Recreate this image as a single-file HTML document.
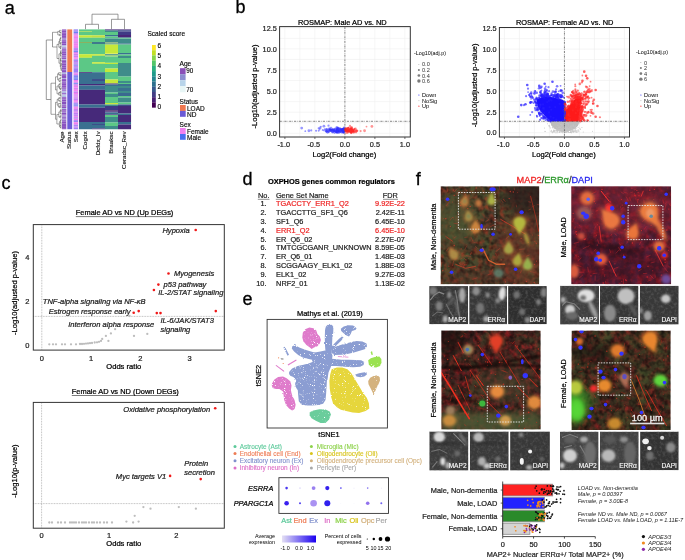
<!DOCTYPE html>
<html><head><meta charset="utf-8"><style>
html,body{margin:0;padding:0;background:#fff;width:685px;height:560px;overflow:hidden}
svg{display:block;filter:blur(0.3px);font-family:"Liberation Sans",sans-serif}
text{opacity:0.999;paint-order:stroke}
</style></head><body>
<svg width="685" height="560" viewBox="0 0 685 560">
<rect width="685" height="560" fill="#fff"/>
<defs>
<filter id="soft" color-interpolation-filters="sRGB" x="0" y="0" width="100%" height="100%"><feGaussianBlur stdDeviation="0.45"/></filter>
<filter id="b05" color-interpolation-filters="sRGB" x="-50%" y="-50%" width="200%" height="200%"><feGaussianBlur stdDeviation="0.5"/></filter>
<filter id="b07" color-interpolation-filters="sRGB" x="-50%" y="-50%" width="200%" height="200%"><feGaussianBlur stdDeviation="0.7"/></filter>
<filter id="b1" color-interpolation-filters="sRGB" x="-50%" y="-50%" width="200%" height="200%"><feGaussianBlur stdDeviation="1"/></filter>
<filter id="b15" color-interpolation-filters="sRGB" x="-50%" y="-50%" width="200%" height="200%"><feGaussianBlur stdDeviation="1.5"/></filter>
<filter id="b2" color-interpolation-filters="sRGB" x="-50%" y="-50%" width="200%" height="200%"><feGaussianBlur stdDeviation="2"/></filter>
<filter id="b3" color-interpolation-filters="sRGB" x="-50%" y="-50%" width="200%" height="200%"><feGaussianBlur stdDeviation="3"/></filter>
<filter id="b5" color-interpolation-filters="sRGB" x="-50%" y="-50%" width="200%" height="200%"><feGaussianBlur stdDeviation="5"/></filter>
<linearGradient id="expg" x1="0" x2="1" y1="0" y2="0"><stop offset="0" stop-color="#e4e0f4"/><stop offset="1" stop-color="#1a00f0"/></linearGradient>
<filter id="rag" color-interpolation-filters="sRGB" x="-5%" y="-5%" width="110%" height="110%"><feTurbulence type="fractalNoise" baseFrequency="0.9" numOctaves="1" seed="4" result="t"/><feDisplacementMap in="SourceGraphic" in2="t" scale="2.2" xChannelSelector="R" yChannelSelector="G" result="d"/><feTurbulence type="fractalNoise" baseFrequency="1.1" numOctaves="1" seed="9" result="t2"/><feColorMatrix in="t2" type="matrix" values="0 0 0 0 0  0 0 0 0 0  0 0 0 0 0  -12 0 0 0 8.9" result="m"/><feComposite in="d" in2="m" operator="in"/></filter>
</defs>
<defs>
<filter id="nzR" color-interpolation-filters="sRGB" x="0" y="0" width="100%" height="100%"><feTurbulence type="fractalNoise" baseFrequency="0.18" numOctaves="2" seed="3"/><feColorMatrix type="matrix" values="0 0 0 0 0.75  0 0 0 0 0.18  0 0 0 0 0.12  1.6 0 0 0 -0.68"/></filter>
<filter id="nzR2" color-interpolation-filters="sRGB" x="0" y="0" width="100%" height="100%"><feTurbulence type="fractalNoise" baseFrequency="0.16" numOctaves="3" seed="8"/><feColorMatrix type="matrix" values="0 0 0 0 0.78  0 0 0 0 0.1  0 0 0 0 0.14  1.6 0 0 0 -0.62"/></filter>
<filter id="nzG" color-interpolation-filters="sRGB" x="0" y="0" width="100%" height="100%"><feTurbulence type="fractalNoise" baseFrequency="0.06" numOctaves="2" seed="5"/><feColorMatrix type="matrix" values="0 0 0 0 0.3  0 0 0 0 0.4  0 0 0 0 0.2  0 1.6 0 0 -0.6"/></filter>
<filter id="nzP" color-interpolation-filters="sRGB" x="0" y="0" width="100%" height="100%"><feTurbulence type="fractalNoise" baseFrequency="0.1" numOctaves="2" seed="11"/><feColorMatrix type="matrix" values="0 0 0 0 0.4  0 0 0 0 0.22  0 0 0 0 0.42  0 0 1.5 0 -0.6"/></filter>
<filter id="nzD" color-interpolation-filters="sRGB" x="0" y="0" width="100%" height="100%"><feTurbulence type="fractalNoise" baseFrequency="0.2" numOctaves="2" seed="21"/><feColorMatrix type="matrix" values="0 0 0 0 0.05  0 0 0 0 0.03  0 0 0 0 0.03  0 0 1.8 0 -0.7"/></filter>
<filter id="nzW" color-interpolation-filters="sRGB" x="0" y="0" width="100%" height="100%"><feTurbulence type="fractalNoise" baseFrequency="0.35" numOctaves="2" seed="31"/><feColorMatrix type="matrix" values="0 0 0 0 0.42  0 0 0 0 0.42  0 0 0 0 0.42  1.3 0 0 0 -0.55"/></filter>
</defs>
<text x="4.80" y="14.00" font-size="18" text-anchor="start" fill="#000" stroke="#000" stroke-width="0.30">a</text>
<rect x="79.00" y="29.40" width="13.05" height="1.65" fill="#5cc886"/>
<rect x="79.00" y="31.00" width="13.05" height="0.85" fill="#a8dc50"/>
<rect x="79.00" y="31.80" width="13.05" height="3.55" fill="#5cc886"/>
<rect x="79.00" y="35.30" width="13.05" height="2.45" fill="#c6e83a"/>
<rect x="79.00" y="37.70" width="13.05" height="4.35" fill="#5cc886"/>
<rect x="79.00" y="42.00" width="13.05" height="1.05" fill="#8cb060"/>
<rect x="79.00" y="43.00" width="13.05" height="11.25" fill="#5cc886"/>
<rect x="79.00" y="54.20" width="13.05" height="3.65" fill="#c6e83a"/>
<rect x="79.00" y="57.80" width="13.05" height="14.45" fill="#5cc886"/>
<rect x="79.00" y="72.20" width="13.05" height="0.85" fill="#46297a"/>
<rect x="79.00" y="73.00" width="13.05" height="11.05" fill="#3a7090"/>
<rect x="79.00" y="84.00" width="13.05" height="1.55" fill="#46297a"/>
<rect x="79.00" y="85.50" width="13.05" height="4.35" fill="#3a7090"/>
<rect x="79.00" y="89.80" width="13.05" height="14.75" fill="#46297a"/>
<rect x="79.00" y="104.50" width="13.05" height="3.25" fill="#3a7090"/>
<rect x="79.00" y="107.70" width="13.05" height="14.35" fill="#46297a"/>
<rect x="79.00" y="122.00" width="13.05" height="7.25" fill="#3a7090"/>
<rect x="92.00" y="29.40" width="13.05" height="5.95" fill="#5cc886"/>
<rect x="92.00" y="35.30" width="13.05" height="2.45" fill="#c0e040"/>
<rect x="92.00" y="37.70" width="13.05" height="4.35" fill="#5cc886"/>
<rect x="92.00" y="42.00" width="13.05" height="2.05" fill="#3f7a8c"/>
<rect x="92.00" y="44.00" width="13.05" height="10.25" fill="#5cc886"/>
<rect x="92.00" y="54.20" width="13.05" height="1.65" fill="#c6e83a"/>
<rect x="92.00" y="55.80" width="13.05" height="6.45" fill="#5cc886"/>
<rect x="92.00" y="62.20" width="13.05" height="1.65" fill="#c6e83a"/>
<rect x="92.00" y="63.80" width="13.05" height="8.45" fill="#5cc886"/>
<rect x="92.00" y="72.20" width="13.05" height="6.85" fill="#3a7090"/>
<rect x="92.00" y="79.00" width="13.05" height="2.05" fill="#3d4e8a"/>
<rect x="92.00" y="81.00" width="13.05" height="3.05" fill="#3a7090"/>
<rect x="92.00" y="84.00" width="13.05" height="1.55" fill="#46297a"/>
<rect x="92.00" y="85.50" width="13.05" height="4.35" fill="#3a7090"/>
<rect x="92.00" y="89.80" width="13.05" height="14.75" fill="#46297a"/>
<rect x="92.00" y="104.50" width="13.05" height="3.25" fill="#3a7090"/>
<rect x="92.00" y="107.70" width="13.05" height="14.35" fill="#46297a"/>
<rect x="92.00" y="122.00" width="13.05" height="2.05" fill="#3a7090"/>
<rect x="92.00" y="124.00" width="13.05" height="1.05" fill="#3d4e8a"/>
<rect x="92.00" y="125.00" width="13.05" height="3.55" fill="#3a7090"/>
<rect x="92.00" y="128.50" width="13.05" height="0.75" fill="#46297a"/>
<rect x="105.00" y="29.40" width="13.05" height="1.15" fill="#46297a"/>
<rect x="105.00" y="30.50" width="13.05" height="1.55" fill="#3f8c8a"/>
<rect x="105.00" y="32.00" width="13.05" height="3.05" fill="#5cc886"/>
<rect x="105.00" y="35.00" width="13.05" height="1.55" fill="#3a7090"/>
<rect x="105.00" y="36.50" width="13.05" height="2.05" fill="#5cc886"/>
<rect x="105.00" y="38.50" width="13.05" height="4.05" fill="#3f8c8a"/>
<rect x="105.00" y="42.50" width="13.05" height="1.05" fill="#8cb060"/>
<rect x="105.00" y="43.50" width="13.05" height="1.05" fill="#3f8c8a"/>
<rect x="105.00" y="44.50" width="13.05" height="9.05" fill="#c6e83a"/>
<rect x="105.00" y="53.50" width="13.05" height="0.75" fill="#d8e838"/>
<rect x="105.00" y="54.20" width="13.05" height="1.35" fill="#3f8c8a"/>
<rect x="105.00" y="55.50" width="13.05" height="1.05" fill="#a0d850"/>
<rect x="105.00" y="56.50" width="13.05" height="6.35" fill="#5cc886"/>
<rect x="105.00" y="62.80" width="13.05" height="1.25" fill="#c6e83a"/>
<rect x="105.00" y="64.00" width="13.05" height="4.55" fill="#5cc886"/>
<rect x="105.00" y="68.50" width="13.05" height="3.55" fill="#c6e83a"/>
<rect x="105.00" y="72.00" width="13.05" height="7.55" fill="#5cc886"/>
<rect x="105.00" y="79.50" width="13.05" height="4.05" fill="#c6e83a"/>
<rect x="105.00" y="83.50" width="13.05" height="1.05" fill="#46297a"/>
<rect x="105.00" y="84.50" width="13.05" height="1.55" fill="#3a7090"/>
<rect x="105.00" y="86.00" width="13.05" height="6.55" fill="#3f8c8a"/>
<rect x="105.00" y="92.50" width="13.05" height="1.55" fill="#5cc886"/>
<rect x="105.00" y="94.00" width="13.05" height="3.05" fill="#3f8c8a"/>
<rect x="105.00" y="97.00" width="13.05" height="6.05" fill="#5cc886"/>
<rect x="105.00" y="103.00" width="13.05" height="1.55" fill="#c6e83a"/>
<rect x="105.00" y="104.50" width="13.05" height="1.55" fill="#3f8c8a"/>
<rect x="105.00" y="106.00" width="13.05" height="4.55" fill="#3f3a85"/>
<rect x="105.00" y="110.50" width="13.05" height="1.05" fill="#440c55"/>
<rect x="105.00" y="111.50" width="13.05" height="1.05" fill="#3f3a85"/>
<rect x="105.00" y="112.50" width="13.05" height="2.05" fill="#3a7090"/>
<rect x="105.00" y="114.50" width="13.05" height="0.55" fill="#46297a"/>
<rect x="105.00" y="115.00" width="13.05" height="2.05" fill="#5cc886"/>
<rect x="105.00" y="117.00" width="13.05" height="5.55" fill="#3f8c8a"/>
<rect x="105.00" y="122.50" width="13.05" height="3.55" fill="#5cc886"/>
<rect x="105.00" y="126.00" width="13.05" height="3.25" fill="#3f8c8a"/>
<rect x="118.00" y="29.40" width="13.05" height="0.95" fill="#46297a"/>
<rect x="118.00" y="30.30" width="13.05" height="1.25" fill="#3d4e8a"/>
<rect x="118.00" y="31.50" width="13.05" height="3.55" fill="#403a85"/>
<rect x="118.00" y="35.00" width="13.05" height="2.55" fill="#4a2478"/>
<rect x="118.00" y="37.50" width="13.05" height="1.05" fill="#3f8c8a"/>
<rect x="118.00" y="38.50" width="13.05" height="0.55" fill="#5cc886"/>
<rect x="118.00" y="39.00" width="13.05" height="4.55" fill="#3f8c8a"/>
<rect x="118.00" y="43.50" width="13.05" height="1.05" fill="#3a7090"/>
<rect x="118.00" y="44.50" width="13.05" height="8.55" fill="#5cc886"/>
<rect x="118.00" y="53.00" width="13.05" height="1.55" fill="#3a7090"/>
<rect x="118.00" y="54.50" width="13.05" height="1.55" fill="#5cc886"/>
<rect x="118.00" y="56.00" width="13.05" height="2.05" fill="#3f8c8a"/>
<rect x="118.00" y="58.00" width="13.05" height="5.05" fill="#5cc886"/>
<rect x="118.00" y="63.00" width="13.05" height="13.55" fill="#3f8c8a"/>
<rect x="118.00" y="76.50" width="13.05" height="4.55" fill="#5cc886"/>
<rect x="118.00" y="81.00" width="13.05" height="2.05" fill="#3f8c8a"/>
<rect x="118.00" y="83.00" width="13.05" height="1.05" fill="#5cc886"/>
<rect x="118.00" y="84.00" width="13.05" height="2.05" fill="#3a7090"/>
<rect x="118.00" y="86.00" width="13.05" height="2.05" fill="#3f8c8a"/>
<rect x="118.00" y="88.00" width="13.05" height="3.05" fill="#3a7090"/>
<rect x="118.00" y="91.00" width="13.05" height="2.05" fill="#3f8c8a"/>
<rect x="118.00" y="93.00" width="13.05" height="3.05" fill="#3a6890"/>
<rect x="118.00" y="96.00" width="13.05" height="1.55" fill="#5cc886"/>
<rect x="118.00" y="97.50" width="13.05" height="5.05" fill="#3f8c8a"/>
<rect x="118.00" y="102.50" width="13.05" height="2.05" fill="#5cc886"/>
<rect x="118.00" y="104.50" width="13.05" height="1.55" fill="#3d4e8a"/>
<rect x="118.00" y="106.00" width="13.05" height="7.55" fill="#46297a"/>
<rect x="118.00" y="113.50" width="13.05" height="1.55" fill="#3a7090"/>
<rect x="118.00" y="115.00" width="13.05" height="7.05" fill="#46297a"/>
<rect x="118.00" y="122.00" width="13.05" height="2.55" fill="#3a7090"/>
<rect x="118.00" y="124.50" width="13.05" height="4.75" fill="#46297a"/>
<rect x="67.30" y="29.40" width="4.90" height="42.60" fill="#f07b52"/>
<rect x="67.30" y="72.00" width="4.90" height="57.20" fill="#6b5bd6"/>
<rect x="62.00" y="29.40" width="4.30" height="1.25" fill="#9058c4"/>
<rect x="62.00" y="30.60" width="4.30" height="1.65" fill="#8a52c0"/>
<rect x="62.00" y="32.20" width="4.30" height="0.85" fill="#9460c8"/>
<rect x="62.00" y="33.00" width="4.30" height="0.85" fill="#8a52c0"/>
<rect x="62.00" y="33.80" width="4.30" height="2.05" fill="#8a52c0"/>
<rect x="62.00" y="35.80" width="4.30" height="2.05" fill="#8a52c0"/>
<rect x="62.00" y="37.80" width="4.30" height="0.85" fill="#8a52c0"/>
<rect x="62.00" y="38.60" width="4.30" height="1.65" fill="#a890d8"/>
<rect x="62.00" y="40.20" width="4.30" height="0.85" fill="#8a52c0"/>
<rect x="62.00" y="41.00" width="4.30" height="0.85" fill="#9460c8"/>
<rect x="62.00" y="41.80" width="4.30" height="1.65" fill="#8a52c0"/>
<rect x="62.00" y="43.40" width="4.30" height="2.05" fill="#8a52c0"/>
<rect x="62.00" y="45.40" width="4.30" height="1.05" fill="#b0b8e4"/>
<rect x="62.00" y="46.40" width="4.30" height="0.85" fill="#b0b8e4"/>
<rect x="62.00" y="47.20" width="4.30" height="2.05" fill="#a890d8"/>
<rect x="62.00" y="49.20" width="4.30" height="0.85" fill="#8a52c0"/>
<rect x="62.00" y="50.00" width="4.30" height="0.85" fill="#9460c8"/>
<rect x="62.00" y="50.80" width="4.30" height="1.05" fill="#9a70cc"/>
<rect x="62.00" y="51.80" width="4.30" height="1.65" fill="#9058c4"/>
<rect x="62.00" y="53.40" width="4.30" height="2.05" fill="#8a52c0"/>
<rect x="62.00" y="55.40" width="4.30" height="2.05" fill="#9a70cc"/>
<rect x="62.00" y="57.40" width="4.30" height="2.05" fill="#9058c4"/>
<rect x="62.00" y="59.40" width="4.30" height="0.85" fill="#b0b8e4"/>
<rect x="62.00" y="60.20" width="4.30" height="2.05" fill="#8a52c0"/>
<rect x="62.00" y="62.20" width="4.30" height="1.25" fill="#8a52c0"/>
<rect x="62.00" y="63.40" width="4.30" height="2.05" fill="#8a52c0"/>
<rect x="62.00" y="65.40" width="4.30" height="2.05" fill="#8a52c0"/>
<rect x="62.00" y="67.40" width="4.30" height="2.05" fill="#8a52c0"/>
<rect x="62.00" y="69.40" width="4.30" height="1.65" fill="#9460c8"/>
<rect x="62.00" y="71.00" width="4.30" height="1.65" fill="#8a52c0"/>
<rect x="62.00" y="72.60" width="4.30" height="1.65" fill="#b0b8e4"/>
<rect x="62.00" y="74.20" width="4.30" height="1.65" fill="#8a52c0"/>
<rect x="62.00" y="75.80" width="4.30" height="1.25" fill="#8a52c0"/>
<rect x="62.00" y="77.00" width="4.30" height="1.05" fill="#8a52c0"/>
<rect x="62.00" y="78.00" width="4.30" height="0.85" fill="#b0b8e4"/>
<rect x="62.00" y="78.80" width="4.30" height="1.25" fill="#9460c8"/>
<rect x="62.00" y="80.00" width="4.30" height="1.65" fill="#8a52c0"/>
<rect x="62.00" y="81.60" width="4.30" height="1.65" fill="#9a70cc"/>
<rect x="62.00" y="83.20" width="4.30" height="2.05" fill="#8a52c0"/>
<rect x="62.00" y="85.20" width="4.30" height="0.85" fill="#9460c8"/>
<rect x="62.00" y="86.00" width="4.30" height="1.65" fill="#9058c4"/>
<rect x="62.00" y="87.60" width="4.30" height="1.25" fill="#9058c4"/>
<rect x="62.00" y="88.80" width="4.30" height="1.65" fill="#a890d8"/>
<rect x="62.00" y="90.40" width="4.30" height="0.85" fill="#8a52c0"/>
<rect x="62.00" y="91.20" width="4.30" height="2.05" fill="#b0b8e4"/>
<rect x="62.00" y="93.20" width="4.30" height="1.25" fill="#8a52c0"/>
<rect x="62.00" y="94.40" width="4.30" height="1.25" fill="#b0b8e4"/>
<rect x="62.00" y="95.60" width="4.30" height="1.65" fill="#b0b8e4"/>
<rect x="62.00" y="97.20" width="4.30" height="1.65" fill="#8a52c0"/>
<rect x="62.00" y="98.80" width="4.30" height="0.85" fill="#9a70cc"/>
<rect x="62.00" y="99.60" width="4.30" height="1.65" fill="#8a52c0"/>
<rect x="62.00" y="101.20" width="4.30" height="0.85" fill="#9a70cc"/>
<rect x="62.00" y="102.00" width="4.30" height="2.05" fill="#8650bc"/>
<rect x="62.00" y="104.00" width="4.30" height="1.25" fill="#a890d8"/>
<rect x="62.00" y="105.20" width="4.30" height="1.25" fill="#8a52c0"/>
<rect x="62.00" y="106.40" width="4.30" height="1.65" fill="#8a52c0"/>
<rect x="62.00" y="108.00" width="4.30" height="1.05" fill="#b0b8e4"/>
<rect x="62.00" y="109.00" width="4.30" height="0.85" fill="#8650bc"/>
<rect x="62.00" y="109.80" width="4.30" height="0.85" fill="#8a52c0"/>
<rect x="62.00" y="110.60" width="4.30" height="1.25" fill="#9058c4"/>
<rect x="62.00" y="111.80" width="4.30" height="1.05" fill="#a890d8"/>
<rect x="62.00" y="112.80" width="4.30" height="1.65" fill="#8650bc"/>
<rect x="62.00" y="114.40" width="4.30" height="0.85" fill="#9058c4"/>
<rect x="62.00" y="115.20" width="4.30" height="1.65" fill="#a890d8"/>
<rect x="62.00" y="116.80" width="4.30" height="2.05" fill="#9a70cc"/>
<rect x="62.00" y="118.80" width="4.30" height="1.05" fill="#a890d8"/>
<rect x="62.00" y="119.80" width="4.30" height="2.05" fill="#9a70cc"/>
<rect x="62.00" y="121.80" width="4.30" height="1.65" fill="#8a52c0"/>
<rect x="62.00" y="123.40" width="4.30" height="1.65" fill="#8a52c0"/>
<rect x="62.00" y="125.00" width="4.30" height="1.05" fill="#8a52c0"/>
<rect x="62.00" y="126.00" width="4.30" height="1.05" fill="#9058c4"/>
<rect x="62.00" y="127.00" width="4.30" height="1.05" fill="#8a52c0"/>
<rect x="62.00" y="128.00" width="4.30" height="0.85" fill="#8650bc"/>
<rect x="62.00" y="128.80" width="4.30" height="0.45" fill="#9058c4"/>
<rect x="73.60" y="29.40" width="4.50" height="1.35" fill="#8a80f4"/>
<rect x="73.60" y="30.70" width="4.50" height="0.85" fill="#c07ef4"/>
<rect x="73.60" y="31.50" width="4.50" height="1.65" fill="#6f7ff5"/>
<rect x="73.60" y="33.10" width="4.50" height="1.35" fill="#c07ef4"/>
<rect x="73.60" y="34.40" width="4.50" height="0.85" fill="#d080f0"/>
<rect x="73.60" y="35.20" width="4.50" height="1.65" fill="#f07ef0"/>
<rect x="73.60" y="36.80" width="4.50" height="1.65" fill="#f07ef0"/>
<rect x="73.60" y="38.40" width="4.50" height="0.85" fill="#d080f0"/>
<rect x="73.60" y="39.20" width="4.50" height="1.65" fill="#f07ef0"/>
<rect x="73.60" y="40.80" width="4.50" height="1.05" fill="#f07ef0"/>
<rect x="73.60" y="41.80" width="4.50" height="1.05" fill="#d080f0"/>
<rect x="73.60" y="42.80" width="4.50" height="1.05" fill="#f07ef0"/>
<rect x="73.60" y="43.80" width="4.50" height="1.35" fill="#f07ef0"/>
<rect x="73.60" y="45.10" width="4.50" height="0.85" fill="#f07ef0"/>
<rect x="73.60" y="45.90" width="4.50" height="1.05" fill="#f07ef0"/>
<rect x="73.60" y="46.90" width="4.50" height="1.35" fill="#f07ef0"/>
<rect x="73.60" y="48.20" width="4.50" height="0.85" fill="#a07ef8"/>
<rect x="73.60" y="49.00" width="4.50" height="1.65" fill="#c07ef4"/>
<rect x="73.60" y="50.60" width="4.50" height="1.35" fill="#6f7ff5"/>
<rect x="73.60" y="51.90" width="4.50" height="1.35" fill="#d080f0"/>
<rect x="73.60" y="53.20" width="4.50" height="0.85" fill="#f07ef0"/>
<rect x="73.60" y="54.00" width="4.50" height="1.65" fill="#d080f0"/>
<rect x="73.60" y="55.60" width="4.50" height="1.65" fill="#d080f0"/>
<rect x="73.60" y="57.20" width="4.50" height="1.35" fill="#f07ef0"/>
<rect x="73.60" y="58.50" width="4.50" height="1.05" fill="#f07ef0"/>
<rect x="73.60" y="59.50" width="4.50" height="1.35" fill="#8a80f4"/>
<rect x="73.60" y="60.80" width="4.50" height="1.65" fill="#c07ef4"/>
<rect x="73.60" y="62.40" width="4.50" height="0.85" fill="#a07ef8"/>
<rect x="73.60" y="63.20" width="4.50" height="1.35" fill="#c07ef4"/>
<rect x="73.60" y="64.50" width="4.50" height="0.85" fill="#8a80f4"/>
<rect x="73.60" y="65.30" width="4.50" height="0.85" fill="#8a80f4"/>
<rect x="73.60" y="66.10" width="4.50" height="1.35" fill="#c07ef4"/>
<rect x="73.60" y="67.40" width="4.50" height="1.35" fill="#a07ef8"/>
<rect x="73.60" y="68.70" width="4.50" height="1.35" fill="#a07ef8"/>
<rect x="73.60" y="70.00" width="4.50" height="1.05" fill="#a07ef8"/>
<rect x="73.60" y="71.00" width="4.50" height="1.65" fill="#a07ef8"/>
<rect x="73.60" y="72.60" width="4.50" height="1.05" fill="#d080f0"/>
<rect x="73.60" y="73.60" width="4.50" height="1.35" fill="#f07ef0"/>
<rect x="73.60" y="74.90" width="4.50" height="0.85" fill="#8a80f4"/>
<rect x="73.60" y="75.70" width="4.50" height="1.65" fill="#8a80f4"/>
<rect x="73.60" y="77.30" width="4.50" height="1.05" fill="#6f7ff5"/>
<rect x="73.60" y="78.30" width="4.50" height="1.65" fill="#6f7ff5"/>
<rect x="73.60" y="79.90" width="4.50" height="1.35" fill="#f07ef0"/>
<rect x="73.60" y="81.20" width="4.50" height="1.05" fill="#f07ef0"/>
<rect x="73.60" y="82.20" width="4.50" height="1.05" fill="#d080f0"/>
<rect x="73.60" y="83.20" width="4.50" height="1.05" fill="#6f7ff5"/>
<rect x="73.60" y="84.20" width="4.50" height="1.05" fill="#d080f0"/>
<rect x="73.60" y="85.20" width="4.50" height="0.85" fill="#d080f0"/>
<rect x="73.60" y="86.00" width="4.50" height="1.35" fill="#f07ef0"/>
<rect x="73.60" y="87.30" width="4.50" height="0.85" fill="#f07ef0"/>
<rect x="73.60" y="88.10" width="4.50" height="1.05" fill="#d080f0"/>
<rect x="73.60" y="89.10" width="4.50" height="1.05" fill="#f07ef0"/>
<rect x="73.60" y="90.10" width="4.50" height="1.35" fill="#f07ef0"/>
<rect x="73.60" y="91.40" width="4.50" height="1.65" fill="#d080f0"/>
<rect x="73.60" y="93.00" width="4.50" height="1.65" fill="#f07ef0"/>
<rect x="73.60" y="94.60" width="4.50" height="1.05" fill="#c07ef4"/>
<rect x="73.60" y="95.60" width="4.50" height="1.05" fill="#f07ef0"/>
<rect x="73.60" y="96.60" width="4.50" height="1.05" fill="#d080f0"/>
<rect x="73.60" y="97.60" width="4.50" height="1.05" fill="#d080f0"/>
<rect x="73.60" y="98.60" width="4.50" height="1.35" fill="#c07ef4"/>
<rect x="73.60" y="99.90" width="4.50" height="1.05" fill="#f07ef0"/>
<rect x="73.60" y="100.90" width="4.50" height="0.85" fill="#f07ef0"/>
<rect x="73.60" y="101.70" width="4.50" height="1.05" fill="#f07ef0"/>
<rect x="73.60" y="102.70" width="4.50" height="1.05" fill="#a07ef8"/>
<rect x="73.60" y="103.70" width="4.50" height="0.85" fill="#8a80f4"/>
<rect x="73.60" y="104.50" width="4.50" height="1.05" fill="#8a80f4"/>
<rect x="73.60" y="105.50" width="4.50" height="1.05" fill="#6f7ff5"/>
<rect x="73.60" y="106.50" width="4.50" height="1.35" fill="#f07ef0"/>
<rect x="73.60" y="107.80" width="4.50" height="1.05" fill="#f07ef0"/>
<rect x="73.60" y="108.80" width="4.50" height="1.35" fill="#d080f0"/>
<rect x="73.60" y="110.10" width="4.50" height="1.65" fill="#c07ef4"/>
<rect x="73.60" y="111.70" width="4.50" height="1.05" fill="#f07ef0"/>
<rect x="73.60" y="112.70" width="4.50" height="1.65" fill="#c07ef4"/>
<rect x="73.60" y="114.30" width="4.50" height="0.85" fill="#c07ef4"/>
<rect x="73.60" y="115.10" width="4.50" height="1.05" fill="#c07ef4"/>
<rect x="73.60" y="116.10" width="4.50" height="1.65" fill="#f07ef0"/>
<rect x="73.60" y="117.70" width="4.50" height="0.85" fill="#6f7ff5"/>
<rect x="73.60" y="118.50" width="4.50" height="1.65" fill="#f07ef0"/>
<rect x="73.60" y="120.10" width="4.50" height="0.85" fill="#a07ef8"/>
<rect x="73.60" y="120.90" width="4.50" height="1.05" fill="#8a80f4"/>
<rect x="73.60" y="121.90" width="4.50" height="0.85" fill="#f07ef0"/>
<rect x="73.60" y="122.70" width="4.50" height="1.65" fill="#f07ef0"/>
<rect x="73.60" y="124.30" width="4.50" height="0.85" fill="#d080f0"/>
<rect x="73.60" y="125.10" width="4.50" height="1.35" fill="#a07ef8"/>
<rect x="73.60" y="126.40" width="4.50" height="1.35" fill="#d080f0"/>
<rect x="73.60" y="127.70" width="4.50" height="1.55" fill="#a07ef8"/>
<path d="M85.5,29.2V24.3H98.5V29.2 M111.5,29.2V19.3H124.5V29.2 M92,24.3V14.2H118V19.3" fill="none" stroke="#6e6e6e" stroke-width="0.7"/>
<path d="M46.3,40V99.5 M46.3,40H52.5 M52.5,32.3V47 M46.3,99.5H51 M51,83.2V114.3" fill="none" stroke="#6e6e6e" stroke-width="0.7"/>
<path d="M60.40,30.38H61.5 M60.91,31.89H61.5 M60.91,33.04H61.5 M60.67,31.89H60.91 M60.67,33.04H60.91 M60.67,31.89V33.04 M59.51,30.38H60.40 M59.51,32.47H60.67 M59.51,30.38V32.47 M60.11,34.19H61.5 M60.23,35.71H61.5 M59.59,34.19H60.11 M59.59,35.71H60.23 M59.59,34.19V35.71 M52.50,32.30H57.80 M57.80,31.42H59.51 M57.80,34.95H59.59 M57.80,31.42V34.95 M60.99,37.27H61.5 M61.14,38.96H61.5 M60.62,37.27H60.99 M60.62,38.96H61.14 M60.62,37.27V38.96 M60.95,40.64H61.5 M60.19,38.12H60.62 M60.19,40.64H60.95 M60.19,38.12V40.64 M61.14,42.01H61.5 M61.11,43.21H61.5 M60.93,42.01H61.14 M60.93,43.21H61.11 M60.93,42.01V43.21 M61.00,44.50H61.5 M60.67,42.61H60.93 M60.67,44.50H61.00 M60.67,42.61V44.50 M59.62,39.38H60.19 M59.62,43.56H60.67 M59.62,39.38V43.56 M61.10,45.70H61.5 M61.00,46.66H61.5 M60.83,45.70H61.10 M60.83,46.66H61.00 M60.83,45.70V46.66 M60.97,47.68H61.5 M60.93,48.97H61.5 M60.50,47.68H60.97 M60.50,48.97H60.93 M60.50,47.68V48.97 M60.15,46.18H60.83 M60.15,48.33H60.50 M60.15,46.18V48.33 M58.80,41.47H59.62 M58.80,47.25H60.15 M58.80,41.47V47.25 M61.15,50.49H61.5 M61.21,51.89H61.5 M61.36,53.18H61.5 M61.36,54.29H61.5 M61.29,53.18H61.36 M61.29,54.29H61.36 M61.29,53.18V54.29 M61.02,51.89H61.21 M61.02,53.74H61.29 M61.02,51.89V53.74 M60.77,50.49H61.15 M60.77,52.81H61.02 M60.77,50.49V52.81 M61.13,55.46H61.5 M61.16,56.59H61.5 M60.82,55.46H61.13 M60.82,56.59H61.16 M60.82,55.46V56.59 M60.47,51.65H60.77 M60.47,56.03H60.82 M60.47,51.65V56.03 M61.20,57.62H61.5 M61.04,58.81H61.5 M60.86,57.62H61.20 M60.86,58.81H61.04 M60.86,57.62V58.81 M61.23,60.20H61.5 M61.33,61.54H61.5 M61.13,60.20H61.23 M61.13,61.54H61.33 M61.13,60.20V61.54 M60.62,58.22H60.86 M60.62,60.87H61.13 M60.62,58.22V60.87 M61.33,62.84H61.5 M61.32,64.45H61.5 M61.25,62.84H61.33 M61.25,64.45H61.32 M61.25,62.84V64.45 M61.23,66.03H61.5 M61.11,63.64H61.25 M61.11,66.03H61.23 M61.11,63.64V66.03 M61.25,67.77H61.5 M61.35,69.41H61.5 M61.39,71.05H61.5 M61.27,69.41H61.35 M61.27,71.05H61.39 M61.27,69.41V71.05 M61.16,67.77H61.25 M61.16,70.23H61.27 M61.16,67.77V70.23 M60.89,64.84H61.11 M60.89,69.00H61.16 M60.89,64.84V69.00 M60.30,59.54H60.62 M60.30,66.92H60.89 M60.30,59.54V66.92 M58.96,53.84H60.47 M58.96,63.23H60.30 M58.96,53.84V63.23 M52.50,47.00H57.00 M57.00,44.36H58.80 M57.00,58.53H58.96 M57.00,44.36V58.53 M60.07,72.73H61.5 M60.56,74.09H61.5 M61.18,75.07H61.5 M61.09,76.11H61.5 M60.82,75.07H61.18 M60.82,76.11H61.09 M60.82,75.07V76.11 M59.88,74.09H60.56 M59.88,75.59H60.82 M59.88,74.09V75.59 M58.60,72.73H60.07 M58.60,74.84H59.88 M58.60,72.73V74.84 M60.90,77.56H61.5 M61.02,79.09H61.5 M60.32,77.56H60.90 M60.32,79.09H61.02 M60.32,77.56V79.09 M60.77,80.52H61.5 M60.70,82.06H61.5 M59.92,80.52H60.77 M59.92,82.06H60.70 M59.92,80.52V82.06 M58.92,78.32H60.32 M58.92,81.29H59.92 M58.92,78.32V81.29 M57.60,73.79H58.60 M57.60,79.81H58.92 M57.60,73.79V79.81 M60.23,83.67H61.5 M60.17,84.93H61.5 M59.58,83.67H60.23 M59.58,84.93H60.17 M59.58,83.67V84.93 M60.60,86.32H61.5 M61.16,87.62H61.5 M61.10,88.62H61.5 M60.93,87.62H61.16 M60.93,88.62H61.10 M60.93,87.62V88.62 M60.91,89.97H61.5 M60.62,88.12H60.93 M60.62,89.97H60.91 M60.62,88.12V89.97 M59.52,86.32H60.60 M59.52,89.04H60.62 M59.52,86.32V89.04 M58.77,84.30H59.58 M58.77,87.68H59.52 M58.77,84.30V87.68 M60.84,91.44H61.5 M60.85,92.47H61.5 M60.47,91.44H60.84 M60.47,92.47H60.85 M60.47,91.44V92.47 M60.27,93.26H61.5 M59.65,91.95H60.47 M59.65,93.26H60.27 M59.65,91.95V93.26 M60.78,94.22H61.5 M61.04,95.28H61.5 M61.11,96.43H61.5 M60.82,95.28H61.04 M60.82,96.43H61.11 M60.82,95.28V96.43 M60.34,94.22H60.78 M60.34,95.86H60.82 M60.34,94.22V95.86 M58.69,92.61H59.65 M58.69,95.04H60.34 M58.69,92.61V95.04 M57.02,85.99H58.77 M57.02,93.82H58.69 M57.02,85.99V93.82 M51.00,83.20H55.50 M55.50,76.80H57.60 M55.50,89.91H57.02 M55.50,76.80V89.91 M60.46,97.56H61.5 M60.39,98.65H61.5 M59.37,97.56H60.46 M59.37,98.65H60.39 M59.37,97.56V98.65 M60.73,100.06H61.5 M60.44,101.55H61.5 M59.77,100.06H60.73 M59.77,101.55H60.44 M59.77,100.06V101.55 M58.32,98.10H59.37 M58.32,100.81H59.77 M58.32,98.10V100.81 M60.82,102.94H61.5 M60.54,104.25H61.5 M60.20,102.94H60.82 M60.20,104.25H60.54 M60.20,102.94V104.25 M61.04,105.44H61.5 M60.81,106.54H61.5 M60.52,105.44H61.04 M60.52,106.54H60.81 M60.52,105.44V106.54 M60.31,107.61H61.5 M59.26,105.99H60.52 M59.26,107.61H60.31 M59.26,105.99V107.61 M58.29,103.60H60.20 M58.29,106.80H59.26 M58.29,103.60V106.80 M57.18,99.45H58.32 M57.18,105.20H58.29 M57.18,99.45V105.20 M61.04,109.09H61.5 M61.19,110.52H61.5 M61.30,111.84H61.5 M61.06,110.52H61.19 M61.06,111.84H61.30 M61.06,110.52V111.84 M60.87,109.09H61.04 M60.87,111.18H61.06 M60.87,109.09V111.18 M61.17,113.16H61.5 M61.17,114.29H61.5 M60.88,113.16H61.17 M60.88,114.29H61.17 M60.88,113.16V114.29 M60.27,110.14H60.87 M60.27,113.72H60.88 M60.27,110.14V113.72 M61.09,115.53H61.5 M61.02,116.68H61.5 M60.66,115.53H61.09 M60.66,116.68H61.02 M60.66,115.53V116.68 M60.41,117.97H61.5 M60.05,116.10H60.66 M60.05,117.97H60.41 M60.05,116.10V117.97 M58.84,111.93H60.27 M58.84,117.03H60.05 M58.84,111.93V117.03 M61.14,119.45H61.5 M61.01,121.01H61.5 M60.77,119.45H61.14 M60.77,121.01H61.01 M60.77,119.45V121.01 M61.17,122.56H61.5 M61.04,123.63H61.5 M60.70,122.56H61.17 M60.70,123.63H61.04 M60.70,122.56V123.63 M60.40,120.23H60.77 M60.40,123.10H60.70 M60.40,120.23V123.10 M61.02,124.73H61.5 M61.03,125.85H61.5 M60.60,124.73H61.02 M60.60,125.85H61.03 M60.60,124.73V125.85 M60.95,126.74H61.5 M60.98,128.10H61.5 M60.71,126.74H60.95 M60.71,128.10H60.98 M60.71,126.74V128.10 M59.96,125.29H60.60 M59.96,127.42H60.71 M59.96,125.29V127.42 M59.38,121.66H60.40 M59.38,126.36H59.96 M59.38,121.66V126.36 M56.86,114.48H58.84 M56.86,124.01H59.38 M56.86,114.48V124.01 M51.00,114.30H55.50 M55.50,102.33H57.18 M55.50,119.25H56.86 M55.50,102.33V119.25" fill="none" stroke="#4a4a4a" stroke-width="0.5"/>
<text x="0" y="0" font-size="6.2" stroke="#000" stroke-width="0.1" text-anchor="end" transform="translate(62.20,131.5) rotate(-90)" dy="2.2">Age</text>
<text x="0" y="0" font-size="6.2" stroke="#000" stroke-width="0.1" text-anchor="end" transform="translate(69.00,131.5) rotate(-90)" dy="2.2">Status</text>
<text x="0" y="0" font-size="6.2" stroke="#000" stroke-width="0.1" text-anchor="end" transform="translate(75.80,131.5) rotate(-90)" dy="2.2">Sex</text>
<text x="0" y="0" font-size="6.2" stroke="#000" stroke-width="0.1" text-anchor="end" transform="translate(84.80,131.5) rotate(-90)" dy="2.2">Cogdx</text>
<text x="0" y="0" font-size="6.2" stroke="#000" stroke-width="0.1" text-anchor="end" transform="translate(97.60,131.5) rotate(-90)" dy="2.2">Dcfdx_lv</text>
<text x="0" y="0" font-size="6.2" stroke="#000" stroke-width="0.1" text-anchor="end" transform="translate(110.80,131.5) rotate(-90)" dy="2.2">Braaksc</text>
<text x="0" y="0" font-size="6.2" stroke="#000" stroke-width="0.1" text-anchor="end" transform="translate(123.90,131.5) rotate(-90)" dy="2.2">Ceradsc_Rev</text>
<text x="147.50" y="35.60" font-size="6.5" text-anchor="start" fill="#000" stroke="#000" stroke-width="0.13">Scaled score</text>
<rect x="152.00" y="45.00" width="3.80" height="5.27" fill="#fde725"/>
<rect x="152.00" y="50.22" width="3.80" height="5.27" fill="#c2df23"/>
<rect x="152.00" y="55.43" width="3.80" height="5.27" fill="#86d549"/>
<rect x="152.00" y="60.65" width="3.80" height="5.27" fill="#52c569"/>
<rect x="152.00" y="65.87" width="3.80" height="5.27" fill="#2ab07f"/>
<rect x="152.00" y="71.08" width="3.80" height="5.27" fill="#1e9b8a"/>
<rect x="152.00" y="76.30" width="3.80" height="5.27" fill="#25858e"/>
<rect x="152.00" y="81.52" width="3.80" height="5.27" fill="#2d708e"/>
<rect x="152.00" y="86.73" width="3.80" height="5.27" fill="#38598c"/>
<rect x="152.00" y="91.95" width="3.80" height="5.27" fill="#433e85"/>
<rect x="152.00" y="97.17" width="3.80" height="5.27" fill="#482173"/>
<rect x="152.00" y="102.38" width="3.80" height="5.27" fill="#440154"/>
<text x="157.50" y="109.14" font-size="6.5" text-anchor="start" fill="#000" stroke="#000" stroke-width="0.13">0</text>
<text x="157.50" y="98.97" font-size="6.5" text-anchor="start" fill="#000" stroke="#000" stroke-width="0.13">1</text>
<text x="157.50" y="88.80" font-size="6.5" text-anchor="start" fill="#000" stroke="#000" stroke-width="0.13">2</text>
<text x="157.50" y="78.63" font-size="6.5" text-anchor="start" fill="#000" stroke="#000" stroke-width="0.13">3</text>
<text x="157.50" y="68.46" font-size="6.5" text-anchor="start" fill="#000" stroke="#000" stroke-width="0.13">4</text>
<text x="157.50" y="58.29" font-size="6.5" text-anchor="start" fill="#000" stroke="#000" stroke-width="0.13">5</text>
<text x="157.50" y="48.12" font-size="6.5" text-anchor="start" fill="#000" stroke="#000" stroke-width="0.13">6</text>
<text x="179.50" y="66.20" font-size="6.6" text-anchor="start" fill="#000" stroke="#000" stroke-width="0.14">Age</text>
<rect x="180.00" y="68.20" width="5.60" height="6.05" fill="#8a4fb8"/>
<rect x="180.00" y="74.20" width="5.60" height="6.05" fill="#8c8ed0"/>
<rect x="180.00" y="80.20" width="5.60" height="6.05" fill="#b8d4ea"/>
<rect x="180.00" y="86.20" width="5.60" height="6.05" fill="#e8f6f6"/>
<text x="186.30" y="73.47" font-size="6.3" text-anchor="start" fill="#000" stroke="#000" stroke-width="0.11">90</text>
<text x="186.30" y="91.87" font-size="6.3" text-anchor="start" fill="#000" stroke="#000" stroke-width="0.11">70</text>
<text x="179.60" y="103.60" font-size="6.5" text-anchor="start" fill="#000" stroke="#000" stroke-width="0.13">Status</text>
<rect x="180.00" y="105.00" width="5.70" height="5.95" fill="#f07850"/>
<rect x="180.00" y="110.90" width="5.70" height="5.90" fill="#6a5ad6"/>
<text x="187.00" y="110.60" font-size="6.5" text-anchor="start" fill="#000" stroke="#000" stroke-width="0.13">LOAD</text>
<text x="187.00" y="116.60" font-size="6.5" text-anchor="start" fill="#000" stroke="#000" stroke-width="0.13">ND</text>
<text x="179.60" y="126.70" font-size="6.5" text-anchor="start" fill="#000" stroke="#000" stroke-width="0.13">Sex</text>
<rect x="180.00" y="128.00" width="5.70" height="6.00" fill="#f080f0"/>
<rect x="180.00" y="134.00" width="5.70" height="5.80" fill="#4a6ef0"/>
<text x="187.00" y="134.00" font-size="6.5" text-anchor="start" fill="#000" stroke="#000" stroke-width="0.13">Female</text>
<text x="187.00" y="140.00" font-size="6.5" text-anchor="start" fill="#000" stroke="#000" stroke-width="0.13">Male</text>
<text x="235.50" y="13.20" font-size="18" text-anchor="start" fill="#000" stroke="#000" stroke-width="0.30">b</text>
<line x1="284.90" y1="26.60" x2="284.90" y2="137.00" stroke="#efefef" stroke-width="0.6"/>
<line x1="299.90" y1="26.60" x2="299.90" y2="137.00" stroke="#efefef" stroke-width="0.6"/>
<line x1="314.90" y1="26.60" x2="314.90" y2="137.00" stroke="#efefef" stroke-width="0.6"/>
<line x1="329.90" y1="26.60" x2="329.90" y2="137.00" stroke="#efefef" stroke-width="0.6"/>
<line x1="344.90" y1="26.60" x2="344.90" y2="137.00" stroke="#efefef" stroke-width="0.6"/>
<line x1="359.90" y1="26.60" x2="359.90" y2="137.00" stroke="#efefef" stroke-width="0.6"/>
<line x1="374.90" y1="26.60" x2="374.90" y2="137.00" stroke="#efefef" stroke-width="0.6"/>
<line x1="389.90" y1="26.60" x2="389.90" y2="137.00" stroke="#efefef" stroke-width="0.6"/>
<line x1="404.90" y1="26.60" x2="404.90" y2="137.00" stroke="#efefef" stroke-width="0.6"/>
<line x1="279.60" y1="133.30" x2="410.30" y2="133.30" stroke="#efefef" stroke-width="0.6"/>
<line x1="279.60" y1="122.75" x2="410.30" y2="122.75" stroke="#efefef" stroke-width="0.6"/>
<line x1="279.60" y1="112.20" x2="410.30" y2="112.20" stroke="#efefef" stroke-width="0.6"/>
<line x1="279.60" y1="101.65" x2="410.30" y2="101.65" stroke="#efefef" stroke-width="0.6"/>
<line x1="279.60" y1="91.10" x2="410.30" y2="91.10" stroke="#efefef" stroke-width="0.6"/>
<line x1="279.60" y1="80.55" x2="410.30" y2="80.55" stroke="#efefef" stroke-width="0.6"/>
<line x1="279.60" y1="70.00" x2="410.30" y2="70.00" stroke="#efefef" stroke-width="0.6"/>
<line x1="279.60" y1="59.45" x2="410.30" y2="59.45" stroke="#efefef" stroke-width="0.6"/>
<line x1="279.60" y1="48.90" x2="410.30" y2="48.90" stroke="#efefef" stroke-width="0.6"/>
<line x1="279.60" y1="38.35" x2="410.30" y2="38.35" stroke="#efefef" stroke-width="0.6"/>
<line x1="279.60" y1="27.80" x2="410.30" y2="27.80" stroke="#efefef" stroke-width="0.6"/>
<circle cx="332.41" cy="129.84" r="1.10" fill="#3030ff" fill-opacity="0.5"/>
<circle cx="334.75" cy="131.04" r="0.90" fill="#3030ff" fill-opacity="0.5"/>
<circle cx="331.34" cy="130.43" r="1.40" fill="#3030ff" fill-opacity="0.5"/>
<circle cx="340.02" cy="128.86" r="1.40" fill="#3030ff" fill-opacity="0.5"/>
<circle cx="332.50" cy="132.09" r="1.40" fill="#3030ff" fill-opacity="0.5"/>
<circle cx="337.70" cy="129.71" r="1.10" fill="#3030ff" fill-opacity="0.5"/>
<circle cx="329.26" cy="129.02" r="1.40" fill="#3030ff" fill-opacity="0.5"/>
<circle cx="343.86" cy="130.72" r="1.40" fill="#3030ff" fill-opacity="0.5"/>
<circle cx="318.68" cy="130.74" r="0.90" fill="#3030ff" fill-opacity="0.5"/>
<circle cx="336.89" cy="131.88" r="0.90" fill="#3030ff" fill-opacity="0.5"/>
<circle cx="343.93" cy="130.15" r="1.10" fill="#3030ff" fill-opacity="0.5"/>
<circle cx="341.38" cy="130.43" r="0.90" fill="#3030ff" fill-opacity="0.5"/>
<circle cx="342.11" cy="129.41" r="0.90" fill="#3030ff" fill-opacity="0.5"/>
<circle cx="333.71" cy="130.06" r="0.90" fill="#3030ff" fill-opacity="0.5"/>
<circle cx="326.64" cy="129.40" r="1.40" fill="#3030ff" fill-opacity="0.5"/>
<circle cx="330.42" cy="130.58" r="1.40" fill="#3030ff" fill-opacity="0.5"/>
<circle cx="329.87" cy="130.34" r="1.40" fill="#3030ff" fill-opacity="0.5"/>
<circle cx="336.96" cy="130.06" r="1.40" fill="#3030ff" fill-opacity="0.5"/>
<circle cx="311.24" cy="130.41" r="1.10" fill="#3030ff" fill-opacity="0.5"/>
<circle cx="336.31" cy="132.13" r="0.90" fill="#3030ff" fill-opacity="0.5"/>
<circle cx="341.96" cy="129.45" r="0.90" fill="#3030ff" fill-opacity="0.5"/>
<circle cx="343.95" cy="129.85" r="0.90" fill="#3030ff" fill-opacity="0.5"/>
<circle cx="343.85" cy="131.70" r="0.90" fill="#3030ff" fill-opacity="0.5"/>
<circle cx="339.15" cy="131.44" r="0.90" fill="#3030ff" fill-opacity="0.5"/>
<circle cx="325.81" cy="131.03" r="0.90" fill="#3030ff" fill-opacity="0.5"/>
<circle cx="337.90" cy="130.34" r="0.90" fill="#3030ff" fill-opacity="0.5"/>
<circle cx="335.19" cy="131.16" r="1.10" fill="#3030ff" fill-opacity="0.5"/>
<circle cx="334.71" cy="130.51" r="1.40" fill="#3030ff" fill-opacity="0.5"/>
<circle cx="332.01" cy="129.50" r="0.90" fill="#3030ff" fill-opacity="0.5"/>
<circle cx="343.46" cy="131.40" r="1.40" fill="#3030ff" fill-opacity="0.5"/>
<circle cx="337.07" cy="129.71" r="0.90" fill="#3030ff" fill-opacity="0.5"/>
<circle cx="328.15" cy="130.86" r="0.90" fill="#3030ff" fill-opacity="0.5"/>
<circle cx="339.24" cy="129.66" r="1.40" fill="#3030ff" fill-opacity="0.5"/>
<circle cx="342.01" cy="130.06" r="1.10" fill="#3030ff" fill-opacity="0.5"/>
<circle cx="343.04" cy="131.15" r="0.90" fill="#3030ff" fill-opacity="0.5"/>
<circle cx="334.55" cy="130.88" r="0.90" fill="#3030ff" fill-opacity="0.5"/>
<circle cx="338.87" cy="128.31" r="1.10" fill="#3030ff" fill-opacity="0.5"/>
<circle cx="334.93" cy="128.92" r="1.10" fill="#3030ff" fill-opacity="0.5"/>
<circle cx="336.97" cy="129.40" r="1.10" fill="#3030ff" fill-opacity="0.5"/>
<circle cx="343.03" cy="129.30" r="1.10" fill="#3030ff" fill-opacity="0.5"/>
<circle cx="326.81" cy="130.79" r="1.40" fill="#3030ff" fill-opacity="0.5"/>
<circle cx="337.82" cy="127.70" r="1.10" fill="#3030ff" fill-opacity="0.5"/>
<circle cx="342.40" cy="129.03" r="1.10" fill="#3030ff" fill-opacity="0.5"/>
<circle cx="335.99" cy="131.88" r="0.90" fill="#3030ff" fill-opacity="0.5"/>
<circle cx="320.08" cy="127.95" r="1.40" fill="#3030ff" fill-opacity="0.5"/>
<circle cx="343.10" cy="129.33" r="1.10" fill="#3030ff" fill-opacity="0.5"/>
<circle cx="343.61" cy="131.54" r="0.90" fill="#3030ff" fill-opacity="0.5"/>
<circle cx="343.76" cy="129.84" r="1.40" fill="#3030ff" fill-opacity="0.5"/>
<circle cx="333.52" cy="129.39" r="1.40" fill="#3030ff" fill-opacity="0.5"/>
<circle cx="344.29" cy="128.52" r="0.90" fill="#3030ff" fill-opacity="0.5"/>
<circle cx="337.14" cy="129.28" r="0.90" fill="#3030ff" fill-opacity="0.5"/>
<circle cx="333.56" cy="130.74" r="0.90" fill="#3030ff" fill-opacity="0.5"/>
<circle cx="326.64" cy="131.57" r="1.10" fill="#3030ff" fill-opacity="0.5"/>
<circle cx="342.48" cy="129.63" r="1.10" fill="#3030ff" fill-opacity="0.5"/>
<circle cx="329.11" cy="131.70" r="1.10" fill="#3030ff" fill-opacity="0.5"/>
<circle cx="344.88" cy="129.47" r="1.40" fill="#3030ff" fill-opacity="0.5"/>
<circle cx="343.29" cy="132.21" r="1.10" fill="#3030ff" fill-opacity="0.5"/>
<circle cx="336.67" cy="127.22" r="1.10" fill="#3030ff" fill-opacity="0.5"/>
<circle cx="334.66" cy="131.58" r="0.90" fill="#3030ff" fill-opacity="0.5"/>
<circle cx="340.69" cy="130.05" r="1.40" fill="#3030ff" fill-opacity="0.5"/>
<circle cx="319.51" cy="129.51" r="0.90" fill="#3030ff" fill-opacity="0.5"/>
<circle cx="343.74" cy="128.24" r="0.90" fill="#3030ff" fill-opacity="0.5"/>
<circle cx="344.07" cy="127.83" r="1.40" fill="#3030ff" fill-opacity="0.5"/>
<circle cx="337.91" cy="130.99" r="0.90" fill="#3030ff" fill-opacity="0.5"/>
<circle cx="337.55" cy="128.42" r="1.10" fill="#3030ff" fill-opacity="0.5"/>
<circle cx="338.23" cy="129.94" r="0.90" fill="#3030ff" fill-opacity="0.5"/>
<circle cx="326.32" cy="131.31" r="1.40" fill="#3030ff" fill-opacity="0.5"/>
<circle cx="338.67" cy="131.07" r="1.40" fill="#3030ff" fill-opacity="0.5"/>
<circle cx="338.92" cy="130.80" r="1.10" fill="#3030ff" fill-opacity="0.5"/>
<circle cx="336.87" cy="130.23" r="1.40" fill="#3030ff" fill-opacity="0.5"/>
<circle cx="341.51" cy="130.19" r="1.40" fill="#3030ff" fill-opacity="0.5"/>
<circle cx="340.53" cy="129.19" r="0.90" fill="#3030ff" fill-opacity="0.5"/>
<circle cx="340.03" cy="130.66" r="1.40" fill="#3030ff" fill-opacity="0.5"/>
<circle cx="330.99" cy="128.18" r="1.40" fill="#3030ff" fill-opacity="0.5"/>
<circle cx="330.09" cy="130.59" r="1.10" fill="#3030ff" fill-opacity="0.5"/>
<circle cx="340.02" cy="132.01" r="1.10" fill="#3030ff" fill-opacity="0.5"/>
<circle cx="343.17" cy="130.07" r="1.10" fill="#3030ff" fill-opacity="0.5"/>
<circle cx="322.65" cy="130.01" r="0.90" fill="#3030ff" fill-opacity="0.5"/>
<circle cx="336.97" cy="132.11" r="1.40" fill="#3030ff" fill-opacity="0.5"/>
<circle cx="330.52" cy="130.09" r="1.40" fill="#3030ff" fill-opacity="0.5"/>
<circle cx="328.49" cy="130.10" r="0.90" fill="#3030ff" fill-opacity="0.5"/>
<circle cx="328.49" cy="125.65" r="1.10" fill="#3030ff" fill-opacity="0.5"/>
<circle cx="333.49" cy="129.57" r="0.90" fill="#3030ff" fill-opacity="0.5"/>
<circle cx="343.11" cy="132.52" r="1.10" fill="#3030ff" fill-opacity="0.5"/>
<circle cx="343.61" cy="132.45" r="1.40" fill="#3030ff" fill-opacity="0.5"/>
<circle cx="338.82" cy="132.52" r="1.40" fill="#3030ff" fill-opacity="0.5"/>
<circle cx="335.64" cy="128.70" r="1.10" fill="#3030ff" fill-opacity="0.5"/>
<circle cx="328.13" cy="131.94" r="1.10" fill="#3030ff" fill-opacity="0.5"/>
<circle cx="329.25" cy="129.16" r="0.90" fill="#3030ff" fill-opacity="0.5"/>
<circle cx="336.20" cy="131.68" r="1.10" fill="#3030ff" fill-opacity="0.5"/>
<circle cx="337.82" cy="131.28" r="0.90" fill="#3030ff" fill-opacity="0.5"/>
<circle cx="332.77" cy="131.26" r="1.40" fill="#3030ff" fill-opacity="0.5"/>
<circle cx="332.14" cy="129.41" r="0.90" fill="#3030ff" fill-opacity="0.5"/>
<circle cx="323.92" cy="130.46" r="0.90" fill="#3030ff" fill-opacity="0.5"/>
<circle cx="343.52" cy="131.67" r="1.10" fill="#3030ff" fill-opacity="0.5"/>
<circle cx="343.64" cy="132.12" r="1.10" fill="#3030ff" fill-opacity="0.5"/>
<circle cx="326.77" cy="129.40" r="1.10" fill="#3030ff" fill-opacity="0.5"/>
<circle cx="330.21" cy="129.22" r="0.90" fill="#3030ff" fill-opacity="0.5"/>
<circle cx="331.31" cy="130.01" r="0.90" fill="#3030ff" fill-opacity="0.5"/>
<circle cx="337.57" cy="130.23" r="1.10" fill="#3030ff" fill-opacity="0.5"/>
<circle cx="341.08" cy="131.85" r="1.40" fill="#3030ff" fill-opacity="0.5"/>
<circle cx="327.64" cy="132.35" r="1.40" fill="#3030ff" fill-opacity="0.5"/>
<circle cx="344.84" cy="130.14" r="0.90" fill="#3030ff" fill-opacity="0.5"/>
<circle cx="340.06" cy="128.42" r="0.90" fill="#3030ff" fill-opacity="0.5"/>
<circle cx="343.07" cy="129.56" r="1.10" fill="#3030ff" fill-opacity="0.5"/>
<circle cx="332.47" cy="131.45" r="1.40" fill="#3030ff" fill-opacity="0.5"/>
<circle cx="324.81" cy="129.33" r="1.10" fill="#3030ff" fill-opacity="0.5"/>
<circle cx="337.88" cy="128.58" r="1.10" fill="#3030ff" fill-opacity="0.5"/>
<circle cx="341.46" cy="128.99" r="0.90" fill="#3030ff" fill-opacity="0.5"/>
<circle cx="337.11" cy="132.60" r="1.40" fill="#3030ff" fill-opacity="0.5"/>
<circle cx="337.56" cy="131.25" r="1.10" fill="#3030ff" fill-opacity="0.5"/>
<circle cx="337.19" cy="130.93" r="1.40" fill="#3030ff" fill-opacity="0.5"/>
<circle cx="337.06" cy="129.15" r="0.90" fill="#3030ff" fill-opacity="0.5"/>
<circle cx="334.59" cy="132.59" r="1.40" fill="#3030ff" fill-opacity="0.5"/>
<circle cx="338.88" cy="132.20" r="0.90" fill="#3030ff" fill-opacity="0.5"/>
<circle cx="343.86" cy="129.54" r="1.10" fill="#3030ff" fill-opacity="0.5"/>
<circle cx="337.11" cy="130.02" r="1.40" fill="#3030ff" fill-opacity="0.5"/>
<circle cx="342.54" cy="128.99" r="1.10" fill="#3030ff" fill-opacity="0.5"/>
<circle cx="336.52" cy="131.47" r="1.40" fill="#3030ff" fill-opacity="0.5"/>
<circle cx="337.11" cy="127.98" r="0.90" fill="#3030ff" fill-opacity="0.5"/>
<circle cx="333.78" cy="130.51" r="1.40" fill="#3030ff" fill-opacity="0.5"/>
<circle cx="342.60" cy="130.19" r="0.90" fill="#3030ff" fill-opacity="0.5"/>
<circle cx="342.83" cy="130.63" r="1.10" fill="#3030ff" fill-opacity="0.5"/>
<circle cx="341.49" cy="132.04" r="1.40" fill="#3030ff" fill-opacity="0.5"/>
<circle cx="338.35" cy="128.12" r="0.90" fill="#3030ff" fill-opacity="0.5"/>
<circle cx="339.43" cy="130.26" r="0.90" fill="#3030ff" fill-opacity="0.5"/>
<circle cx="342.71" cy="130.26" r="1.40" fill="#3030ff" fill-opacity="0.5"/>
<circle cx="341.30" cy="131.22" r="0.90" fill="#3030ff" fill-opacity="0.5"/>
<circle cx="342.90" cy="130.02" r="1.40" fill="#3030ff" fill-opacity="0.5"/>
<circle cx="337.26" cy="131.41" r="0.90" fill="#3030ff" fill-opacity="0.5"/>
<circle cx="352.09" cy="131.69" r="1.10" fill="#ff2a2a" fill-opacity="0.5"/>
<circle cx="351.31" cy="132.42" r="1.10" fill="#ff2a2a" fill-opacity="0.5"/>
<circle cx="346.82" cy="131.12" r="1.10" fill="#ff2a2a" fill-opacity="0.5"/>
<circle cx="349.36" cy="130.22" r="1.40" fill="#ff2a2a" fill-opacity="0.5"/>
<circle cx="353.02" cy="130.25" r="0.90" fill="#ff2a2a" fill-opacity="0.5"/>
<circle cx="345.91" cy="131.12" r="0.90" fill="#ff2a2a" fill-opacity="0.5"/>
<circle cx="345.83" cy="129.19" r="1.40" fill="#ff2a2a" fill-opacity="0.5"/>
<circle cx="347.74" cy="131.80" r="1.10" fill="#ff2a2a" fill-opacity="0.5"/>
<circle cx="354.00" cy="131.75" r="0.90" fill="#ff2a2a" fill-opacity="0.5"/>
<circle cx="354.91" cy="128.95" r="0.90" fill="#ff2a2a" fill-opacity="0.5"/>
<circle cx="347.46" cy="130.65" r="1.10" fill="#ff2a2a" fill-opacity="0.5"/>
<circle cx="355.41" cy="131.18" r="1.10" fill="#ff2a2a" fill-opacity="0.5"/>
<circle cx="350.32" cy="129.33" r="1.10" fill="#ff2a2a" fill-opacity="0.5"/>
<circle cx="356.03" cy="132.32" r="1.10" fill="#ff2a2a" fill-opacity="0.5"/>
<circle cx="351.58" cy="129.20" r="1.40" fill="#ff2a2a" fill-opacity="0.5"/>
<circle cx="354.23" cy="131.90" r="1.40" fill="#ff2a2a" fill-opacity="0.5"/>
<circle cx="352.45" cy="130.83" r="1.40" fill="#ff2a2a" fill-opacity="0.5"/>
<circle cx="347.73" cy="131.04" r="1.10" fill="#ff2a2a" fill-opacity="0.5"/>
<circle cx="347.23" cy="132.65" r="1.40" fill="#ff2a2a" fill-opacity="0.5"/>
<circle cx="352.11" cy="131.91" r="1.40" fill="#ff2a2a" fill-opacity="0.5"/>
<circle cx="348.43" cy="127.70" r="0.90" fill="#ff2a2a" fill-opacity="0.5"/>
<circle cx="364.57" cy="130.77" r="1.40" fill="#ff2a2a" fill-opacity="0.5"/>
<circle cx="357.29" cy="130.86" r="1.10" fill="#ff2a2a" fill-opacity="0.5"/>
<circle cx="351.66" cy="127.84" r="1.40" fill="#ff2a2a" fill-opacity="0.5"/>
<circle cx="349.01" cy="131.27" r="0.90" fill="#ff2a2a" fill-opacity="0.5"/>
<circle cx="351.64" cy="129.67" r="1.40" fill="#ff2a2a" fill-opacity="0.5"/>
<circle cx="356.60" cy="131.02" r="1.40" fill="#ff2a2a" fill-opacity="0.5"/>
<circle cx="346.62" cy="130.32" r="1.40" fill="#ff2a2a" fill-opacity="0.5"/>
<circle cx="345.85" cy="130.78" r="0.90" fill="#ff2a2a" fill-opacity="0.5"/>
<circle cx="346.27" cy="131.09" r="1.10" fill="#ff2a2a" fill-opacity="0.5"/>
<circle cx="351.35" cy="128.43" r="0.90" fill="#ff2a2a" fill-opacity="0.5"/>
<circle cx="347.49" cy="129.79" r="1.10" fill="#ff2a2a" fill-opacity="0.5"/>
<circle cx="356.38" cy="130.56" r="1.10" fill="#ff2a2a" fill-opacity="0.5"/>
<circle cx="350.80" cy="131.98" r="0.90" fill="#ff2a2a" fill-opacity="0.5"/>
<circle cx="352.80" cy="130.84" r="1.10" fill="#ff2a2a" fill-opacity="0.5"/>
<circle cx="347.80" cy="130.51" r="1.40" fill="#ff2a2a" fill-opacity="0.5"/>
<circle cx="346.47" cy="128.82" r="1.40" fill="#ff2a2a" fill-opacity="0.5"/>
<circle cx="347.80" cy="128.37" r="1.40" fill="#ff2a2a" fill-opacity="0.5"/>
<circle cx="350.53" cy="131.53" r="0.90" fill="#ff2a2a" fill-opacity="0.5"/>
<circle cx="350.02" cy="131.70" r="1.10" fill="#ff2a2a" fill-opacity="0.5"/>
<circle cx="347.57" cy="129.20" r="1.10" fill="#ff2a2a" fill-opacity="0.5"/>
<circle cx="353.62" cy="132.59" r="1.10" fill="#ff2a2a" fill-opacity="0.5"/>
<circle cx="348.54" cy="127.96" r="1.10" fill="#ff2a2a" fill-opacity="0.5"/>
<circle cx="353.50" cy="130.65" r="1.40" fill="#ff2a2a" fill-opacity="0.5"/>
<circle cx="349.22" cy="130.72" r="1.10" fill="#ff2a2a" fill-opacity="0.5"/>
<circle cx="353.20" cy="130.68" r="1.40" fill="#ff2a2a" fill-opacity="0.5"/>
<circle cx="346.25" cy="130.53" r="1.10" fill="#ff2a2a" fill-opacity="0.5"/>
<circle cx="353.41" cy="130.64" r="1.10" fill="#ff2a2a" fill-opacity="0.5"/>
<circle cx="355.40" cy="129.02" r="1.40" fill="#ff2a2a" fill-opacity="0.5"/>
<circle cx="352.62" cy="130.91" r="1.10" fill="#ff2a2a" fill-opacity="0.5"/>
<circle cx="345.86" cy="130.78" r="1.10" fill="#ff2a2a" fill-opacity="0.5"/>
<circle cx="352.12" cy="130.66" r="1.40" fill="#ff2a2a" fill-opacity="0.5"/>
<circle cx="360.63" cy="131.11" r="1.10" fill="#ff2a2a" fill-opacity="0.5"/>
<circle cx="345.88" cy="128.92" r="1.40" fill="#ff2a2a" fill-opacity="0.5"/>
<circle cx="350.26" cy="129.38" r="1.10" fill="#ff2a2a" fill-opacity="0.5"/>
<circle cx="351.11" cy="132.84" r="1.40" fill="#ff2a2a" fill-opacity="0.5"/>
<circle cx="351.12" cy="130.18" r="1.40" fill="#ff2a2a" fill-opacity="0.5"/>
<circle cx="348.49" cy="128.71" r="1.40" fill="#ff2a2a" fill-opacity="0.5"/>
<circle cx="348.28" cy="130.65" r="1.10" fill="#ff2a2a" fill-opacity="0.5"/>
<circle cx="345.18" cy="130.61" r="0.90" fill="#ff2a2a" fill-opacity="0.5"/>
<circle cx="346.68" cy="129.49" r="0.90" fill="#ff2a2a" fill-opacity="0.5"/>
<circle cx="347.35" cy="131.38" r="0.90" fill="#ff2a2a" fill-opacity="0.5"/>
<circle cx="351.05" cy="128.96" r="1.40" fill="#ff2a2a" fill-opacity="0.5"/>
<circle cx="354.12" cy="129.09" r="0.90" fill="#ff2a2a" fill-opacity="0.5"/>
<circle cx="351.07" cy="129.29" r="1.40" fill="#ff2a2a" fill-opacity="0.5"/>
<circle cx="344.92" cy="129.51" r="0.90" fill="#ff2a2a" fill-opacity="0.5"/>
<circle cx="352.48" cy="130.60" r="1.10" fill="#ff2a2a" fill-opacity="0.5"/>
<circle cx="350.18" cy="129.43" r="1.40" fill="#ff2a2a" fill-opacity="0.5"/>
<circle cx="349.08" cy="130.48" r="1.10" fill="#ff2a2a" fill-opacity="0.5"/>
<circle cx="347.78" cy="128.63" r="0.90" fill="#ff2a2a" fill-opacity="0.5"/>
<circle cx="350.60" cy="131.53" r="1.10" fill="#ff2a2a" fill-opacity="0.5"/>
<circle cx="350.78" cy="131.75" r="1.40" fill="#ff2a2a" fill-opacity="0.5"/>
<circle cx="348.16" cy="131.07" r="1.10" fill="#ff2a2a" fill-opacity="0.5"/>
<circle cx="345.66" cy="132.65" r="0.90" fill="#ff2a2a" fill-opacity="0.5"/>
<circle cx="350.04" cy="130.98" r="1.40" fill="#ff2a2a" fill-opacity="0.5"/>
<circle cx="351.37" cy="127.72" r="1.40" fill="#ff2a2a" fill-opacity="0.5"/>
<circle cx="350.03" cy="125.90" r="1.10" fill="#ff2a2a" fill-opacity="0.5"/>
<circle cx="347.84" cy="130.79" r="0.90" fill="#ff2a2a" fill-opacity="0.5"/>
<circle cx="345.68" cy="128.31" r="0.90" fill="#ff2a2a" fill-opacity="0.5"/>
<circle cx="345.09" cy="129.78" r="1.10" fill="#ff2a2a" fill-opacity="0.5"/>
<circle cx="348.62" cy="131.50" r="1.40" fill="#ff2a2a" fill-opacity="0.5"/>
<circle cx="345.83" cy="130.98" r="1.10" fill="#ff2a2a" fill-opacity="0.5"/>
<circle cx="353.87" cy="129.24" r="1.10" fill="#ff2a2a" fill-opacity="0.5"/>
<circle cx="349.69" cy="130.25" r="0.90" fill="#ff2a2a" fill-opacity="0.5"/>
<circle cx="351.43" cy="132.87" r="0.90" fill="#ff2a2a" fill-opacity="0.5"/>
<circle cx="301.70" cy="128.07" r="1.40" fill="#3030ff" fill-opacity="0.5"/>
<circle cx="305.30" cy="131.19" r="0.90" fill="#3030ff" fill-opacity="0.5"/>
<circle cx="308.90" cy="130.77" r="1.40" fill="#3030ff" fill-opacity="0.5"/>
<circle cx="316.10" cy="130.77" r="1.10" fill="#3030ff" fill-opacity="0.5"/>
<circle cx="318.50" cy="128.24" r="0.90" fill="#3030ff" fill-opacity="0.5"/>
<circle cx="320.90" cy="126.55" r="0.90" fill="#3030ff" fill-opacity="0.5"/>
<circle cx="323.90" cy="126.13" r="1.40" fill="#3030ff" fill-opacity="0.5"/>
<circle cx="371.90" cy="126.38" r="1.40" fill="#ff2a2a" fill-opacity="0.5"/>
<circle cx="366.50" cy="126.55" r="0.90" fill="#ff2a2a" fill-opacity="0.5"/>
<line x1="344.90" y1="27.10" x2="344.90" y2="137.00" stroke="#555" stroke-width="0.7" stroke-dasharray="2,1,0.6,1"/>
<line x1="279.60" y1="121.30" x2="410.30" y2="121.30" stroke="#555" stroke-width="0.7" stroke-dasharray="2.2,1,0.6,1"/>
<rect x="279.60" y="26.60" width="130.70" height="110.40" fill="none" stroke="#333" stroke-width="1"/>
<text x="276.80" y="136.03" font-size="7.3" text-anchor="end" fill="#222" stroke="#222" stroke-width="0.21">0.0</text>
<text x="276.80" y="114.93" font-size="7.3" text-anchor="end" fill="#222" stroke="#222" stroke-width="0.21">2.5</text>
<text x="276.80" y="93.83" font-size="7.3" text-anchor="end" fill="#222" stroke="#222" stroke-width="0.21">5.0</text>
<text x="276.80" y="72.73" font-size="7.3" text-anchor="end" fill="#222" stroke="#222" stroke-width="0.21">7.5</text>
<text x="276.80" y="51.63" font-size="7.3" text-anchor="end" fill="#222" stroke="#222" stroke-width="0.21">10.0</text>
<text x="276.80" y="30.53" font-size="7.3" text-anchor="end" fill="#222" stroke="#222" stroke-width="0.21">12.5</text>
<line x1="284.90" y1="137.00" x2="284.90" y2="139.00" stroke="#333" stroke-width="0.7"/>
<text x="283.70" y="146.93" font-size="7.3" text-anchor="middle" fill="#222" stroke="#222" stroke-width="0.21">-1.0</text>
<line x1="314.90" y1="137.00" x2="314.90" y2="139.00" stroke="#333" stroke-width="0.7"/>
<text x="313.70" y="146.93" font-size="7.3" text-anchor="middle" fill="#222" stroke="#222" stroke-width="0.21">-0.5</text>
<line x1="344.90" y1="137.00" x2="344.90" y2="139.00" stroke="#333" stroke-width="0.7"/>
<text x="344.90" y="146.93" font-size="7.3" text-anchor="middle" fill="#222" stroke="#222" stroke-width="0.21">0.0</text>
<line x1="374.90" y1="137.00" x2="374.90" y2="139.00" stroke="#333" stroke-width="0.7"/>
<text x="374.90" y="146.93" font-size="7.3" text-anchor="middle" fill="#222" stroke="#222" stroke-width="0.21">0.5</text>
<line x1="404.90" y1="137.00" x2="404.90" y2="139.00" stroke="#333" stroke-width="0.7"/>
<text x="404.90" y="146.93" font-size="7.3" text-anchor="middle" fill="#222" stroke="#222" stroke-width="0.21">1.0</text>
<text x="297.90" y="24.50" font-size="7.45" text-anchor="start" fill="#000" stroke="#000" stroke-width="0.23">ROSMAP: Male AD vs. ND</text>
<text x="344.35" y="157.14" font-size="7.6" text-anchor="middle" fill="#000" stroke="#000" stroke-width="0.24">Log2(Fold change)</text>
<text x="0" y="0" font-size="7.55" stroke="#000" stroke-width="0.22" text-anchor="middle" transform="translate(254.60,86.50) rotate(-90)" dy="2.7">-Log10(adjusted p-value)</text>
<text x="414.00" y="54.84" font-size="5.4" text-anchor="start" fill="#000">-Log10(adj.p)</text>
<circle cx="418.90" cy="64.40" r="0.45" fill="#7a7a7a"/>
<text x="422.00" y="66.42" font-size="5.6" text-anchor="start" fill="#333">0.0</text>
<circle cx="418.90" cy="69.95" r="1.00" fill="#7a7a7a"/>
<text x="422.00" y="71.97" font-size="5.6" text-anchor="start" fill="#333">0.2</text>
<circle cx="418.90" cy="75.50" r="1.35" fill="#7a7a7a"/>
<text x="422.00" y="77.52" font-size="5.6" text-anchor="start" fill="#333">0.4</text>
<circle cx="418.90" cy="81.05" r="1.70" fill="#7a7a7a"/>
<text x="422.00" y="83.07" font-size="5.6" text-anchor="start" fill="#333">0.6</text>
<circle cx="418.90" cy="95.00" r="0.60" fill="#3030ff"/>
<text x="422.00" y="97.02" font-size="5.6" text-anchor="start" fill="#000">Down</text>
<circle cx="418.90" cy="100.60" r="0.60" fill="#c8c8c8"/>
<text x="422.00" y="102.62" font-size="5.6" text-anchor="start" fill="#000">NoSig</text>
<circle cx="418.90" cy="106.20" r="0.60" fill="#ff3030"/>
<text x="422.00" y="108.22" font-size="5.6" text-anchor="start" fill="#000">Up</text>
<line x1="504.45" y1="27.50" x2="504.45" y2="137.00" stroke="#efefef" stroke-width="0.6"/>
<line x1="519.45" y1="27.50" x2="519.45" y2="137.00" stroke="#efefef" stroke-width="0.6"/>
<line x1="534.45" y1="27.50" x2="534.45" y2="137.00" stroke="#efefef" stroke-width="0.6"/>
<line x1="549.45" y1="27.50" x2="549.45" y2="137.00" stroke="#efefef" stroke-width="0.6"/>
<line x1="564.45" y1="27.50" x2="564.45" y2="137.00" stroke="#efefef" stroke-width="0.6"/>
<line x1="579.45" y1="27.50" x2="579.45" y2="137.00" stroke="#efefef" stroke-width="0.6"/>
<line x1="594.45" y1="27.50" x2="594.45" y2="137.00" stroke="#efefef" stroke-width="0.6"/>
<line x1="609.45" y1="27.50" x2="609.45" y2="137.00" stroke="#efefef" stroke-width="0.6"/>
<line x1="624.45" y1="27.50" x2="624.45" y2="137.00" stroke="#efefef" stroke-width="0.6"/>
<line x1="499.40" y1="132.70" x2="629.50" y2="132.70" stroke="#efefef" stroke-width="0.6"/>
<line x1="499.40" y1="122.25" x2="629.50" y2="122.25" stroke="#efefef" stroke-width="0.6"/>
<line x1="499.40" y1="111.80" x2="629.50" y2="111.80" stroke="#efefef" stroke-width="0.6"/>
<line x1="499.40" y1="101.35" x2="629.50" y2="101.35" stroke="#efefef" stroke-width="0.6"/>
<line x1="499.40" y1="90.90" x2="629.50" y2="90.90" stroke="#efefef" stroke-width="0.6"/>
<line x1="499.40" y1="80.45" x2="629.50" y2="80.45" stroke="#efefef" stroke-width="0.6"/>
<line x1="499.40" y1="70.00" x2="629.50" y2="70.00" stroke="#efefef" stroke-width="0.6"/>
<line x1="499.40" y1="59.55" x2="629.50" y2="59.55" stroke="#efefef" stroke-width="0.6"/>
<line x1="499.40" y1="49.10" x2="629.50" y2="49.10" stroke="#efefef" stroke-width="0.6"/>
<line x1="499.40" y1="38.65" x2="629.50" y2="38.65" stroke="#efefef" stroke-width="0.6"/>
<line x1="499.40" y1="28.20" x2="629.50" y2="28.20" stroke="#efefef" stroke-width="0.6"/>
<ellipse cx="564.75" cy="121.33" rx="14.5" ry="10.3" fill="#bdbdbd"/>
<rect x="547.45" y="109.33" width="34.00" height="12.00" fill="#fff"/>
<circle cx="553.18" cy="131.73" r="0.50" fill="#c4c4c4"/>
<circle cx="562.28" cy="130.69" r="0.50" fill="#c4c4c4"/>
<circle cx="571.99" cy="132.42" r="0.50" fill="#c4c4c4"/>
<circle cx="562.31" cy="125.16" r="0.50" fill="#c4c4c4"/>
<circle cx="560.59" cy="127.42" r="0.50" fill="#c4c4c4"/>
<circle cx="553.73" cy="130.50" r="0.50" fill="#c4c4c4"/>
<circle cx="569.59" cy="129.14" r="0.50" fill="#c4c4c4"/>
<circle cx="573.33" cy="124.96" r="0.50" fill="#c4c4c4"/>
<circle cx="577.89" cy="129.91" r="0.50" fill="#c4c4c4"/>
<circle cx="575.06" cy="129.82" r="0.50" fill="#c4c4c4"/>
<circle cx="560.32" cy="129.06" r="0.50" fill="#c4c4c4"/>
<circle cx="565.28" cy="132.02" r="0.50" fill="#c4c4c4"/>
<circle cx="580.52" cy="129.24" r="0.50" fill="#c4c4c4"/>
<circle cx="561.05" cy="132.60" r="0.50" fill="#c4c4c4"/>
<circle cx="583.28" cy="131.88" r="0.50" fill="#c4c4c4"/>
<circle cx="570.67" cy="129.85" r="0.50" fill="#c4c4c4"/>
<circle cx="568.91" cy="129.98" r="0.50" fill="#c4c4c4"/>
<circle cx="561.08" cy="130.97" r="0.50" fill="#c4c4c4"/>
<circle cx="563.62" cy="131.42" r="0.50" fill="#c4c4c4"/>
<circle cx="571.26" cy="125.94" r="0.50" fill="#c4c4c4"/>
<circle cx="557.86" cy="130.15" r="0.50" fill="#c4c4c4"/>
<circle cx="557.14" cy="130.00" r="0.50" fill="#c4c4c4"/>
<circle cx="563.00" cy="132.01" r="0.50" fill="#c4c4c4"/>
<circle cx="561.42" cy="121.88" r="0.50" fill="#c4c4c4"/>
<circle cx="575.84" cy="131.78" r="0.50" fill="#c4c4c4"/>
<circle cx="559.86" cy="129.58" r="0.50" fill="#c4c4c4"/>
<circle cx="560.16" cy="126.88" r="0.50" fill="#c4c4c4"/>
<circle cx="568.76" cy="130.69" r="0.50" fill="#c4c4c4"/>
<circle cx="558.35" cy="128.91" r="0.50" fill="#c4c4c4"/>
<circle cx="567.84" cy="128.13" r="0.50" fill="#c4c4c4"/>
<circle cx="578.73" cy="131.33" r="0.50" fill="#c4c4c4"/>
<circle cx="555.91" cy="130.55" r="0.50" fill="#c4c4c4"/>
<circle cx="565.88" cy="128.35" r="0.50" fill="#c4c4c4"/>
<circle cx="554.21" cy="128.06" r="0.50" fill="#c4c4c4"/>
<circle cx="572.33" cy="129.53" r="0.50" fill="#c4c4c4"/>
<circle cx="569.71" cy="126.90" r="0.50" fill="#c4c4c4"/>
<circle cx="570.56" cy="131.93" r="0.50" fill="#c4c4c4"/>
<circle cx="558.26" cy="127.76" r="0.50" fill="#c4c4c4"/>
<circle cx="572.64" cy="131.21" r="0.50" fill="#c4c4c4"/>
<circle cx="566.08" cy="129.41" r="0.50" fill="#c4c4c4"/>
<circle cx="544.97" cy="131.13" r="0.50" fill="#c4c4c4"/>
<circle cx="545.10" cy="131.46" r="0.50" fill="#c4c4c4"/>
<circle cx="573.22" cy="124.45" r="0.50" fill="#c4c4c4"/>
<circle cx="561.13" cy="130.66" r="0.50" fill="#c4c4c4"/>
<circle cx="564.29" cy="123.48" r="0.50" fill="#c4c4c4"/>
<circle cx="570.61" cy="132.56" r="0.50" fill="#c4c4c4"/>
<circle cx="565.37" cy="128.91" r="0.50" fill="#c4c4c4"/>
<circle cx="564.50" cy="132.15" r="0.50" fill="#c4c4c4"/>
<circle cx="574.95" cy="131.25" r="0.50" fill="#c4c4c4"/>
<circle cx="592.43" cy="131.17" r="0.50" fill="#c4c4c4"/>
<circle cx="562.73" cy="132.68" r="0.50" fill="#c4c4c4"/>
<circle cx="558.41" cy="126.09" r="0.50" fill="#c4c4c4"/>
<circle cx="569.94" cy="127.50" r="0.50" fill="#c4c4c4"/>
<circle cx="565.68" cy="127.63" r="0.50" fill="#c4c4c4"/>
<circle cx="553.61" cy="131.87" r="0.50" fill="#c4c4c4"/>
<circle cx="562.95" cy="122.61" r="0.50" fill="#c4c4c4"/>
<circle cx="568.10" cy="131.17" r="0.50" fill="#c4c4c4"/>
<circle cx="560.38" cy="124.49" r="0.50" fill="#c4c4c4"/>
<circle cx="561.14" cy="122.83" r="0.50" fill="#c4c4c4"/>
<circle cx="552.47" cy="132.09" r="0.50" fill="#c4c4c4"/>
<circle cx="562.93" cy="129.92" r="0.50" fill="#c4c4c4"/>
<circle cx="563.14" cy="129.57" r="0.50" fill="#c4c4c4"/>
<circle cx="559.56" cy="126.82" r="0.50" fill="#c4c4c4"/>
<circle cx="575.46" cy="126.28" r="0.50" fill="#c4c4c4"/>
<circle cx="559.37" cy="131.21" r="0.50" fill="#c4c4c4"/>
<circle cx="544.48" cy="128.09" r="0.50" fill="#c4c4c4"/>
<circle cx="554.29" cy="130.55" r="0.50" fill="#c4c4c4"/>
<circle cx="581.93" cy="127.55" r="0.50" fill="#c4c4c4"/>
<circle cx="564.98" cy="128.36" r="0.50" fill="#c4c4c4"/>
<circle cx="550.20" cy="127.96" r="0.50" fill="#c4c4c4"/>
<circle cx="566.96" cy="127.36" r="0.50" fill="#c4c4c4"/>
<circle cx="560.15" cy="129.42" r="0.50" fill="#c4c4c4"/>
<circle cx="563.56" cy="127.34" r="0.50" fill="#c4c4c4"/>
<circle cx="576.65" cy="131.99" r="0.50" fill="#c4c4c4"/>
<circle cx="575.92" cy="128.45" r="0.50" fill="#c4c4c4"/>
<circle cx="578.15" cy="127.18" r="0.50" fill="#c4c4c4"/>
<circle cx="551.02" cy="131.09" r="0.50" fill="#c4c4c4"/>
<circle cx="561.87" cy="131.39" r="0.50" fill="#c4c4c4"/>
<circle cx="560.38" cy="129.82" r="0.50" fill="#c4c4c4"/>
<circle cx="575.36" cy="130.13" r="0.50" fill="#c4c4c4"/>
<circle cx="553.94" cy="131.19" r="0.50" fill="#c4c4c4"/>
<circle cx="571.28" cy="129.05" r="0.50" fill="#c4c4c4"/>
<circle cx="562.07" cy="128.72" r="0.50" fill="#c4c4c4"/>
<circle cx="564.66" cy="128.43" r="0.50" fill="#c4c4c4"/>
<circle cx="559.16" cy="127.01" r="0.50" fill="#c4c4c4"/>
<circle cx="566.59" cy="131.28" r="0.50" fill="#c4c4c4"/>
<circle cx="559.85" cy="126.74" r="0.50" fill="#c4c4c4"/>
<circle cx="565.14" cy="126.58" r="0.50" fill="#c4c4c4"/>
<circle cx="571.27" cy="131.11" r="0.50" fill="#c4c4c4"/>
<circle cx="573.32" cy="131.80" r="0.50" fill="#c4c4c4"/>
<circle cx="559.85" cy="131.79" r="0.50" fill="#c4c4c4"/>
<circle cx="560.91" cy="129.38" r="0.50" fill="#c4c4c4"/>
<circle cx="564.96" cy="128.99" r="0.50" fill="#c4c4c4"/>
<circle cx="565.36" cy="132.52" r="0.50" fill="#c4c4c4"/>
<circle cx="560.41" cy="130.10" r="0.50" fill="#c4c4c4"/>
<circle cx="566.95" cy="128.46" r="0.50" fill="#c4c4c4"/>
<circle cx="567.68" cy="123.49" r="0.50" fill="#c4c4c4"/>
<circle cx="552.38" cy="132.66" r="0.50" fill="#c4c4c4"/>
<circle cx="569.01" cy="128.72" r="0.50" fill="#c4c4c4"/>
<circle cx="552.68" cy="127.71" r="0.50" fill="#c4c4c4"/>
<circle cx="564.46" cy="128.06" r="0.50" fill="#c4c4c4"/>
<circle cx="573.46" cy="126.46" r="0.50" fill="#c4c4c4"/>
<circle cx="565.82" cy="127.56" r="0.50" fill="#c4c4c4"/>
<circle cx="565.00" cy="128.52" r="0.50" fill="#c4c4c4"/>
<circle cx="559.12" cy="127.23" r="0.50" fill="#c4c4c4"/>
<circle cx="574.21" cy="131.78" r="0.50" fill="#c4c4c4"/>
<circle cx="561.40" cy="129.18" r="0.50" fill="#c4c4c4"/>
<circle cx="563.68" cy="129.04" r="0.50" fill="#c4c4c4"/>
<circle cx="557.07" cy="132.70" r="0.50" fill="#c4c4c4"/>
<circle cx="562.97" cy="130.58" r="0.50" fill="#c4c4c4"/>
<circle cx="565.94" cy="127.52" r="0.50" fill="#c4c4c4"/>
<circle cx="564.42" cy="131.42" r="0.50" fill="#c4c4c4"/>
<circle cx="566.56" cy="129.46" r="0.50" fill="#c4c4c4"/>
<circle cx="574.15" cy="130.49" r="0.50" fill="#c4c4c4"/>
<circle cx="552.30" cy="127.25" r="0.50" fill="#c4c4c4"/>
<circle cx="569.93" cy="130.49" r="0.50" fill="#c4c4c4"/>
<circle cx="572.30" cy="128.45" r="0.50" fill="#c4c4c4"/>
<circle cx="570.33" cy="127.92" r="0.50" fill="#c4c4c4"/>
<circle cx="566.17" cy="128.49" r="0.50" fill="#c4c4c4"/>
<circle cx="559.95" cy="130.50" r="0.50" fill="#c4c4c4"/>
<circle cx="558.09" cy="130.44" r="0.50" fill="#c4c4c4"/>
<circle cx="558.55" cy="129.90" r="0.50" fill="#c4c4c4"/>
<circle cx="566.12" cy="130.31" r="0.50" fill="#c4c4c4"/>
<circle cx="566.12" cy="129.62" r="0.50" fill="#c4c4c4"/>
<circle cx="573.78" cy="131.78" r="0.50" fill="#c4c4c4"/>
<circle cx="578.46" cy="130.11" r="0.50" fill="#c4c4c4"/>
<circle cx="574.59" cy="127.17" r="0.50" fill="#c4c4c4"/>
<circle cx="556.43" cy="127.42" r="0.50" fill="#c4c4c4"/>
<circle cx="563.00" cy="130.57" r="0.50" fill="#c4c4c4"/>
<circle cx="574.23" cy="126.78" r="0.50" fill="#c4c4c4"/>
<circle cx="568.32" cy="124.35" r="0.50" fill="#c4c4c4"/>
<circle cx="571.07" cy="132.15" r="0.50" fill="#c4c4c4"/>
<circle cx="569.21" cy="132.49" r="0.50" fill="#c4c4c4"/>
<circle cx="570.86" cy="127.03" r="0.50" fill="#c4c4c4"/>
<circle cx="562.99" cy="130.10" r="0.50" fill="#c4c4c4"/>
<circle cx="567.17" cy="129.39" r="0.50" fill="#c4c4c4"/>
<circle cx="571.36" cy="128.35" r="0.50" fill="#c4c4c4"/>
<circle cx="573.94" cy="128.89" r="0.50" fill="#c4c4c4"/>
<circle cx="556.16" cy="131.67" r="0.50" fill="#c4c4c4"/>
<circle cx="553.29" cy="131.65" r="0.50" fill="#c4c4c4"/>
<circle cx="567.35" cy="127.99" r="0.50" fill="#c4c4c4"/>
<circle cx="558.68" cy="129.17" r="0.50" fill="#c4c4c4"/>
<circle cx="559.30" cy="129.61" r="0.50" fill="#c4c4c4"/>
<circle cx="556.36" cy="130.13" r="0.50" fill="#c4c4c4"/>
<circle cx="563.08" cy="129.40" r="0.50" fill="#c4c4c4"/>
<circle cx="572.53" cy="130.49" r="0.50" fill="#c4c4c4"/>
<circle cx="571.80" cy="127.65" r="0.50" fill="#c4c4c4"/>
<circle cx="575.82" cy="130.98" r="0.50" fill="#c4c4c4"/>
<circle cx="557.32" cy="130.81" r="0.50" fill="#c4c4c4"/>
<circle cx="554.27" cy="128.32" r="0.50" fill="#c4c4c4"/>
<circle cx="566.63" cy="130.84" r="0.50" fill="#c4c4c4"/>
<circle cx="567.90" cy="131.94" r="0.50" fill="#c4c4c4"/>
<circle cx="566.74" cy="131.98" r="0.50" fill="#c4c4c4"/>
<circle cx="570.35" cy="132.53" r="0.50" fill="#c4c4c4"/>
<circle cx="573.44" cy="128.55" r="0.50" fill="#c4c4c4"/>
<circle cx="549.33" cy="125.48" r="0.50" fill="#c4c4c4"/>
<circle cx="576.98" cy="131.00" r="0.50" fill="#c4c4c4"/>
<circle cx="566.22" cy="132.39" r="0.50" fill="#c4c4c4"/>
<circle cx="566.91" cy="123.25" r="0.50" fill="#c4c4c4"/>
<circle cx="559.21" cy="132.26" r="0.50" fill="#c4c4c4"/>
<circle cx="564.80" cy="128.32" r="0.50" fill="#c4c4c4"/>
<circle cx="557.90" cy="131.73" r="0.50" fill="#c4c4c4"/>
<circle cx="564.62" cy="130.92" r="0.50" fill="#c4c4c4"/>
<circle cx="549.36" cy="126.28" r="0.50" fill="#c4c4c4"/>
<circle cx="577.68" cy="132.11" r="0.50" fill="#c4c4c4"/>
<circle cx="571.21" cy="131.09" r="0.50" fill="#c4c4c4"/>
<circle cx="559.18" cy="123.65" r="0.50" fill="#c4c4c4"/>
<circle cx="555.07" cy="129.04" r="0.50" fill="#c4c4c4"/>
<circle cx="570.05" cy="132.46" r="0.50" fill="#c4c4c4"/>
<circle cx="551.89" cy="131.95" r="0.50" fill="#c4c4c4"/>
<circle cx="570.47" cy="126.45" r="0.50" fill="#c4c4c4"/>
<circle cx="560.36" cy="129.24" r="0.50" fill="#c4c4c4"/>
<circle cx="579.74" cy="123.09" r="0.50" fill="#c4c4c4"/>
<circle cx="559.34" cy="132.44" r="0.50" fill="#c4c4c4"/>
<circle cx="557.59" cy="129.05" r="0.50" fill="#c4c4c4"/>
<circle cx="560.81" cy="130.39" r="0.50" fill="#c4c4c4"/>
<circle cx="556.38" cy="128.90" r="0.50" fill="#c4c4c4"/>
<circle cx="571.25" cy="128.97" r="0.50" fill="#c4c4c4"/>
<circle cx="576.77" cy="130.66" r="0.50" fill="#c4c4c4"/>
<circle cx="564.34" cy="128.35" r="0.50" fill="#c4c4c4"/>
<circle cx="574.65" cy="128.60" r="0.50" fill="#c4c4c4"/>
<circle cx="561.20" cy="130.80" r="0.50" fill="#c4c4c4"/>
<circle cx="554.43" cy="131.03" r="0.50" fill="#c4c4c4"/>
<circle cx="557.72" cy="130.80" r="0.50" fill="#c4c4c4"/>
<circle cx="561.77" cy="129.06" r="0.50" fill="#c4c4c4"/>
<circle cx="571.43" cy="132.64" r="0.50" fill="#c4c4c4"/>
<circle cx="555.79" cy="132.63" r="0.50" fill="#c4c4c4"/>
<circle cx="568.12" cy="128.96" r="0.50" fill="#c4c4c4"/>
<circle cx="566.37" cy="129.16" r="0.50" fill="#c4c4c4"/>
<circle cx="559.59" cy="129.82" r="0.50" fill="#c4c4c4"/>
<circle cx="570.51" cy="131.37" r="0.50" fill="#c4c4c4"/>
<circle cx="558.80" cy="127.38" r="0.50" fill="#c4c4c4"/>
<circle cx="556.95" cy="129.67" r="0.50" fill="#c4c4c4"/>
<circle cx="562.62" cy="131.39" r="0.50" fill="#c4c4c4"/>
<circle cx="562.75" cy="131.00" r="0.50" fill="#c4c4c4"/>
<circle cx="564.43" cy="125.08" r="0.50" fill="#c4c4c4"/>
<circle cx="576.10" cy="132.29" r="0.50" fill="#c4c4c4"/>
<circle cx="568.41" cy="128.74" r="0.50" fill="#c4c4c4"/>
<circle cx="561.40" cy="124.85" r="0.50" fill="#c4c4c4"/>
<circle cx="564.99" cy="129.95" r="0.50" fill="#c4c4c4"/>
<circle cx="557.27" cy="128.16" r="0.50" fill="#c4c4c4"/>
<circle cx="556.92" cy="130.15" r="0.50" fill="#c4c4c4"/>
<circle cx="572.80" cy="131.52" r="0.50" fill="#c4c4c4"/>
<circle cx="571.63" cy="131.09" r="0.50" fill="#c4c4c4"/>
<circle cx="557.26" cy="131.85" r="0.50" fill="#c4c4c4"/>
<circle cx="561.62" cy="125.89" r="0.50" fill="#c4c4c4"/>
<circle cx="565.10" cy="127.60" r="0.50" fill="#c4c4c4"/>
<circle cx="563.10" cy="127.82" r="0.50" fill="#c4c4c4"/>
<circle cx="558.80" cy="127.77" r="0.50" fill="#c4c4c4"/>
<circle cx="562.83" cy="128.88" r="0.50" fill="#c4c4c4"/>
<circle cx="563.84" cy="131.82" r="0.50" fill="#c4c4c4"/>
<circle cx="575.08" cy="128.01" r="0.50" fill="#c4c4c4"/>
<circle cx="548.72" cy="125.75" r="0.50" fill="#c4c4c4"/>
<circle cx="568.11" cy="131.32" r="0.50" fill="#c4c4c4"/>
<circle cx="568.67" cy="128.96" r="0.50" fill="#c4c4c4"/>
<circle cx="562.08" cy="129.72" r="0.50" fill="#c4c4c4"/>
<circle cx="562.27" cy="132.00" r="0.50" fill="#c4c4c4"/>
<circle cx="568.15" cy="132.05" r="0.50" fill="#c4c4c4"/>
<circle cx="562.84" cy="130.40" r="0.50" fill="#c4c4c4"/>
<circle cx="575.07" cy="127.23" r="0.50" fill="#c4c4c4"/>
<circle cx="557.86" cy="129.37" r="0.50" fill="#c4c4c4"/>
<circle cx="549.86" cy="126.93" r="0.50" fill="#c4c4c4"/>
<circle cx="567.86" cy="130.31" r="0.50" fill="#c4c4c4"/>
<circle cx="575.38" cy="125.65" r="0.50" fill="#c4c4c4"/>
<circle cx="573.15" cy="130.57" r="0.50" fill="#c4c4c4"/>
<circle cx="561.07" cy="130.70" r="0.50" fill="#c4c4c4"/>
<circle cx="575.69" cy="128.91" r="0.50" fill="#c4c4c4"/>
<circle cx="551.36" cy="130.34" r="0.50" fill="#c4c4c4"/>
<circle cx="563.80" cy="127.55" r="0.50" fill="#c4c4c4"/>
<circle cx="567.56" cy="131.59" r="0.50" fill="#c4c4c4"/>
<circle cx="560.75" cy="130.90" r="0.50" fill="#c4c4c4"/>
<circle cx="572.26" cy="125.89" r="0.50" fill="#c4c4c4"/>
<circle cx="559.30" cy="129.18" r="0.50" fill="#c4c4c4"/>
<circle cx="573.47" cy="132.04" r="0.50" fill="#c4c4c4"/>
<circle cx="559.45" cy="129.43" r="0.50" fill="#c4c4c4"/>
<circle cx="579.94" cy="128.29" r="0.50" fill="#c4c4c4"/>
<circle cx="554.53" cy="131.96" r="0.50" fill="#c4c4c4"/>
<circle cx="573.55" cy="125.26" r="0.50" fill="#c4c4c4"/>
<circle cx="555.15" cy="131.09" r="0.50" fill="#c4c4c4"/>
<circle cx="568.76" cy="129.39" r="0.50" fill="#c4c4c4"/>
<circle cx="565.85" cy="132.16" r="0.50" fill="#c4c4c4"/>
<circle cx="567.18" cy="127.79" r="0.50" fill="#c4c4c4"/>
<circle cx="547.36" cy="123.84" r="0.50" fill="#c4c4c4"/>
<circle cx="565.95" cy="128.50" r="0.50" fill="#c4c4c4"/>
<circle cx="568.41" cy="126.11" r="0.50" fill="#c4c4c4"/>
<circle cx="551.09" cy="131.60" r="0.50" fill="#c4c4c4"/>
<circle cx="557.51" cy="125.13" r="0.50" fill="#c4c4c4"/>
<circle cx="560.10" cy="129.48" r="0.50" fill="#c4c4c4"/>
<circle cx="563.71" cy="131.02" r="0.50" fill="#c4c4c4"/>
<circle cx="566.09" cy="131.84" r="0.50" fill="#c4c4c4"/>
<circle cx="568.70" cy="132.35" r="0.50" fill="#c4c4c4"/>
<circle cx="561.11" cy="131.35" r="0.50" fill="#c4c4c4"/>
<circle cx="573.86" cy="131.61" r="0.50" fill="#c4c4c4"/>
<circle cx="570.91" cy="125.68" r="0.50" fill="#c4c4c4"/>
<circle cx="578.19" cy="123.81" r="0.50" fill="#c4c4c4"/>
<circle cx="565.77" cy="128.52" r="0.50" fill="#c4c4c4"/>
<circle cx="561.07" cy="129.82" r="0.50" fill="#c4c4c4"/>
<circle cx="553.46" cy="129.96" r="0.50" fill="#c4c4c4"/>
<circle cx="564.59" cy="124.91" r="0.50" fill="#c4c4c4"/>
<circle cx="564.49" cy="129.27" r="0.50" fill="#c4c4c4"/>
<polygon points="564.4,121.4 550.7,121.4 545.0,116.0 541.4,112.2 538.0,107.0 536.5,102.0 537.0,99.0 541.4,97.5 546.9,96.0 553.5,97.5 557.9,98.5 562.2,99.5 564.4,101.0" fill="#1a10ff"/>
<polygon points="564.4,121.4 564.4,111.0 567.7,107.9 571.0,103.5 573.2,100.5 576.5,98.0 581.5,98.0 581.5,101.0 580.6,106.0 579.8,113.0 578.7,121.4" fill="#ff1a1a"/>
<circle cx="553.51" cy="96.82" r="0.90" fill="#2a20ff" fill-opacity="0.65"/>
<circle cx="547.23" cy="102.08" r="1.10" fill="#2a20ff" fill-opacity="0.5"/>
<circle cx="564.74" cy="102.39" r="1.10" fill="#2a20ff" fill-opacity="0.65"/>
<circle cx="549.59" cy="107.18" r="1.10" fill="#2a20ff" fill-opacity="0.5"/>
<circle cx="553.97" cy="94.78" r="0.90" fill="#2a20ff" fill-opacity="0.65"/>
<circle cx="557.74" cy="97.49" r="1.30" fill="#2a20ff" fill-opacity="0.65"/>
<circle cx="564.17" cy="104.81" r="1.10" fill="#2a20ff" fill-opacity="0.5"/>
<circle cx="553.49" cy="117.84" r="1.10" fill="#2a20ff" fill-opacity="0.5"/>
<circle cx="541.40" cy="96.57" r="1.10" fill="#2a20ff" fill-opacity="0.65"/>
<circle cx="537.04" cy="105.26" r="1.10" fill="#2a20ff" fill-opacity="0.65"/>
<circle cx="544.30" cy="116.26" r="0.90" fill="#2a20ff" fill-opacity="0.65"/>
<circle cx="562.07" cy="96.82" r="1.30" fill="#2a20ff" fill-opacity="0.65"/>
<circle cx="536.05" cy="105.01" r="1.10" fill="#2a20ff" fill-opacity="0.65"/>
<circle cx="541.86" cy="96.74" r="1.10" fill="#2a20ff" fill-opacity="0.65"/>
<circle cx="543.48" cy="116.42" r="1.10" fill="#2a20ff" fill-opacity="0.65"/>
<circle cx="540.02" cy="107.03" r="1.10" fill="#2a20ff" fill-opacity="0.5"/>
<circle cx="541.62" cy="111.09" r="1.10" fill="#2a20ff" fill-opacity="0.5"/>
<circle cx="534.96" cy="108.02" r="1.10" fill="#2a20ff" fill-opacity="0.65"/>
<circle cx="547.82" cy="94.24" r="1.10" fill="#2a20ff" fill-opacity="0.65"/>
<circle cx="552.87" cy="97.32" r="1.30" fill="#2a20ff" fill-opacity="0.65"/>
<circle cx="543.48" cy="94.45" r="1.30" fill="#2a20ff" fill-opacity="0.65"/>
<circle cx="538.64" cy="108.59" r="1.30" fill="#2a20ff" fill-opacity="0.65"/>
<circle cx="540.34" cy="104.91" r="1.10" fill="#2a20ff" fill-opacity="0.5"/>
<circle cx="545.74" cy="92.25" r="1.30" fill="#2a20ff" fill-opacity="0.65"/>
<circle cx="542.73" cy="115.28" r="1.10" fill="#2a20ff" fill-opacity="0.65"/>
<circle cx="537.04" cy="116.54" r="1.10" fill="#2a20ff" fill-opacity="0.65"/>
<circle cx="559.67" cy="103.83" r="1.10" fill="#2a20ff" fill-opacity="0.5"/>
<circle cx="536.28" cy="105.45" r="1.30" fill="#2a20ff" fill-opacity="0.65"/>
<circle cx="543.86" cy="108.99" r="1.10" fill="#2a20ff" fill-opacity="0.5"/>
<circle cx="540.31" cy="110.93" r="0.90" fill="#2a20ff" fill-opacity="0.65"/>
<circle cx="535.55" cy="102.52" r="0.90" fill="#2a20ff" fill-opacity="0.65"/>
<circle cx="559.78" cy="95.04" r="1.30" fill="#2a20ff" fill-opacity="0.65"/>
<circle cx="556.56" cy="97.42" r="0.90" fill="#2a20ff" fill-opacity="0.65"/>
<circle cx="551.49" cy="100.51" r="1.10" fill="#2a20ff" fill-opacity="0.5"/>
<circle cx="533.43" cy="103.07" r="0.90" fill="#2a20ff" fill-opacity="0.65"/>
<circle cx="536.76" cy="102.98" r="0.90" fill="#2a20ff" fill-opacity="0.65"/>
<circle cx="561.08" cy="97.54" r="0.90" fill="#2a20ff" fill-opacity="0.65"/>
<circle cx="540.78" cy="113.29" r="0.90" fill="#2a20ff" fill-opacity="0.65"/>
<circle cx="548.22" cy="120.82" r="1.10" fill="#2a20ff" fill-opacity="0.65"/>
<circle cx="539.32" cy="113.46" r="1.30" fill="#2a20ff" fill-opacity="0.65"/>
<circle cx="548.03" cy="93.90" r="1.10" fill="#2a20ff" fill-opacity="0.65"/>
<circle cx="548.51" cy="96.91" r="1.10" fill="#2a20ff" fill-opacity="0.5"/>
<circle cx="564.43" cy="114.40" r="1.30" fill="#2a20ff" fill-opacity="0.65"/>
<circle cx="549.97" cy="96.20" r="1.10" fill="#2a20ff" fill-opacity="0.65"/>
<circle cx="536.47" cy="99.35" r="1.30" fill="#2a20ff" fill-opacity="0.65"/>
<circle cx="560.84" cy="97.15" r="1.10" fill="#2a20ff" fill-opacity="0.65"/>
<circle cx="550.53" cy="121.32" r="1.10" fill="#2a20ff" fill-opacity="0.65"/>
<circle cx="542.14" cy="97.05" r="0.90" fill="#2a20ff" fill-opacity="0.65"/>
<circle cx="547.59" cy="118.69" r="0.90" fill="#2a20ff" fill-opacity="0.65"/>
<circle cx="544.21" cy="117.13" r="1.10" fill="#2a20ff" fill-opacity="0.65"/>
<circle cx="562.74" cy="120.72" r="1.10" fill="#2a20ff" fill-opacity="0.5"/>
<circle cx="557.87" cy="98.74" r="1.10" fill="#2a20ff" fill-opacity="0.5"/>
<circle cx="544.44" cy="96.19" r="0.90" fill="#2a20ff" fill-opacity="0.65"/>
<circle cx="541.33" cy="95.30" r="1.10" fill="#2a20ff" fill-opacity="0.65"/>
<circle cx="564.47" cy="106.96" r="1.10" fill="#2a20ff" fill-opacity="0.65"/>
<circle cx="541.93" cy="96.07" r="1.10" fill="#2a20ff" fill-opacity="0.65"/>
<circle cx="551.10" cy="95.21" r="0.90" fill="#2a20ff" fill-opacity="0.65"/>
<circle cx="547.81" cy="119.90" r="1.10" fill="#2a20ff" fill-opacity="0.65"/>
<circle cx="564.78" cy="113.72" r="0.90" fill="#2a20ff" fill-opacity="0.65"/>
<circle cx="548.07" cy="94.89" r="1.10" fill="#2a20ff" fill-opacity="0.65"/>
<circle cx="546.92" cy="95.15" r="0.90" fill="#2a20ff" fill-opacity="0.65"/>
<circle cx="564.80" cy="109.68" r="1.30" fill="#2a20ff" fill-opacity="0.65"/>
<circle cx="554.02" cy="96.50" r="1.30" fill="#2a20ff" fill-opacity="0.65"/>
<circle cx="543.21" cy="96.59" r="1.10" fill="#2a20ff" fill-opacity="0.65"/>
<circle cx="536.69" cy="92.80" r="1.30" fill="#2a20ff" fill-opacity="0.65"/>
<circle cx="532.72" cy="97.87" r="1.30" fill="#2a20ff" fill-opacity="0.65"/>
<circle cx="535.13" cy="102.23" r="1.30" fill="#2a20ff" fill-opacity="0.65"/>
<circle cx="555.43" cy="91.50" r="0.90" fill="#2a20ff" fill-opacity="0.65"/>
<circle cx="536.92" cy="98.23" r="0.90" fill="#2a20ff" fill-opacity="0.65"/>
<circle cx="541.91" cy="113.54" r="1.30" fill="#2a20ff" fill-opacity="0.65"/>
<circle cx="546.20" cy="94.50" r="0.90" fill="#2a20ff" fill-opacity="0.65"/>
<circle cx="545.69" cy="117.20" r="1.30" fill="#2a20ff" fill-opacity="0.65"/>
<circle cx="537.65" cy="110.23" r="1.30" fill="#2a20ff" fill-opacity="0.65"/>
<circle cx="535.64" cy="109.86" r="1.30" fill="#2a20ff" fill-opacity="0.65"/>
<circle cx="537.16" cy="109.69" r="0.90" fill="#2a20ff" fill-opacity="0.65"/>
<circle cx="535.61" cy="101.53" r="1.10" fill="#2a20ff" fill-opacity="0.65"/>
<circle cx="548.85" cy="95.84" r="0.90" fill="#2a20ff" fill-opacity="0.65"/>
<circle cx="534.53" cy="100.89" r="1.10" fill="#2a20ff" fill-opacity="0.65"/>
<circle cx="542.91" cy="108.40" r="1.10" fill="#2a20ff" fill-opacity="0.5"/>
<circle cx="537.67" cy="109.71" r="0.90" fill="#2a20ff" fill-opacity="0.65"/>
<circle cx="539.73" cy="98.52" r="1.10" fill="#2a20ff" fill-opacity="0.5"/>
<circle cx="564.54" cy="107.19" r="1.30" fill="#2a20ff" fill-opacity="0.65"/>
<circle cx="563.78" cy="97.48" r="1.10" fill="#2a20ff" fill-opacity="0.65"/>
<circle cx="556.76" cy="95.63" r="1.10" fill="#2a20ff" fill-opacity="0.65"/>
<circle cx="548.84" cy="100.97" r="1.10" fill="#2a20ff" fill-opacity="0.5"/>
<circle cx="555.38" cy="96.14" r="1.30" fill="#2a20ff" fill-opacity="0.65"/>
<circle cx="563.17" cy="110.54" r="1.10" fill="#2a20ff" fill-opacity="0.5"/>
<circle cx="548.07" cy="96.04" r="1.30" fill="#2a20ff" fill-opacity="0.65"/>
<circle cx="544.60" cy="96.45" r="1.10" fill="#2a20ff" fill-opacity="0.65"/>
<circle cx="536.35" cy="103.10" r="1.10" fill="#2a20ff" fill-opacity="0.65"/>
<circle cx="543.71" cy="107.78" r="1.10" fill="#2a20ff" fill-opacity="0.5"/>
<circle cx="544.72" cy="91.65" r="1.30" fill="#2a20ff" fill-opacity="0.65"/>
<circle cx="540.17" cy="115.00" r="1.30" fill="#2a20ff" fill-opacity="0.65"/>
<circle cx="537.43" cy="98.33" r="0.90" fill="#2a20ff" fill-opacity="0.65"/>
<circle cx="536.20" cy="103.15" r="0.90" fill="#2a20ff" fill-opacity="0.65"/>
<circle cx="560.84" cy="90.42" r="1.30" fill="#2a20ff" fill-opacity="0.65"/>
<circle cx="539.30" cy="97.20" r="0.90" fill="#2a20ff" fill-opacity="0.65"/>
<circle cx="539.38" cy="113.14" r="1.30" fill="#2a20ff" fill-opacity="0.65"/>
<circle cx="564.52" cy="116.54" r="1.10" fill="#2a20ff" fill-opacity="0.65"/>
<circle cx="564.42" cy="115.47" r="0.90" fill="#2a20ff" fill-opacity="0.65"/>
<circle cx="564.53" cy="104.43" r="1.30" fill="#2a20ff" fill-opacity="0.65"/>
<circle cx="558.25" cy="97.87" r="1.10" fill="#2a20ff" fill-opacity="0.65"/>
<circle cx="547.36" cy="119.47" r="1.30" fill="#2a20ff" fill-opacity="0.65"/>
<circle cx="538.66" cy="112.59" r="0.90" fill="#2a20ff" fill-opacity="0.65"/>
<circle cx="543.62" cy="118.70" r="1.10" fill="#2a20ff" fill-opacity="0.65"/>
<circle cx="550.43" cy="99.57" r="1.10" fill="#2a20ff" fill-opacity="0.5"/>
<circle cx="564.95" cy="120.03" r="1.30" fill="#2a20ff" fill-opacity="0.65"/>
<circle cx="555.26" cy="107.10" r="1.10" fill="#2a20ff" fill-opacity="0.5"/>
<circle cx="541.68" cy="113.90" r="0.90" fill="#2a20ff" fill-opacity="0.65"/>
<circle cx="542.75" cy="118.09" r="1.30" fill="#2a20ff" fill-opacity="0.65"/>
<circle cx="549.12" cy="120.32" r="1.10" fill="#2a20ff" fill-opacity="0.65"/>
<circle cx="546.86" cy="93.80" r="0.90" fill="#2a20ff" fill-opacity="0.65"/>
<circle cx="545.06" cy="117.76" r="1.10" fill="#2a20ff" fill-opacity="0.65"/>
<circle cx="544.91" cy="118.22" r="1.30" fill="#2a20ff" fill-opacity="0.65"/>
<circle cx="560.61" cy="97.52" r="0.90" fill="#2a20ff" fill-opacity="0.65"/>
<circle cx="539.40" cy="109.16" r="0.90" fill="#2a20ff" fill-opacity="0.65"/>
<circle cx="564.50" cy="105.81" r="0.90" fill="#2a20ff" fill-opacity="0.65"/>
<circle cx="533.85" cy="99.33" r="0.90" fill="#2a20ff" fill-opacity="0.65"/>
<circle cx="549.03" cy="112.40" r="1.10" fill="#2a20ff" fill-opacity="0.5"/>
<circle cx="536.37" cy="97.71" r="1.10" fill="#2a20ff" fill-opacity="0.65"/>
<circle cx="551.22" cy="109.73" r="1.10" fill="#2a20ff" fill-opacity="0.5"/>
<circle cx="544.61" cy="94.45" r="0.90" fill="#2a20ff" fill-opacity="0.65"/>
<circle cx="540.08" cy="119.83" r="1.10" fill="#2a20ff" fill-opacity="0.65"/>
<circle cx="564.73" cy="113.52" r="0.90" fill="#2a20ff" fill-opacity="0.65"/>
<circle cx="558.07" cy="94.44" r="1.30" fill="#2a20ff" fill-opacity="0.65"/>
<circle cx="542.68" cy="96.79" r="1.10" fill="#2a20ff" fill-opacity="0.65"/>
<circle cx="537.66" cy="107.48" r="1.30" fill="#2a20ff" fill-opacity="0.65"/>
<circle cx="543.00" cy="104.40" r="1.10" fill="#2a20ff" fill-opacity="0.5"/>
<circle cx="556.31" cy="119.53" r="1.10" fill="#2a20ff" fill-opacity="0.5"/>
<circle cx="564.48" cy="110.53" r="1.10" fill="#2a20ff" fill-opacity="0.65"/>
<circle cx="547.55" cy="119.48" r="0.90" fill="#2a20ff" fill-opacity="0.65"/>
<circle cx="539.59" cy="115.89" r="0.90" fill="#2a20ff" fill-opacity="0.65"/>
<circle cx="542.64" cy="97.09" r="0.90" fill="#2a20ff" fill-opacity="0.65"/>
<circle cx="544.87" cy="93.65" r="1.30" fill="#2a20ff" fill-opacity="0.65"/>
<circle cx="564.98" cy="102.40" r="1.10" fill="#2a20ff" fill-opacity="0.65"/>
<circle cx="559.01" cy="99.46" r="1.10" fill="#2a20ff" fill-opacity="0.5"/>
<circle cx="564.57" cy="109.10" r="0.90" fill="#2a20ff" fill-opacity="0.65"/>
<circle cx="545.55" cy="120.08" r="0.90" fill="#2a20ff" fill-opacity="0.65"/>
<circle cx="543.21" cy="95.89" r="1.30" fill="#2a20ff" fill-opacity="0.65"/>
<circle cx="553.92" cy="95.42" r="1.10" fill="#2a20ff" fill-opacity="0.65"/>
<circle cx="546.29" cy="95.50" r="1.30" fill="#2a20ff" fill-opacity="0.65"/>
<circle cx="564.74" cy="102.66" r="1.30" fill="#2a20ff" fill-opacity="0.65"/>
<circle cx="564.95" cy="120.79" r="0.90" fill="#2a20ff" fill-opacity="0.65"/>
<circle cx="550.66" cy="116.72" r="1.10" fill="#2a20ff" fill-opacity="0.5"/>
<circle cx="546.33" cy="117.73" r="1.10" fill="#2a20ff" fill-opacity="0.65"/>
<circle cx="560.46" cy="95.76" r="1.30" fill="#2a20ff" fill-opacity="0.65"/>
<circle cx="539.31" cy="114.17" r="1.10" fill="#2a20ff" fill-opacity="0.65"/>
<circle cx="564.75" cy="112.69" r="1.10" fill="#2a20ff" fill-opacity="0.65"/>
<circle cx="538.89" cy="97.92" r="1.10" fill="#2a20ff" fill-opacity="0.65"/>
<circle cx="547.39" cy="93.44" r="1.10" fill="#2a20ff" fill-opacity="0.65"/>
<circle cx="543.96" cy="96.29" r="1.10" fill="#2a20ff" fill-opacity="0.65"/>
<circle cx="544.43" cy="92.78" r="1.10" fill="#2a20ff" fill-opacity="0.65"/>
<circle cx="552.48" cy="95.11" r="1.10" fill="#2a20ff" fill-opacity="0.65"/>
<circle cx="535.70" cy="99.20" r="1.30" fill="#2a20ff" fill-opacity="0.65"/>
<circle cx="541.29" cy="118.05" r="1.10" fill="#2a20ff" fill-opacity="0.65"/>
<circle cx="555.87" cy="97.52" r="0.90" fill="#2a20ff" fill-opacity="0.65"/>
<circle cx="536.78" cy="115.56" r="0.90" fill="#2a20ff" fill-opacity="0.65"/>
<circle cx="559.00" cy="98.71" r="0.90" fill="#2a20ff" fill-opacity="0.65"/>
<circle cx="555.90" cy="91.80" r="1.30" fill="#2a20ff" fill-opacity="0.65"/>
<circle cx="540.57" cy="104.64" r="1.10" fill="#2a20ff" fill-opacity="0.5"/>
<circle cx="549.35" cy="120.20" r="0.90" fill="#2a20ff" fill-opacity="0.65"/>
<circle cx="550.12" cy="121.37" r="0.90" fill="#2a20ff" fill-opacity="0.65"/>
<circle cx="537.14" cy="108.47" r="1.30" fill="#2a20ff" fill-opacity="0.65"/>
<circle cx="556.24" cy="97.18" r="1.30" fill="#2a20ff" fill-opacity="0.65"/>
<circle cx="543.67" cy="116.79" r="1.10" fill="#2a20ff" fill-opacity="0.65"/>
<circle cx="564.63" cy="111.75" r="1.30" fill="#2a20ff" fill-opacity="0.65"/>
<circle cx="544.03" cy="113.18" r="1.10" fill="#2a20ff" fill-opacity="0.5"/>
<circle cx="544.74" cy="96.27" r="0.90" fill="#2a20ff" fill-opacity="0.65"/>
<circle cx="544.41" cy="97.99" r="1.10" fill="#2a20ff" fill-opacity="0.5"/>
<circle cx="542.16" cy="95.97" r="1.10" fill="#2a20ff" fill-opacity="0.65"/>
<circle cx="569.96" cy="119.22" r="1.10" fill="#ff2a2a" fill-opacity="0.5"/>
<circle cx="579.23" cy="118.57" r="1.30" fill="#ff2a2a" fill-opacity="0.65"/>
<circle cx="571.30" cy="102.56" r="0.90" fill="#ff2a2a" fill-opacity="0.65"/>
<circle cx="572.14" cy="96.49" r="1.30" fill="#ff2a2a" fill-opacity="0.65"/>
<circle cx="581.19" cy="103.08" r="0.90" fill="#ff2a2a" fill-opacity="0.65"/>
<circle cx="581.26" cy="116.68" r="0.90" fill="#ff2a2a" fill-opacity="0.65"/>
<circle cx="581.17" cy="109.18" r="1.30" fill="#ff2a2a" fill-opacity="0.65"/>
<circle cx="581.57" cy="98.18" r="0.90" fill="#ff2a2a" fill-opacity="0.65"/>
<circle cx="588.39" cy="112.25" r="1.30" fill="#ff2a2a" fill-opacity="0.65"/>
<circle cx="581.77" cy="100.94" r="0.90" fill="#ff2a2a" fill-opacity="0.65"/>
<circle cx="581.86" cy="103.51" r="0.90" fill="#ff2a2a" fill-opacity="0.65"/>
<circle cx="581.14" cy="120.31" r="0.90" fill="#ff2a2a" fill-opacity="0.65"/>
<circle cx="579.57" cy="97.48" r="1.10" fill="#ff2a2a" fill-opacity="0.65"/>
<circle cx="565.92" cy="108.69" r="0.90" fill="#ff2a2a" fill-opacity="0.65"/>
<circle cx="568.65" cy="120.62" r="1.10" fill="#ff2a2a" fill-opacity="0.5"/>
<circle cx="577.45" cy="97.54" r="1.10" fill="#ff2a2a" fill-opacity="0.65"/>
<circle cx="571.43" cy="99.42" r="1.10" fill="#ff2a2a" fill-opacity="0.65"/>
<circle cx="579.42" cy="100.65" r="1.10" fill="#ff2a2a" fill-opacity="0.5"/>
<circle cx="576.18" cy="101.31" r="1.10" fill="#ff2a2a" fill-opacity="0.5"/>
<circle cx="570.61" cy="103.80" r="0.90" fill="#ff2a2a" fill-opacity="0.65"/>
<circle cx="576.19" cy="97.83" r="0.90" fill="#ff2a2a" fill-opacity="0.65"/>
<circle cx="565.58" cy="105.01" r="1.30" fill="#ff2a2a" fill-opacity="0.65"/>
<circle cx="565.02" cy="109.30" r="1.30" fill="#ff2a2a" fill-opacity="0.65"/>
<circle cx="577.47" cy="97.03" r="1.10" fill="#ff2a2a" fill-opacity="0.65"/>
<circle cx="572.54" cy="101.32" r="1.30" fill="#ff2a2a" fill-opacity="0.65"/>
<circle cx="565.21" cy="103.48" r="0.90" fill="#ff2a2a" fill-opacity="0.65"/>
<circle cx="584.70" cy="111.83" r="1.10" fill="#ff2a2a" fill-opacity="0.65"/>
<circle cx="581.33" cy="115.39" r="1.10" fill="#ff2a2a" fill-opacity="0.65"/>
<circle cx="568.57" cy="119.39" r="1.10" fill="#ff2a2a" fill-opacity="0.5"/>
<circle cx="580.04" cy="114.84" r="1.30" fill="#ff2a2a" fill-opacity="0.65"/>
<circle cx="568.49" cy="113.65" r="1.10" fill="#ff2a2a" fill-opacity="0.5"/>
<circle cx="581.74" cy="108.69" r="0.90" fill="#ff2a2a" fill-opacity="0.65"/>
<circle cx="580.31" cy="121.13" r="1.30" fill="#ff2a2a" fill-opacity="0.65"/>
<circle cx="580.53" cy="97.96" r="1.30" fill="#ff2a2a" fill-opacity="0.65"/>
<circle cx="568.53" cy="106.39" r="1.10" fill="#ff2a2a" fill-opacity="0.65"/>
<circle cx="581.51" cy="115.75" r="1.30" fill="#ff2a2a" fill-opacity="0.65"/>
<circle cx="581.96" cy="98.17" r="1.10" fill="#ff2a2a" fill-opacity="0.65"/>
<circle cx="583.68" cy="104.16" r="0.90" fill="#ff2a2a" fill-opacity="0.65"/>
<circle cx="581.30" cy="107.00" r="1.30" fill="#ff2a2a" fill-opacity="0.65"/>
<circle cx="582.82" cy="96.88" r="1.30" fill="#ff2a2a" fill-opacity="0.65"/>
<circle cx="577.09" cy="94.72" r="1.10" fill="#ff2a2a" fill-opacity="0.65"/>
<circle cx="582.17" cy="117.35" r="1.10" fill="#ff2a2a" fill-opacity="0.65"/>
<circle cx="578.44" cy="94.34" r="1.10" fill="#ff2a2a" fill-opacity="0.65"/>
<circle cx="582.77" cy="118.37" r="1.30" fill="#ff2a2a" fill-opacity="0.65"/>
<circle cx="570.02" cy="100.54" r="0.90" fill="#ff2a2a" fill-opacity="0.65"/>
<circle cx="579.76" cy="97.53" r="1.30" fill="#ff2a2a" fill-opacity="0.65"/>
<circle cx="581.73" cy="103.05" r="0.90" fill="#ff2a2a" fill-opacity="0.65"/>
<circle cx="579.98" cy="94.24" r="1.30" fill="#ff2a2a" fill-opacity="0.65"/>
<circle cx="571.99" cy="101.43" r="1.30" fill="#ff2a2a" fill-opacity="0.65"/>
<circle cx="580.42" cy="113.03" r="1.10" fill="#ff2a2a" fill-opacity="0.65"/>
<circle cx="575.77" cy="113.19" r="1.10" fill="#ff2a2a" fill-opacity="0.5"/>
<circle cx="579.52" cy="117.08" r="1.30" fill="#ff2a2a" fill-opacity="0.65"/>
<circle cx="583.55" cy="119.39" r="1.10" fill="#ff2a2a" fill-opacity="0.65"/>
<circle cx="580.22" cy="112.41" r="0.90" fill="#ff2a2a" fill-opacity="0.65"/>
<circle cx="580.91" cy="111.69" r="1.30" fill="#ff2a2a" fill-opacity="0.65"/>
<circle cx="584.81" cy="98.37" r="0.90" fill="#ff2a2a" fill-opacity="0.65"/>
<circle cx="579.21" cy="119.78" r="1.10" fill="#ff2a2a" fill-opacity="0.65"/>
<circle cx="575.11" cy="95.63" r="0.90" fill="#ff2a2a" fill-opacity="0.65"/>
<circle cx="574.34" cy="92.70" r="1.30" fill="#ff2a2a" fill-opacity="0.65"/>
<circle cx="581.68" cy="107.23" r="1.10" fill="#ff2a2a" fill-opacity="0.65"/>
<circle cx="565.29" cy="107.45" r="1.30" fill="#ff2a2a" fill-opacity="0.65"/>
<circle cx="569.88" cy="101.71" r="1.10" fill="#ff2a2a" fill-opacity="0.65"/>
<circle cx="581.92" cy="98.96" r="1.30" fill="#ff2a2a" fill-opacity="0.65"/>
<circle cx="585.56" cy="114.77" r="1.10" fill="#ff2a2a" fill-opacity="0.65"/>
<circle cx="580.36" cy="116.31" r="0.90" fill="#ff2a2a" fill-opacity="0.65"/>
<circle cx="580.90" cy="106.58" r="1.10" fill="#ff2a2a" fill-opacity="0.65"/>
<circle cx="566.90" cy="107.82" r="0.90" fill="#ff2a2a" fill-opacity="0.65"/>
<circle cx="587.50" cy="96.58" r="0.90" fill="#ff2a2a" fill-opacity="0.65"/>
<circle cx="565.45" cy="103.95" r="0.90" fill="#ff2a2a" fill-opacity="0.65"/>
<circle cx="581.88" cy="116.75" r="1.30" fill="#ff2a2a" fill-opacity="0.65"/>
<circle cx="586.02" cy="103.31" r="0.90" fill="#ff2a2a" fill-opacity="0.65"/>
<circle cx="581.07" cy="103.62" r="0.90" fill="#ff2a2a" fill-opacity="0.65"/>
<circle cx="580.93" cy="112.49" r="1.30" fill="#ff2a2a" fill-opacity="0.65"/>
<circle cx="573.13" cy="103.35" r="1.10" fill="#ff2a2a" fill-opacity="0.5"/>
<circle cx="581.34" cy="112.94" r="1.10" fill="#ff2a2a" fill-opacity="0.65"/>
<circle cx="579.93" cy="97.96" r="0.90" fill="#ff2a2a" fill-opacity="0.65"/>
<circle cx="567.31" cy="106.53" r="0.90" fill="#ff2a2a" fill-opacity="0.65"/>
<circle cx="579.57" cy="104.38" r="1.10" fill="#ff2a2a" fill-opacity="0.5"/>
<circle cx="574.32" cy="98.33" r="1.30" fill="#ff2a2a" fill-opacity="0.65"/>
<circle cx="575.40" cy="95.54" r="1.30" fill="#ff2a2a" fill-opacity="0.65"/>
<circle cx="569.72" cy="116.24" r="1.10" fill="#ff2a2a" fill-opacity="0.5"/>
<circle cx="577.66" cy="96.91" r="1.10" fill="#ff2a2a" fill-opacity="0.65"/>
<circle cx="581.00" cy="110.60" r="1.10" fill="#ff2a2a" fill-opacity="0.65"/>
<circle cx="579.90" cy="118.38" r="1.10" fill="#ff2a2a" fill-opacity="0.65"/>
<circle cx="579.52" cy="115.36" r="0.90" fill="#ff2a2a" fill-opacity="0.65"/>
<circle cx="582.26" cy="111.69" r="1.10" fill="#ff2a2a" fill-opacity="0.65"/>
<circle cx="567.84" cy="101.78" r="1.30" fill="#ff2a2a" fill-opacity="0.65"/>
<circle cx="576.59" cy="105.11" r="1.10" fill="#ff2a2a" fill-opacity="0.5"/>
<circle cx="572.02" cy="101.92" r="1.10" fill="#ff2a2a" fill-opacity="0.65"/>
<circle cx="580.72" cy="120.28" r="0.90" fill="#ff2a2a" fill-opacity="0.65"/>
<circle cx="570.55" cy="98.51" r="0.90" fill="#ff2a2a" fill-opacity="0.65"/>
<circle cx="588.64" cy="101.48" r="1.30" fill="#ff2a2a" fill-opacity="0.65"/>
<circle cx="579.50" cy="96.46" r="0.90" fill="#ff2a2a" fill-opacity="0.65"/>
<circle cx="578.05" cy="97.33" r="0.90" fill="#ff2a2a" fill-opacity="0.65"/>
<circle cx="575.81" cy="97.91" r="1.30" fill="#ff2a2a" fill-opacity="0.65"/>
<circle cx="575.94" cy="107.21" r="1.10" fill="#ff2a2a" fill-opacity="0.5"/>
<circle cx="578.92" cy="97.90" r="1.30" fill="#ff2a2a" fill-opacity="0.65"/>
<circle cx="581.50" cy="93.43" r="1.30" fill="#ff2a2a" fill-opacity="0.65"/>
<circle cx="580.64" cy="106.60" r="1.10" fill="#ff2a2a" fill-opacity="0.65"/>
<circle cx="568.54" cy="115.35" r="1.10" fill="#ff2a2a" fill-opacity="0.5"/>
<circle cx="573.16" cy="98.65" r="1.30" fill="#ff2a2a" fill-opacity="0.65"/>
<circle cx="581.56" cy="113.95" r="1.30" fill="#ff2a2a" fill-opacity="0.65"/>
<circle cx="572.16" cy="100.71" r="1.30" fill="#ff2a2a" fill-opacity="0.65"/>
<circle cx="580.92" cy="95.49" r="1.10" fill="#ff2a2a" fill-opacity="0.65"/>
<circle cx="576.90" cy="103.58" r="1.10" fill="#ff2a2a" fill-opacity="0.5"/>
<circle cx="577.83" cy="90.63" r="1.10" fill="#ff2a2a" fill-opacity="0.65"/>
<circle cx="579.78" cy="120.13" r="0.90" fill="#ff2a2a" fill-opacity="0.65"/>
<circle cx="568.86" cy="105.84" r="1.30" fill="#ff2a2a" fill-opacity="0.65"/>
<circle cx="577.63" cy="97.58" r="1.30" fill="#ff2a2a" fill-opacity="0.65"/>
<circle cx="580.22" cy="96.87" r="1.30" fill="#ff2a2a" fill-opacity="0.65"/>
<circle cx="580.04" cy="120.63" r="0.90" fill="#ff2a2a" fill-opacity="0.65"/>
<circle cx="580.55" cy="109.64" r="1.30" fill="#ff2a2a" fill-opacity="0.65"/>
<circle cx="565.35" cy="108.76" r="0.90" fill="#ff2a2a" fill-opacity="0.65"/>
<circle cx="570.09" cy="120.27" r="1.10" fill="#ff2a2a" fill-opacity="0.5"/>
<circle cx="588.39" cy="98.78" r="1.10" fill="#ff2a2a" fill-opacity="0.65"/>
<circle cx="580.34" cy="115.51" r="1.30" fill="#ff2a2a" fill-opacity="0.65"/>
<circle cx="580.21" cy="117.72" r="1.30" fill="#ff2a2a" fill-opacity="0.65"/>
<circle cx="578.30" cy="96.98" r="1.30" fill="#ff2a2a" fill-opacity="0.65"/>
<circle cx="586.07" cy="96.93" r="0.90" fill="#ff2a2a" fill-opacity="0.65"/>
<circle cx="572.12" cy="92.01" r="0.90" fill="#ff2a2a" fill-opacity="0.65"/>
<circle cx="565.17" cy="109.57" r="1.10" fill="#ff2a2a" fill-opacity="0.65"/>
<circle cx="579.18" cy="93.68" r="1.10" fill="#ff2a2a" fill-opacity="0.65"/>
<circle cx="575.54" cy="95.05" r="1.30" fill="#ff2a2a" fill-opacity="0.65"/>
<circle cx="574.84" cy="97.96" r="0.90" fill="#ff2a2a" fill-opacity="0.65"/>
<circle cx="577.75" cy="110.71" r="1.10" fill="#ff2a2a" fill-opacity="0.5"/>
<circle cx="582.72" cy="98.05" r="1.10" fill="#ff2a2a" fill-opacity="0.65"/>
<circle cx="572.81" cy="110.39" r="1.10" fill="#ff2a2a" fill-opacity="0.5"/>
<circle cx="568.32" cy="114.94" r="1.10" fill="#ff2a2a" fill-opacity="0.5"/>
<circle cx="581.05" cy="108.16" r="1.30" fill="#ff2a2a" fill-opacity="0.65"/>
<circle cx="564.79" cy="103.97" r="1.30" fill="#ff2a2a" fill-opacity="0.65"/>
<circle cx="582.50" cy="98.56" r="0.90" fill="#ff2a2a" fill-opacity="0.65"/>
<circle cx="582.19" cy="106.64" r="1.30" fill="#ff2a2a" fill-opacity="0.65"/>
<circle cx="581.96" cy="118.88" r="1.10" fill="#ff2a2a" fill-opacity="0.65"/>
<circle cx="582.84" cy="110.12" r="0.90" fill="#ff2a2a" fill-opacity="0.65"/>
<circle cx="585.64" cy="99.00" r="1.10" fill="#ff2a2a" fill-opacity="0.65"/>
<circle cx="580.48" cy="113.67" r="0.90" fill="#ff2a2a" fill-opacity="0.65"/>
<circle cx="593.87" cy="99.82" r="1.30" fill="#ff2a2a" fill-opacity="0.65"/>
<circle cx="582.57" cy="109.53" r="1.30" fill="#ff2a2a" fill-opacity="0.65"/>
<circle cx="585.37" cy="95.66" r="1.30" fill="#ff2a2a" fill-opacity="0.65"/>
<circle cx="583.42" cy="101.36" r="0.90" fill="#ff2a2a" fill-opacity="0.65"/>
<circle cx="581.19" cy="114.49" r="0.90" fill="#ff2a2a" fill-opacity="0.65"/>
<circle cx="579.51" cy="118.64" r="1.10" fill="#ff2a2a" fill-opacity="0.65"/>
<circle cx="581.96" cy="99.85" r="1.10" fill="#ff2a2a" fill-opacity="0.65"/>
<circle cx="572.02" cy="92.20" r="1.10" fill="#ff2a2a" fill-opacity="0.65"/>
<circle cx="582.31" cy="107.07" r="1.30" fill="#ff2a2a" fill-opacity="0.65"/>
<circle cx="580.33" cy="112.68" r="1.30" fill="#ff2a2a" fill-opacity="0.65"/>
<circle cx="565.64" cy="109.77" r="1.30" fill="#ff2a2a" fill-opacity="0.65"/>
<circle cx="593.09" cy="113.49" r="1.30" fill="#ff2a2a" fill-opacity="0.65"/>
<circle cx="566.96" cy="96.55" r="0.90" fill="#ff2a2a" fill-opacity="0.65"/>
<circle cx="567.98" cy="106.34" r="1.10" fill="#ff2a2a" fill-opacity="0.65"/>
<circle cx="576.05" cy="97.26" r="1.10" fill="#ff2a2a" fill-opacity="0.65"/>
<circle cx="582.42" cy="111.06" r="0.90" fill="#ff2a2a" fill-opacity="0.65"/>
<circle cx="585.71" cy="104.55" r="1.10" fill="#ff2a2a" fill-opacity="0.65"/>
<circle cx="579.76" cy="114.07" r="1.10" fill="#ff2a2a" fill-opacity="0.65"/>
<circle cx="580.10" cy="110.82" r="1.10" fill="#ff2a2a" fill-opacity="0.65"/>
<circle cx="571.93" cy="101.85" r="0.90" fill="#ff2a2a" fill-opacity="0.65"/>
<circle cx="580.46" cy="97.19" r="1.30" fill="#ff2a2a" fill-opacity="0.65"/>
<circle cx="585.14" cy="108.15" r="0.90" fill="#ff2a2a" fill-opacity="0.65"/>
<circle cx="576.00" cy="95.82" r="1.30" fill="#ff2a2a" fill-opacity="0.65"/>
<circle cx="588.19" cy="120.54" r="0.90" fill="#ff2a2a" fill-opacity="0.65"/>
<circle cx="580.29" cy="110.24" r="0.90" fill="#ff2a2a" fill-opacity="0.65"/>
<circle cx="575.38" cy="102.86" r="1.10" fill="#ff2a2a" fill-opacity="0.5"/>
<circle cx="573.84" cy="96.06" r="1.10" fill="#ff2a2a" fill-opacity="0.65"/>
<circle cx="581.28" cy="120.76" r="0.90" fill="#ff2a2a" fill-opacity="0.65"/>
<circle cx="579.56" cy="115.68" r="1.30" fill="#ff2a2a" fill-opacity="0.65"/>
<circle cx="567.64" cy="107.70" r="0.90" fill="#ff2a2a" fill-opacity="0.65"/>
<circle cx="575.43" cy="96.89" r="0.90" fill="#ff2a2a" fill-opacity="0.65"/>
<circle cx="581.57" cy="119.29" r="1.10" fill="#ff2a2a" fill-opacity="0.65"/>
<circle cx="580.66" cy="106.25" r="1.10" fill="#ff2a2a" fill-opacity="0.65"/>
<circle cx="579.09" cy="96.58" r="1.10" fill="#ff2a2a" fill-opacity="0.65"/>
<circle cx="558.81" cy="91.37" r="0.90" fill="#2a20ff" fill-opacity="0.6"/>
<circle cx="562.00" cy="95.30" r="0.90" fill="#2a20ff" fill-opacity="0.6"/>
<circle cx="528.01" cy="88.71" r="1.10" fill="#2a20ff" fill-opacity="0.6"/>
<circle cx="551.23" cy="95.75" r="1.10" fill="#2a20ff" fill-opacity="0.6"/>
<circle cx="557.10" cy="86.30" r="1.30" fill="#2a20ff" fill-opacity="0.6"/>
<circle cx="529.94" cy="93.61" r="0.90" fill="#2a20ff" fill-opacity="0.6"/>
<circle cx="546.99" cy="90.81" r="1.10" fill="#2a20ff" fill-opacity="0.6"/>
<circle cx="555.12" cy="94.37" r="1.10" fill="#2a20ff" fill-opacity="0.6"/>
<circle cx="541.76" cy="94.64" r="1.10" fill="#2a20ff" fill-opacity="0.6"/>
<circle cx="530.37" cy="96.81" r="1.10" fill="#2a20ff" fill-opacity="0.6"/>
<circle cx="531.24" cy="92.66" r="1.30" fill="#2a20ff" fill-opacity="0.6"/>
<circle cx="562.05" cy="90.59" r="1.10" fill="#2a20ff" fill-opacity="0.6"/>
<circle cx="534.88" cy="91.51" r="1.30" fill="#2a20ff" fill-opacity="0.6"/>
<circle cx="557.75" cy="94.34" r="1.30" fill="#2a20ff" fill-opacity="0.6"/>
<circle cx="540.40" cy="95.28" r="1.10" fill="#2a20ff" fill-opacity="0.6"/>
<circle cx="557.29" cy="95.76" r="1.30" fill="#2a20ff" fill-opacity="0.6"/>
<circle cx="560.11" cy="96.76" r="1.10" fill="#2a20ff" fill-opacity="0.6"/>
<circle cx="545.81" cy="96.05" r="1.10" fill="#2a20ff" fill-opacity="0.6"/>
<circle cx="540.78" cy="93.13" r="1.10" fill="#2a20ff" fill-opacity="0.6"/>
<circle cx="540.23" cy="92.57" r="0.90" fill="#2a20ff" fill-opacity="0.6"/>
<circle cx="539.51" cy="95.44" r="1.30" fill="#2a20ff" fill-opacity="0.6"/>
<circle cx="547.45" cy="96.44" r="1.30" fill="#2a20ff" fill-opacity="0.6"/>
<circle cx="528.09" cy="92.05" r="0.90" fill="#2a20ff" fill-opacity="0.6"/>
<circle cx="540.58" cy="87.74" r="1.30" fill="#2a20ff" fill-opacity="0.6"/>
<circle cx="541.48" cy="86.83" r="1.30" fill="#2a20ff" fill-opacity="0.6"/>
<circle cx="535.23" cy="90.92" r="0.90" fill="#2a20ff" fill-opacity="0.6"/>
<circle cx="556.09" cy="89.37" r="1.10" fill="#2a20ff" fill-opacity="0.6"/>
<circle cx="530.25" cy="96.86" r="0.90" fill="#2a20ff" fill-opacity="0.6"/>
<circle cx="541.47" cy="90.48" r="0.90" fill="#2a20ff" fill-opacity="0.6"/>
<circle cx="562.70" cy="92.76" r="1.30" fill="#2a20ff" fill-opacity="0.6"/>
<circle cx="545.07" cy="88.64" r="1.30" fill="#2a20ff" fill-opacity="0.6"/>
<circle cx="529.58" cy="95.29" r="1.10" fill="#2a20ff" fill-opacity="0.6"/>
<circle cx="558.08" cy="96.54" r="1.30" fill="#2a20ff" fill-opacity="0.6"/>
<circle cx="539.04" cy="88.30" r="1.30" fill="#2a20ff" fill-opacity="0.6"/>
<circle cx="546.88" cy="89.75" r="0.90" fill="#2a20ff" fill-opacity="0.6"/>
<circle cx="531.58" cy="95.40" r="0.90" fill="#2a20ff" fill-opacity="0.6"/>
<circle cx="546.30" cy="94.78" r="1.30" fill="#2a20ff" fill-opacity="0.6"/>
<circle cx="549.07" cy="91.21" r="1.10" fill="#2a20ff" fill-opacity="0.6"/>
<circle cx="556.83" cy="95.05" r="1.10" fill="#2a20ff" fill-opacity="0.6"/>
<circle cx="531.54" cy="96.80" r="1.30" fill="#2a20ff" fill-opacity="0.6"/>
<circle cx="529.17" cy="94.91" r="1.10" fill="#2a20ff" fill-opacity="0.6"/>
<circle cx="557.26" cy="96.15" r="0.90" fill="#2a20ff" fill-opacity="0.6"/>
<circle cx="551.50" cy="93.37" r="1.10" fill="#2a20ff" fill-opacity="0.6"/>
<circle cx="562.31" cy="96.25" r="1.10" fill="#2a20ff" fill-opacity="0.6"/>
<circle cx="545.37" cy="90.58" r="1.30" fill="#2a20ff" fill-opacity="0.6"/>
<circle cx="542.92" cy="96.79" r="0.90" fill="#2a20ff" fill-opacity="0.6"/>
<circle cx="557.28" cy="94.28" r="1.10" fill="#2a20ff" fill-opacity="0.6"/>
<circle cx="551.65" cy="94.76" r="1.30" fill="#2a20ff" fill-opacity="0.6"/>
<circle cx="543.31" cy="95.84" r="0.90" fill="#2a20ff" fill-opacity="0.6"/>
<circle cx="558.75" cy="96.49" r="1.30" fill="#2a20ff" fill-opacity="0.6"/>
<circle cx="541.72" cy="94.17" r="0.90" fill="#2a20ff" fill-opacity="0.6"/>
<circle cx="554.91" cy="92.73" r="0.90" fill="#2a20ff" fill-opacity="0.6"/>
<circle cx="556.66" cy="96.98" r="1.30" fill="#2a20ff" fill-opacity="0.6"/>
<circle cx="542.43" cy="94.81" r="1.30" fill="#2a20ff" fill-opacity="0.6"/>
<circle cx="555.90" cy="95.67" r="1.30" fill="#2a20ff" fill-opacity="0.6"/>
<circle cx="554.44" cy="91.54" r="0.90" fill="#2a20ff" fill-opacity="0.6"/>
<circle cx="547.05" cy="94.67" r="0.90" fill="#2a20ff" fill-opacity="0.6"/>
<circle cx="540.93" cy="95.32" r="0.90" fill="#2a20ff" fill-opacity="0.6"/>
<circle cx="560.85" cy="90.87" r="1.10" fill="#2a20ff" fill-opacity="0.6"/>
<circle cx="548.49" cy="87.21" r="1.10" fill="#2a20ff" fill-opacity="0.6"/>
<circle cx="555.89" cy="96.23" r="1.10" fill="#2a20ff" fill-opacity="0.6"/>
<circle cx="552.91" cy="91.65" r="1.30" fill="#2a20ff" fill-opacity="0.6"/>
<circle cx="541.27" cy="96.87" r="1.10" fill="#2a20ff" fill-opacity="0.6"/>
<circle cx="540.37" cy="92.31" r="1.30" fill="#2a20ff" fill-opacity="0.6"/>
<circle cx="560.60" cy="85.80" r="0.90" fill="#2a20ff" fill-opacity="0.6"/>
<circle cx="531.31" cy="93.85" r="1.10" fill="#2a20ff" fill-opacity="0.6"/>
<circle cx="540.59" cy="91.24" r="1.10" fill="#2a20ff" fill-opacity="0.6"/>
<circle cx="561.39" cy="95.10" r="1.10" fill="#2a20ff" fill-opacity="0.6"/>
<circle cx="556.63" cy="94.85" r="1.10" fill="#2a20ff" fill-opacity="0.6"/>
<circle cx="545.81" cy="86.50" r="0.90" fill="#2a20ff" fill-opacity="0.6"/>
<circle cx="531.07" cy="98.85" r="0.90" fill="#2a20ff" fill-opacity="0.6"/>
<circle cx="530.73" cy="102.85" r="1.10" fill="#2a20ff" fill-opacity="0.6"/>
<circle cx="532.26" cy="96.82" r="0.90" fill="#2a20ff" fill-opacity="0.6"/>
<circle cx="532.14" cy="112.19" r="1.10" fill="#2a20ff" fill-opacity="0.6"/>
<circle cx="523.95" cy="105.21" r="1.10" fill="#2a20ff" fill-opacity="0.6"/>
<circle cx="526.07" cy="96.15" r="1.10" fill="#2a20ff" fill-opacity="0.6"/>
<circle cx="530.30" cy="114.88" r="0.90" fill="#2a20ff" fill-opacity="0.6"/>
<circle cx="531.14" cy="101.84" r="0.90" fill="#2a20ff" fill-opacity="0.6"/>
<circle cx="532.24" cy="102.12" r="0.90" fill="#2a20ff" fill-opacity="0.6"/>
<circle cx="530.80" cy="101.79" r="0.90" fill="#2a20ff" fill-opacity="0.6"/>
<circle cx="576.51" cy="93.22" r="1.30" fill="#ff2a2a" fill-opacity="0.6"/>
<circle cx="585.75" cy="94.19" r="1.30" fill="#ff2a2a" fill-opacity="0.6"/>
<circle cx="572.49" cy="96.34" r="1.10" fill="#ff2a2a" fill-opacity="0.6"/>
<circle cx="587.43" cy="92.35" r="1.10" fill="#ff2a2a" fill-opacity="0.6"/>
<circle cx="578.64" cy="95.00" r="1.10" fill="#ff2a2a" fill-opacity="0.6"/>
<circle cx="573.78" cy="95.47" r="1.10" fill="#ff2a2a" fill-opacity="0.6"/>
<circle cx="577.70" cy="94.65" r="1.10" fill="#ff2a2a" fill-opacity="0.6"/>
<circle cx="584.03" cy="94.99" r="1.30" fill="#ff2a2a" fill-opacity="0.6"/>
<circle cx="587.10" cy="90.94" r="0.90" fill="#ff2a2a" fill-opacity="0.6"/>
<circle cx="585.83" cy="97.88" r="1.10" fill="#ff2a2a" fill-opacity="0.6"/>
<circle cx="575.21" cy="84.45" r="0.90" fill="#ff2a2a" fill-opacity="0.6"/>
<circle cx="581.08" cy="95.30" r="1.10" fill="#ff2a2a" fill-opacity="0.6"/>
<circle cx="588.07" cy="96.37" r="1.10" fill="#ff2a2a" fill-opacity="0.6"/>
<circle cx="584.57" cy="91.65" r="1.10" fill="#ff2a2a" fill-opacity="0.6"/>
<circle cx="591.95" cy="89.82" r="0.90" fill="#ff2a2a" fill-opacity="0.6"/>
<circle cx="581.87" cy="82.50" r="1.10" fill="#ff2a2a" fill-opacity="0.6"/>
<circle cx="586.13" cy="92.44" r="1.30" fill="#ff2a2a" fill-opacity="0.6"/>
<circle cx="573.06" cy="93.22" r="0.90" fill="#ff2a2a" fill-opacity="0.6"/>
<circle cx="573.32" cy="90.95" r="1.30" fill="#ff2a2a" fill-opacity="0.6"/>
<circle cx="575.34" cy="86.24" r="1.10" fill="#ff2a2a" fill-opacity="0.6"/>
<circle cx="579.01" cy="92.62" r="0.90" fill="#ff2a2a" fill-opacity="0.6"/>
<circle cx="572.08" cy="96.72" r="1.10" fill="#ff2a2a" fill-opacity="0.6"/>
<circle cx="575.33" cy="89.47" r="1.10" fill="#ff2a2a" fill-opacity="0.6"/>
<circle cx="573.29" cy="93.77" r="1.30" fill="#ff2a2a" fill-opacity="0.6"/>
<circle cx="575.72" cy="90.50" r="0.90" fill="#ff2a2a" fill-opacity="0.6"/>
<circle cx="590.51" cy="91.59" r="0.90" fill="#ff2a2a" fill-opacity="0.6"/>
<circle cx="590.20" cy="90.82" r="1.10" fill="#ff2a2a" fill-opacity="0.6"/>
<circle cx="586.36" cy="94.45" r="0.90" fill="#ff2a2a" fill-opacity="0.6"/>
<circle cx="577.90" cy="94.49" r="1.10" fill="#ff2a2a" fill-opacity="0.6"/>
<circle cx="588.89" cy="92.39" r="0.90" fill="#ff2a2a" fill-opacity="0.6"/>
<circle cx="589.47" cy="91.93" r="1.30" fill="#ff2a2a" fill-opacity="0.6"/>
<circle cx="579.80" cy="83.90" r="1.30" fill="#ff2a2a" fill-opacity="0.6"/>
<circle cx="589.62" cy="86.09" r="0.90" fill="#ff2a2a" fill-opacity="0.6"/>
<circle cx="570.69" cy="94.91" r="1.10" fill="#ff2a2a" fill-opacity="0.6"/>
<circle cx="585.90" cy="94.64" r="0.90" fill="#ff2a2a" fill-opacity="0.6"/>
<circle cx="584.01" cy="91.96" r="0.90" fill="#ff2a2a" fill-opacity="0.6"/>
<circle cx="576.36" cy="97.84" r="1.10" fill="#ff2a2a" fill-opacity="0.6"/>
<circle cx="586.93" cy="87.18" r="1.30" fill="#ff2a2a" fill-opacity="0.6"/>
<circle cx="583.36" cy="94.81" r="1.10" fill="#ff2a2a" fill-opacity="0.6"/>
<circle cx="585.73" cy="93.94" r="1.10" fill="#ff2a2a" fill-opacity="0.6"/>
<circle cx="584.10" cy="95.48" r="1.30" fill="#ff2a2a" fill-opacity="0.6"/>
<circle cx="568.69" cy="97.16" r="1.30" fill="#ff2a2a" fill-opacity="0.6"/>
<circle cx="588.84" cy="90.10" r="0.90" fill="#ff2a2a" fill-opacity="0.6"/>
<circle cx="576.48" cy="92.13" r="1.10" fill="#ff2a2a" fill-opacity="0.6"/>
<circle cx="582.37" cy="75.52" r="0.90" fill="#ff2a2a" fill-opacity="0.6"/>
<circle cx="583.60" cy="94.34" r="0.90" fill="#ff2a2a" fill-opacity="0.6"/>
<circle cx="587.80" cy="89.39" r="0.90" fill="#ff2a2a" fill-opacity="0.6"/>
<circle cx="585.95" cy="86.51" r="1.10" fill="#ff2a2a" fill-opacity="0.6"/>
<circle cx="588.06" cy="97.16" r="0.90" fill="#ff2a2a" fill-opacity="0.6"/>
<circle cx="587.50" cy="90.96" r="0.90" fill="#ff2a2a" fill-opacity="0.6"/>
<circle cx="591.57" cy="97.69" r="0.90" fill="#ff2a2a" fill-opacity="0.6"/>
<circle cx="571.73" cy="96.35" r="1.10" fill="#ff2a2a" fill-opacity="0.6"/>
<circle cx="576.67" cy="97.83" r="1.10" fill="#ff2a2a" fill-opacity="0.6"/>
<circle cx="571.04" cy="95.46" r="1.30" fill="#ff2a2a" fill-opacity="0.6"/>
<circle cx="589.32" cy="88.94" r="1.30" fill="#ff2a2a" fill-opacity="0.6"/>
<circle cx="588.67" cy="91.38" r="0.90" fill="#ff2a2a" fill-opacity="0.6"/>
<circle cx="575.83" cy="91.57" r="0.90" fill="#ff2a2a" fill-opacity="0.6"/>
<circle cx="574.18" cy="95.86" r="0.90" fill="#ff2a2a" fill-opacity="0.6"/>
<circle cx="576.38" cy="96.50" r="0.90" fill="#ff2a2a" fill-opacity="0.6"/>
<circle cx="576.68" cy="95.33" r="1.10" fill="#ff2a2a" fill-opacity="0.6"/>
<circle cx="586.97" cy="92.13" r="0.90" fill="#ff2a2a" fill-opacity="0.6"/>
<circle cx="590.55" cy="81.68" r="0.90" fill="#ff2a2a" fill-opacity="0.6"/>
<circle cx="591.68" cy="91.17" r="1.10" fill="#ff2a2a" fill-opacity="0.6"/>
<circle cx="572.36" cy="92.39" r="0.90" fill="#ff2a2a" fill-opacity="0.6"/>
<circle cx="574.34" cy="97.71" r="0.90" fill="#ff2a2a" fill-opacity="0.6"/>
<circle cx="587.72" cy="97.32" r="0.90" fill="#ff2a2a" fill-opacity="0.6"/>
<circle cx="584.76" cy="107.24" r="1.10" fill="#ff2a2a" fill-opacity="0.6"/>
<circle cx="591.20" cy="111.42" r="0.90" fill="#ff2a2a" fill-opacity="0.6"/>
<circle cx="585.08" cy="107.02" r="0.90" fill="#ff2a2a" fill-opacity="0.6"/>
<circle cx="587.22" cy="113.17" r="1.10" fill="#ff2a2a" fill-opacity="0.6"/>
<circle cx="590.48" cy="115.86" r="0.90" fill="#ff2a2a" fill-opacity="0.6"/>
<circle cx="586.63" cy="115.40" r="0.90" fill="#ff2a2a" fill-opacity="0.6"/>
<circle cx="586.43" cy="101.49" r="0.90" fill="#ff2a2a" fill-opacity="0.6"/>
<circle cx="583.06" cy="108.21" r="1.10" fill="#ff2a2a" fill-opacity="0.6"/>
<circle cx="585.99" cy="111.92" r="0.90" fill="#ff2a2a" fill-opacity="0.6"/>
<circle cx="586.43" cy="104.76" r="0.90" fill="#ff2a2a" fill-opacity="0.6"/>
<circle cx="587.68" cy="101.31" r="0.90" fill="#ff2a2a" fill-opacity="0.6"/>
<circle cx="588.13" cy="102.31" r="0.90" fill="#ff2a2a" fill-opacity="0.6"/>
<circle cx="583.36" cy="106.64" r="1.10" fill="#ff2a2a" fill-opacity="0.6"/>
<circle cx="584.04" cy="115.16" r="1.10" fill="#ff2a2a" fill-opacity="0.6"/>
<circle cx="585.78" cy="116.25" r="1.10" fill="#ff2a2a" fill-opacity="0.6"/>
<circle cx="587.69" cy="103.61" r="0.90" fill="#ff2a2a" fill-opacity="0.6"/>
<circle cx="599.94" cy="117.24" r="1.10" fill="#ff2a2a" fill-opacity="0.6"/>
<circle cx="583.62" cy="120.68" r="0.90" fill="#ff2a2a" fill-opacity="0.6"/>
<circle cx="583.99" cy="114.83" r="1.10" fill="#ff2a2a" fill-opacity="0.6"/>
<circle cx="591.78" cy="109.73" r="1.10" fill="#ff2a2a" fill-opacity="0.6"/>
<circle cx="589.60" cy="98.00" r="0.90" fill="#ff2a2a" fill-opacity="0.6"/>
<circle cx="582.20" cy="111.45" r="1.10" fill="#ff2a2a" fill-opacity="0.6"/>
<circle cx="583.79" cy="119.89" r="1.10" fill="#ff2a2a" fill-opacity="0.6"/>
<circle cx="585.34" cy="101.41" r="1.10" fill="#ff2a2a" fill-opacity="0.6"/>
<circle cx="583.12" cy="99.36" r="0.90" fill="#ff2a2a" fill-opacity="0.6"/>
<circle cx="585.18" cy="105.67" r="0.90" fill="#ff2a2a" fill-opacity="0.6"/>
<circle cx="587.08" cy="97.32" r="1.10" fill="#ff2a2a" fill-opacity="0.6"/>
<circle cx="592.99" cy="101.25" r="1.10" fill="#ff2a2a" fill-opacity="0.6"/>
<circle cx="582.23" cy="105.44" r="0.90" fill="#ff2a2a" fill-opacity="0.6"/>
<circle cx="588.35" cy="111.74" r="0.90" fill="#ff2a2a" fill-opacity="0.6"/>
<circle cx="582.66" cy="117.79" r="1.10" fill="#ff2a2a" fill-opacity="0.6"/>
<circle cx="583.99" cy="103.21" r="1.10" fill="#ff2a2a" fill-opacity="0.6"/>
<circle cx="587.48" cy="120.81" r="0.90" fill="#ff2a2a" fill-opacity="0.6"/>
<circle cx="587.47" cy="119.99" r="1.10" fill="#ff2a2a" fill-opacity="0.6"/>
<circle cx="592.80" cy="103.60" r="0.90" fill="#ff2a2a" fill-opacity="0.6"/>
<circle cx="590.40" cy="109.83" r="0.90" fill="#ff2a2a" fill-opacity="0.6"/>
<circle cx="583.68" cy="116.71" r="1.10" fill="#ff2a2a" fill-opacity="0.6"/>
<circle cx="584.79" cy="120.71" r="1.10" fill="#ff2a2a" fill-opacity="0.6"/>
<circle cx="587.08" cy="104.43" r="0.90" fill="#ff2a2a" fill-opacity="0.6"/>
<circle cx="583.71" cy="99.41" r="1.10" fill="#ff2a2a" fill-opacity="0.6"/>
<circle cx="518.25" cy="116.82" r="1.30" fill="#2a20ff" fill-opacity="0.75"/>
<circle cx="521.25" cy="105.11" r="1.30" fill="#2a20ff" fill-opacity="0.75"/>
<circle cx="525.45" cy="104.28" r="1.30" fill="#2a20ff" fill-opacity="0.75"/>
<circle cx="530.25" cy="102.60" r="1.30" fill="#2a20ff" fill-opacity="0.75"/>
<circle cx="527.25" cy="85.05" r="1.30" fill="#2a20ff" fill-opacity="0.75"/>
<circle cx="544.65" cy="83.79" r="1.30" fill="#2a20ff" fill-opacity="0.75"/>
<circle cx="552.45" cy="81.70" r="1.30" fill="#2a20ff" fill-opacity="0.75"/>
<circle cx="539.25" cy="85.88" r="1.30" fill="#2a20ff" fill-opacity="0.75"/>
<circle cx="534.45" cy="93.41" r="1.30" fill="#2a20ff" fill-opacity="0.75"/>
<circle cx="584.25" cy="71.67" r="1.30" fill="#ff2a2a" fill-opacity="0.75"/>
<circle cx="586.05" cy="75.85" r="1.30" fill="#ff2a2a" fill-opacity="0.75"/>
<circle cx="587.25" cy="78.36" r="1.30" fill="#ff2a2a" fill-opacity="0.75"/>
<circle cx="582.45" cy="80.87" r="1.30" fill="#ff2a2a" fill-opacity="0.75"/>
<circle cx="595.65" cy="90.06" r="1.30" fill="#ff2a2a" fill-opacity="0.75"/>
<circle cx="593.25" cy="103.44" r="1.30" fill="#ff2a2a" fill-opacity="0.75"/>
<circle cx="597.45" cy="105.95" r="1.30" fill="#ff2a2a" fill-opacity="0.75"/>
<circle cx="591.45" cy="112.64" r="1.30" fill="#ff2a2a" fill-opacity="0.75"/>
<circle cx="595.65" cy="116.82" r="1.30" fill="#ff2a2a" fill-opacity="0.75"/>
<line x1="564.45" y1="28.00" x2="564.45" y2="137.00" stroke="#555" stroke-width="0.7" stroke-dasharray="2,1,0.6,1"/>
<line x1="499.40" y1="121.30" x2="629.50" y2="121.30" stroke="#555" stroke-width="0.7" stroke-dasharray="2.2,1,0.6,1"/>
<rect x="499.40" y="27.50" width="130.10" height="109.50" fill="none" stroke="#333" stroke-width="1"/>
<text x="496.60" y="135.43" font-size="7.3" text-anchor="end" fill="#222" stroke="#222" stroke-width="0.21">0.0</text>
<text x="496.60" y="114.53" font-size="7.3" text-anchor="end" fill="#222" stroke="#222" stroke-width="0.21">2.5</text>
<text x="496.60" y="93.63" font-size="7.3" text-anchor="end" fill="#222" stroke="#222" stroke-width="0.21">5.0</text>
<text x="496.60" y="72.73" font-size="7.3" text-anchor="end" fill="#222" stroke="#222" stroke-width="0.21">7.5</text>
<text x="496.60" y="51.83" font-size="7.3" text-anchor="end" fill="#222" stroke="#222" stroke-width="0.21">10.0</text>
<text x="496.60" y="30.93" font-size="7.3" text-anchor="end" fill="#222" stroke="#222" stroke-width="0.21">12.5</text>
<line x1="504.45" y1="137.00" x2="504.45" y2="139.00" stroke="#333" stroke-width="0.7"/>
<text x="503.25" y="146.93" font-size="7.3" text-anchor="middle" fill="#222" stroke="#222" stroke-width="0.21">-1.0</text>
<line x1="534.45" y1="137.00" x2="534.45" y2="139.00" stroke="#333" stroke-width="0.7"/>
<text x="533.25" y="146.93" font-size="7.3" text-anchor="middle" fill="#222" stroke="#222" stroke-width="0.21">-0.5</text>
<line x1="564.45" y1="137.00" x2="564.45" y2="139.00" stroke="#333" stroke-width="0.7"/>
<text x="564.45" y="146.93" font-size="7.3" text-anchor="middle" fill="#222" stroke="#222" stroke-width="0.21">0.0</text>
<line x1="594.45" y1="137.00" x2="594.45" y2="139.00" stroke="#333" stroke-width="0.7"/>
<text x="594.45" y="146.93" font-size="7.3" text-anchor="middle" fill="#222" stroke="#222" stroke-width="0.21">0.5</text>
<line x1="624.45" y1="137.00" x2="624.45" y2="139.00" stroke="#333" stroke-width="0.7"/>
<text x="624.45" y="146.93" font-size="7.3" text-anchor="middle" fill="#222" stroke="#222" stroke-width="0.21">1.0</text>
<text x="515.90" y="24.50" font-size="7.45" text-anchor="start" fill="#000" stroke="#000" stroke-width="0.23">ROSMAP: Female AD vs. ND</text>
<text x="563.85" y="157.14" font-size="7.6" text-anchor="middle" fill="#000" stroke="#000" stroke-width="0.24">Log2(Fold change)</text>
<text x="0" y="0" font-size="7.55" stroke="#000" stroke-width="0.22" text-anchor="middle" transform="translate(474.40,85.40) rotate(-90)" dy="2.7">-Log10(adjusted p-value)</text>
<text x="636.00" y="53.54" font-size="5.4" text-anchor="start" fill="#000">-Log10(adj.p)</text>
<circle cx="640.90" cy="62.50" r="0.45" fill="#7a7a7a"/>
<text x="644.00" y="64.52" font-size="5.6" text-anchor="start" fill="#333">0</text>
<circle cx="640.90" cy="68.05" r="1.00" fill="#7a7a7a"/>
<text x="644.00" y="70.07" font-size="5.6" text-anchor="start" fill="#333">2</text>
<circle cx="640.90" cy="73.60" r="1.35" fill="#7a7a7a"/>
<text x="644.00" y="75.62" font-size="5.6" text-anchor="start" fill="#333">4</text>
<circle cx="640.90" cy="79.15" r="1.70" fill="#7a7a7a"/>
<text x="644.00" y="81.17" font-size="5.6" text-anchor="start" fill="#333">6</text>
<circle cx="640.90" cy="95.00" r="0.60" fill="#3030ff"/>
<text x="644.00" y="97.02" font-size="5.6" text-anchor="start" fill="#000">Down</text>
<circle cx="640.90" cy="100.60" r="0.60" fill="#c8c8c8"/>
<text x="644.00" y="102.62" font-size="5.6" text-anchor="start" fill="#000">NoSig</text>
<circle cx="640.90" cy="106.20" r="0.60" fill="#ff3030"/>
<text x="644.00" y="108.22" font-size="5.6" text-anchor="start" fill="#000">Up</text>
<text x="1.50" y="188.80" font-size="18" text-anchor="start" fill="#000" stroke="#000" stroke-width="0.30">c</text>
<line x1="41.80" y1="225.60" x2="41.80" y2="350.10" stroke="#888" stroke-width="0.6" stroke-dasharray="0.8,0.8"/>
<line x1="33.30" y1="316.40" x2="224.30" y2="316.40" stroke="#888" stroke-width="0.6" stroke-dasharray="0.8,0.8"/>
<rect x="33.30" y="224.60" width="191.00" height="125.50" fill="none" stroke="#333" stroke-width="1"/>
<text x="27.40" y="348.10" font-size="7.5" text-anchor="middle" fill="#222" stroke="#222" stroke-width="0.23">0</text>
<text x="27.40" y="304.10" font-size="7.5" text-anchor="middle" fill="#222" stroke="#222" stroke-width="0.23">2</text>
<text x="27.40" y="260.10" font-size="7.5" text-anchor="middle" fill="#222" stroke="#222" stroke-width="0.23">4</text>
<text x="41.80" y="360.50" font-size="7.5" text-anchor="middle" fill="#222" stroke="#222" stroke-width="0.23">0</text>
<text x="91.10" y="360.50" font-size="7.5" text-anchor="middle" fill="#222" stroke="#222" stroke-width="0.23">1</text>
<text x="140.40" y="360.50" font-size="7.5" text-anchor="middle" fill="#222" stroke="#222" stroke-width="0.23">2</text>
<text x="189.70" y="360.50" font-size="7.5" text-anchor="middle" fill="#222" stroke="#222" stroke-width="0.23">3</text>
<text x="75.80" y="215.20" font-size="7.45" text-anchor="start" fill="#000" stroke="#000" stroke-width="0.23">Female AD vs ND (Up DEGs)</text>
<text x="123.80" y="369.24" font-size="7.6" text-anchor="middle" fill="#000" stroke="#000" stroke-width="0.24">Odds ratio</text>
<text x="0" y="0" font-size="7.55" stroke="#000" stroke-width="0.22" text-anchor="middle" transform="translate(13.9,293.00) rotate(-90)" dy="2.6">-Log10(adjusted p-value)</text>
<line x1="75.80" y1="216.60" x2="172.60" y2="216.60" stroke="#222" stroke-width="0.6"/>
<circle cx="195.70" cy="230.00" r="1.30" fill="#f01818"/>
<circle cx="168.50" cy="273.50" r="1.30" fill="#f01818"/>
<circle cx="158.40" cy="284.60" r="1.30" fill="#f01818"/>
<circle cx="153.90" cy="290.00" r="1.30" fill="#f01818"/>
<circle cx="133.70" cy="312.80" r="1.30" fill="#f01818"/>
<circle cx="138.70" cy="311.10" r="1.30" fill="#f01818"/>
<circle cx="156.80" cy="313.10" r="1.30" fill="#f01818"/>
<circle cx="160.50" cy="313.10" r="1.30" fill="#f01818"/>
<circle cx="215.80" cy="311.10" r="1.30" fill="#f01818"/>
<circle cx="49.30" cy="344.30" r="1.15" fill="#bdbdbd"/>
<circle cx="53.00" cy="344.30" r="1.15" fill="#bdbdbd"/>
<circle cx="56.00" cy="344.30" r="1.15" fill="#bdbdbd"/>
<circle cx="62.00" cy="344.30" r="1.15" fill="#bdbdbd"/>
<circle cx="65.00" cy="344.30" r="1.15" fill="#bdbdbd"/>
<circle cx="71.00" cy="344.30" r="1.15" fill="#bdbdbd"/>
<circle cx="76.00" cy="344.30" r="1.15" fill="#bdbdbd"/>
<circle cx="80.00" cy="344.00" r="1.15" fill="#bdbdbd"/>
<circle cx="82.00" cy="344.00" r="1.15" fill="#bdbdbd"/>
<circle cx="84.00" cy="343.80" r="1.15" fill="#bdbdbd"/>
<circle cx="86.00" cy="343.60" r="1.15" fill="#bdbdbd"/>
<circle cx="88.00" cy="343.40" r="1.15" fill="#bdbdbd"/>
<circle cx="90.00" cy="343.20" r="1.15" fill="#bdbdbd"/>
<circle cx="92.00" cy="343.00" r="1.15" fill="#bdbdbd"/>
<circle cx="94.70" cy="342.50" r="1.15" fill="#bdbdbd"/>
<circle cx="97.00" cy="342.30" r="1.15" fill="#bdbdbd"/>
<circle cx="99.00" cy="341.80" r="1.15" fill="#bdbdbd"/>
<circle cx="101.00" cy="340.90" r="1.15" fill="#bdbdbd"/>
<circle cx="102.20" cy="338.90" r="1.15" fill="#bdbdbd"/>
<circle cx="105.90" cy="335.90" r="1.15" fill="#bdbdbd"/>
<circle cx="108.40" cy="340.90" r="1.15" fill="#bdbdbd"/>
<circle cx="110.90" cy="333.40" r="1.15" fill="#bdbdbd"/>
<circle cx="115.10" cy="329.20" r="1.15" fill="#bdbdbd"/>
<circle cx="129.50" cy="316.00" r="1.15" fill="#bdbdbd"/>
<circle cx="134.00" cy="335.90" r="1.15" fill="#bdbdbd"/>
<circle cx="147.30" cy="333.90" r="1.15" fill="#bdbdbd"/>
<text x="42.80" y="304.22" font-size="7.55" text-anchor="start" fill="#222" stroke="#222" stroke-width="0.23" font-style="italic">TNF-alpha signaling via NF-κB</text>
<text x="48.70" y="313.82" font-size="7.55" text-anchor="start" fill="#222" stroke="#222" stroke-width="0.23" font-style="italic">Estrogen response early</text>
<text x="68.20" y="327.12" font-size="7.55" text-anchor="start" fill="#222" stroke="#222" stroke-width="0.23" font-style="italic">Interferon alpha response</text>
<text x="189.70" y="232.72" font-size="7.55" text-anchor="end" fill="#222" stroke="#222" stroke-width="0.23" font-style="italic">Hypoxia</text>
<text x="173.90" y="275.92" font-size="7.55" text-anchor="start" fill="#222" stroke="#222" stroke-width="0.23" font-style="italic">Myogenesis</text>
<text x="163.60" y="287.32" font-size="7.55" text-anchor="start" fill="#222" stroke="#222" stroke-width="0.23" font-style="italic">p53 pathway</text>
<text x="158.20" y="295.32" font-size="7.55" text-anchor="start" fill="#222" stroke="#222" stroke-width="0.23" font-style="italic">IL-2/STAT signaling</text>
<text x="160.50" y="323.02" font-size="7.55" text-anchor="start" fill="#222" stroke="#222" stroke-width="0.23" font-style="italic">IL-6/JAK/STAT3</text>
<text x="160.50" y="331.72" font-size="7.55" text-anchor="start" fill="#222" stroke="#222" stroke-width="0.23" font-style="italic">signaling</text>
<line x1="41.60" y1="403.40" x2="41.60" y2="528.20" stroke="#888" stroke-width="0.6" stroke-dasharray="0.8,0.8"/>
<line x1="33.30" y1="503.60" x2="224.30" y2="503.60" stroke="#888" stroke-width="0.6" stroke-dasharray="0.8,0.8"/>
<rect x="33.30" y="402.40" width="191.00" height="125.80" fill="none" stroke="#333" stroke-width="1"/>
<text x="41.60" y="537.70" font-size="7.5" text-anchor="middle" fill="#222" stroke="#222" stroke-width="0.23">0</text>
<text x="109.00" y="537.70" font-size="7.5" text-anchor="middle" fill="#222" stroke="#222" stroke-width="0.23">1</text>
<text x="176.40" y="537.70" font-size="7.5" text-anchor="middle" fill="#222" stroke="#222" stroke-width="0.23">2</text>
<text x="71.80" y="394.00" font-size="7.45" text-anchor="start" fill="#000" stroke="#000" stroke-width="0.23">Female AD vs ND (Down DEGs)</text>
<text x="123.80" y="546.34" font-size="7.6" text-anchor="middle" fill="#000" stroke="#000" stroke-width="0.24">Odds ratio</text>
<text x="0" y="0" font-size="7.55" stroke="#000" stroke-width="0.22" text-anchor="middle" transform="translate(13.9,471.00) rotate(-90)" dy="2.6">-Log10(p-value)</text>
<line x1="71.80" y1="395.50" x2="178.20" y2="395.50" stroke="#222" stroke-width="0.6"/>
<circle cx="215.20" cy="408.30" r="1.30" fill="#f01818"/>
<circle cx="170.10" cy="475.90" r="1.30" fill="#f01818"/>
<circle cx="200.70" cy="479.10" r="1.30" fill="#f01818"/>
<circle cx="49.30" cy="522.50" r="1.15" fill="#bdbdbd"/>
<circle cx="52.00" cy="522.50" r="1.15" fill="#bdbdbd"/>
<circle cx="58.00" cy="522.50" r="1.15" fill="#bdbdbd"/>
<circle cx="61.00" cy="522.50" r="1.15" fill="#bdbdbd"/>
<circle cx="65.00" cy="522.50" r="1.15" fill="#bdbdbd"/>
<circle cx="70.00" cy="522.50" r="1.15" fill="#bdbdbd"/>
<circle cx="72.00" cy="522.50" r="1.15" fill="#bdbdbd"/>
<circle cx="74.00" cy="522.50" r="1.15" fill="#bdbdbd"/>
<circle cx="76.00" cy="522.50" r="1.15" fill="#bdbdbd"/>
<circle cx="79.00" cy="522.50" r="1.15" fill="#bdbdbd"/>
<circle cx="82.00" cy="522.50" r="1.15" fill="#bdbdbd"/>
<circle cx="84.00" cy="522.50" r="1.15" fill="#bdbdbd"/>
<circle cx="86.00" cy="522.50" r="1.15" fill="#bdbdbd"/>
<circle cx="89.00" cy="522.50" r="1.15" fill="#bdbdbd"/>
<circle cx="92.00" cy="522.50" r="1.15" fill="#bdbdbd"/>
<circle cx="94.00" cy="522.50" r="1.15" fill="#bdbdbd"/>
<circle cx="97.00" cy="522.50" r="1.15" fill="#bdbdbd"/>
<circle cx="100.00" cy="522.50" r="1.15" fill="#bdbdbd"/>
<circle cx="104.00" cy="522.50" r="1.15" fill="#bdbdbd"/>
<circle cx="107.00" cy="522.50" r="1.15" fill="#bdbdbd"/>
<circle cx="112.00" cy="522.50" r="1.15" fill="#bdbdbd"/>
<circle cx="126.40" cy="521.60" r="1.15" fill="#bdbdbd"/>
<circle cx="133.10" cy="522.50" r="1.15" fill="#bdbdbd"/>
<circle cx="138.60" cy="521.60" r="1.15" fill="#bdbdbd"/>
<circle cx="134.70" cy="515.80" r="1.15" fill="#bdbdbd"/>
<circle cx="143.40" cy="507.10" r="1.15" fill="#bdbdbd"/>
<circle cx="150.50" cy="508.70" r="1.15" fill="#bdbdbd"/>
<circle cx="178.80" cy="507.10" r="1.15" fill="#bdbdbd"/>
<circle cx="195.90" cy="508.70" r="1.15" fill="#bdbdbd"/>
<text x="210.20" y="412.32" font-size="7.55" text-anchor="end" fill="#222" stroke="#222" stroke-width="0.23" font-style="italic">Oxidative phosphorylation</text>
<text x="166.20" y="479.22" font-size="7.55" text-anchor="end" fill="#222" stroke="#222" stroke-width="0.23" font-style="italic">Myc targets V1</text>
<text x="184.30" y="465.72" font-size="7.55" text-anchor="start" fill="#222" stroke="#222" stroke-width="0.23" font-style="italic">Protein</text>
<text x="184.30" y="474.72" font-size="7.55" text-anchor="start" fill="#222" stroke="#222" stroke-width="0.23" font-style="italic">secretion</text>
<text x="242.50" y="184.60" font-size="18" text-anchor="start" fill="#000" stroke="#000" stroke-width="0.30">d</text>
<text x="267.90" y="183.50" font-size="7.45" text-anchor="start" fill="#000" stroke="#000" stroke-width="0.23" font-weight="bold">OXPHOS genes common regulators</text>
<text x="258.00" y="197.60" font-size="7.35" text-anchor="start" fill="#222" stroke="#222" stroke-width="0.21">No.</text>
<text x="275.90" y="197.60" font-size="7.35" text-anchor="start" fill="#222" stroke="#222" stroke-width="0.21">Gene Set Name</text>
<text x="397.80" y="197.60" font-size="7.35" text-anchor="end" fill="#222" stroke="#222" stroke-width="0.21">FDR</text>
<line x1="257.80" y1="199.30" x2="269.50" y2="199.30" stroke="#444" stroke-width="0.6"/>
<line x1="275.80" y1="199.30" x2="328.60" y2="199.30" stroke="#444" stroke-width="0.6"/>
<line x1="383.00" y1="199.30" x2="398.00" y2="199.30" stroke="#444" stroke-width="0.6"/>
<text x="266.50" y="206.40" font-size="7.35" text-anchor="end" fill="#222" stroke="#222" stroke-width="0.21">1.</text>
<text x="276.10" y="206.40" font-size="7.35" text-anchor="start" fill="#ee2424" stroke="#ee2424" stroke-width="0.21">TGACCTY_ERR1_Q2</text>
<text x="404.90" y="206.40" font-size="7.35" text-anchor="end" fill="#ee2424" stroke="#ee2424" stroke-width="0.21">9.92E-22</text>
<text x="266.50" y="215.20" font-size="7.35" text-anchor="end" fill="#222" stroke="#222" stroke-width="0.21">2.</text>
<text x="276.10" y="215.20" font-size="7.35" text-anchor="start" fill="#222" stroke="#222" stroke-width="0.21">TGACCTTG_SF1_Q6</text>
<text x="404.90" y="215.20" font-size="7.35" text-anchor="end" fill="#222" stroke="#222" stroke-width="0.21">2.42E-11</text>
<text x="266.50" y="224.00" font-size="7.35" text-anchor="end" fill="#222" stroke="#222" stroke-width="0.21">3.</text>
<text x="276.10" y="224.00" font-size="7.35" text-anchor="start" fill="#222" stroke="#222" stroke-width="0.21">SF1_Q6</text>
<text x="404.90" y="224.00" font-size="7.35" text-anchor="end" fill="#222" stroke="#222" stroke-width="0.21">6.45E-10</text>
<text x="266.50" y="232.80" font-size="7.35" text-anchor="end" fill="#222" stroke="#222" stroke-width="0.21">4.</text>
<text x="276.10" y="232.80" font-size="7.35" text-anchor="start" fill="#ee2424" stroke="#ee2424" stroke-width="0.21">ERR1_Q2</text>
<text x="404.90" y="232.80" font-size="7.35" text-anchor="end" fill="#ee2424" stroke="#ee2424" stroke-width="0.21">6.45E-10</text>
<text x="266.50" y="241.60" font-size="7.35" text-anchor="end" fill="#222" stroke="#222" stroke-width="0.21">5.</text>
<text x="276.10" y="241.60" font-size="7.35" text-anchor="start" fill="#222" stroke="#222" stroke-width="0.21">ER_Q6_02</text>
<text x="404.90" y="241.60" font-size="7.35" text-anchor="end" fill="#222" stroke="#222" stroke-width="0.21">2.27E-07</text>
<text x="266.50" y="250.40" font-size="7.35" text-anchor="end" fill="#222" stroke="#222" stroke-width="0.21">6.</text>
<text x="276.10" y="250.40" font-size="7.35" text-anchor="start" fill="#222" stroke="#222" stroke-width="0.21">TMTCGCGANR_UNKNOWN</text>
<text x="404.90" y="250.40" font-size="7.35" text-anchor="end" fill="#222" stroke="#222" stroke-width="0.21">8.59E-05</text>
<text x="266.50" y="259.20" font-size="7.35" text-anchor="end" fill="#222" stroke="#222" stroke-width="0.21">7.</text>
<text x="276.10" y="259.20" font-size="7.35" text-anchor="start" fill="#222" stroke="#222" stroke-width="0.21">ER_Q6_01</text>
<text x="404.90" y="259.20" font-size="7.35" text-anchor="end" fill="#222" stroke="#222" stroke-width="0.21">1.48E-03</text>
<text x="266.50" y="268.00" font-size="7.35" text-anchor="end" fill="#222" stroke="#222" stroke-width="0.21">8.</text>
<text x="276.10" y="268.00" font-size="7.35" text-anchor="start" fill="#222" stroke="#222" stroke-width="0.21">SCGGAAGY_ELK1_02</text>
<text x="404.90" y="268.00" font-size="7.35" text-anchor="end" fill="#222" stroke="#222" stroke-width="0.21">1.88E-03</text>
<text x="266.50" y="276.80" font-size="7.35" text-anchor="end" fill="#222" stroke="#222" stroke-width="0.21">9.</text>
<text x="276.10" y="276.80" font-size="7.35" text-anchor="start" fill="#222" stroke="#222" stroke-width="0.21">ELK1_02</text>
<text x="404.90" y="276.80" font-size="7.35" text-anchor="end" fill="#222" stroke="#222" stroke-width="0.21">9.27E-03</text>
<text x="266.50" y="285.60" font-size="7.35" text-anchor="end" fill="#222" stroke="#222" stroke-width="0.21">10.</text>
<text x="276.10" y="285.60" font-size="7.35" text-anchor="start" fill="#222" stroke="#222" stroke-width="0.21">NRF2_01</text>
<text x="404.90" y="285.60" font-size="7.35" text-anchor="end" fill="#222" stroke="#222" stroke-width="0.21">1.13E-02</text>
<text x="242.50" y="305.00" font-size="18" text-anchor="start" fill="#000" stroke="#000" stroke-width="0.30">e</text>
<text x="329.90" y="316.18" font-size="7.45" text-anchor="middle" fill="#000" stroke="#000" stroke-width="0.23">Mathys et al. (2019)</text>
<g stroke-linejoin="round" filter="url(#rag)">
<polygon points="302.8,332.8 305.2,329.3 309.3,327.6 313.4,328.2 316.3,330.5 317.4,334.0 319.8,336.4 320.9,339.9 319.8,343.4 317.4,346.3 313.9,347.4 311.6,349.0 309.9,347.4 306.4,345.1 303.4,341.6 302.3,337.5" fill="#df7bcb"/>
<polygon points="327.1,325.3 329.1,324.1 332.0,324.9 333.4,327.0 333.2,332.8 332.3,338.7 332.0,345.7 331.8,352.7 330.3,356.2 327.4,356.2 325.6,352.7 325.0,345.7 324.8,337.5 325.0,330.5 325.6,327.0" fill="#8b9dd2"/>
<polygon points="330.9,347.4 334.4,343.4 339.1,338.7 342.0,336.4 343.5,337.5 341.4,340.4 336.7,345.1 333.2,349.2 331.1,349.8" fill="#8b9dd2"/>
<polygon points="340.8,328.8 343.7,326.4 348.4,325.3 353.1,325.6 356.6,328.2 355.4,329.9 351.9,331.1 350.7,334.0 349.0,336.4 346.1,335.2 343.1,332.8 341.2,331.1" fill="#8b9dd2"/>
<polygon points="332.0,349.2 336.7,346.3 343.7,343.9 350.7,342.2 356.6,341.0 362.4,341.6 366.5,343.4 367.1,346.3 364.7,349.2 358.9,350.9 353.1,352.7 347.2,354.1 341.4,354.8 334.4,355.0 332.0,353.3" fill="#8b9dd2"/>
<polygon points="328.5,358.5 334.4,359.1 341.4,359.7 348.4,359.7 355.4,359.9 361.2,360.3 364.2,362.0 363.6,365.0 360.1,366.7 353.1,367.3 344.9,366.7 336.7,366.1 330.3,366.1" fill="#8b9dd2"/>
<polygon points="355.2,374.6 359.1,373.3 363.0,372.6 366.3,371.9 366.9,374.6 364.3,376.5 360.4,377.2 356.5,376.5" fill="#8b9dd2"/>
<polygon points="313.4,352.7 320.4,351.5 325.0,350.4 329.7,351.5 332.6,355.0 332.0,359.7 330.9,366.7 328.5,372.6 327.4,380.0 313.4,380.0 311.0,369.1 312.2,359.7" fill="#8b9dd2"/>
<polygon points="292.3,346.3 294.7,345.1 299.3,347.4 305.2,349.8 311.0,351.5 316.9,353.3 320.4,355.0 319.2,359.7 314.5,360.3 308.7,359.1 302.8,357.4 298.2,355.0 294.1,351.5 291.8,348.6" fill="#8b9dd2"/>
<polygon points="289.1,372.1 292.1,368.5 297.6,366.1 302.4,364.9 308.5,363.6 314.6,361.2 317.0,358.8 327.3,358.8 327.9,367.3 327.3,374.6 326.7,384.3 326.1,394.0 325.5,400.1 323.1,403.7 318.2,404.9 312.1,405.5 306.1,405.5 301.2,404.3 298.8,401.3 298.2,395.2 297.8,390.3 296.3,387.9 295.1,384.3 295.7,379.4 293.3,377.0 290.3,375.8 289.1,374.0" fill="#8b9dd2"/>
<polygon points="283.4,347.4 284.9,346.8 289.0,354.7 287.6,355.8" fill="#8b9dd2"/>
<polygon points="331.7,369.3 336.9,367.4 342.2,367.4 347.4,369.3 351.3,373.3 355.2,379.8 359.1,386.3 363.0,392.8 366.9,398.0 368.9,403.2 369.3,408.5 365.6,411.1 359.1,413.0 352.6,412.4 346.1,411.1 340.9,409.8 336.9,407.2 333.0,403.2 331.1,396.7 329.8,388.9 329.4,381.1 330.2,374.6" fill="#e6d63c"/>
<polygon points="309.7,412.2 313.3,410.4 319.4,409.2 325.5,409.5 329.7,411.6 330.9,414.6 329.1,419.5 325.5,423.1 320.6,423.1 315.8,420.7 311.5,418.3 309.7,415.2" fill="#6acd9c"/>
<polygon points="368.2,360.2 370.8,358.3 374.8,357.0 379.3,356.6 381.3,358.9 381.5,362.8 380.0,366.1 376.1,367.4 371.5,367.0 368.9,364.8" fill="#9be250"/>
<polygon points="370.6,352.2 372.0,351.0 372.9,354.7 371.6,355.1" fill="#9be250"/>
<polygon points="368.2,381.1 370.2,377.8 373.5,375.9 377.4,375.2 379.7,377.2 380.0,380.4 378.7,383.7 376.7,387.6 374.8,392.2 373.7,394.8 372.2,391.5 370.2,387.6 368.5,384.3" fill="#d4b27e"/>
<polygon points="272.1,383.1 274.5,379.4 278.1,377.0 283.0,376.4 286.6,378.2 290.3,381.2 291.5,385.5 290.9,390.3 292.1,395.2 294.5,400.1 295.7,404.9 294.5,409.2 292.1,410.4 289.1,408.6 286.0,404.9 284.2,400.1 283.6,395.2 283.0,391.6 279.4,389.1 275.7,388.9 272.7,387.9 271.8,385.5" fill="#df7bcb"/>
<polygon points="275.5,365.5 276.3,364.9 284.5,370.9 283.7,371.8" fill="#df7bcb"/>
<polygon points="287.6,364.6 296.1,359.5 296.6,360.5 288.3,365.6" fill="#df7bcb"/>
<polygon points="337.9,356.2 348.4,356.7 348.4,357.6 337.9,357.1" fill="#df7bcb"/>
<polygon points="280.5,358.1 283.8,358.3 283.4,359.7 281.3,359.7" fill="#a8a8a8"/>
</g>
<circle cx="278.59" cy="357.85" r="0.60" fill="#f08050"/>
<circle cx="283.19" cy="363.49" r="0.60" fill="#f08050"/>
<circle cx="312.42" cy="392.45" r="0.50" fill="#fff" fill-opacity="0.8"/>
<circle cx="323.93" cy="392.38" r="0.50" fill="#fff" fill-opacity="0.8"/>
<circle cx="291.04" cy="382.23" r="0.30" fill="#fff" fill-opacity="0.8"/>
<circle cx="313.36" cy="398.33" r="0.30" fill="#fff" fill-opacity="0.8"/>
<circle cx="303.38" cy="397.13" r="0.40" fill="#fff" fill-opacity="0.8"/>
<circle cx="309.58" cy="386.24" r="0.30" fill="#fff" fill-opacity="0.8"/>
<circle cx="316.32" cy="380.10" r="0.30" fill="#fff" fill-opacity="0.8"/>
<circle cx="322.99" cy="393.33" r="0.30" fill="#fff" fill-opacity="0.8"/>
<circle cx="317.43" cy="367.66" r="0.50" fill="#fff" fill-opacity="0.8"/>
<circle cx="312.23" cy="369.69" r="0.30" fill="#fff" fill-opacity="0.8"/>
<circle cx="325.00" cy="365.20" r="0.30" fill="#fff" fill-opacity="0.8"/>
<circle cx="324.56" cy="371.14" r="0.30" fill="#fff" fill-opacity="0.8"/>
<circle cx="300.41" cy="400.57" r="0.50" fill="#fff" fill-opacity="0.8"/>
<circle cx="321.54" cy="388.15" r="0.30" fill="#fff" fill-opacity="0.8"/>
<circle cx="323.88" cy="390.55" r="0.40" fill="#fff" fill-opacity="0.8"/>
<circle cx="300.76" cy="378.36" r="0.30" fill="#fff" fill-opacity="0.8"/>
<circle cx="323.69" cy="374.76" r="0.40" fill="#fff" fill-opacity="0.8"/>
<circle cx="300.85" cy="387.32" r="0.30" fill="#fff" fill-opacity="0.8"/>
<circle cx="311.46" cy="391.18" r="0.30" fill="#fff" fill-opacity="0.8"/>
<circle cx="301.16" cy="395.29" r="0.40" fill="#fff" fill-opacity="0.8"/>
<circle cx="315.07" cy="371.84" r="0.40" fill="#fff" fill-opacity="0.8"/>
<circle cx="315.37" cy="367.11" r="0.30" fill="#fff" fill-opacity="0.8"/>
<circle cx="324.17" cy="378.23" r="0.40" fill="#fff" fill-opacity="0.8"/>
<circle cx="290.65" cy="394.15" r="0.40" fill="#fff" fill-opacity="0.8"/>
<circle cx="303.55" cy="396.13" r="0.40" fill="#fff" fill-opacity="0.8"/>
<circle cx="291.68" cy="371.69" r="0.30" fill="#fff" fill-opacity="0.8"/>
<circle cx="294.28" cy="374.11" r="0.40" fill="#fff" fill-opacity="0.8"/>
<circle cx="302.40" cy="378.13" r="0.50" fill="#fff" fill-opacity="0.8"/>
<circle cx="299.03" cy="382.13" r="0.50" fill="#fff" fill-opacity="0.8"/>
<circle cx="316.94" cy="394.50" r="0.40" fill="#fff" fill-opacity="0.8"/>
<circle cx="291.32" cy="399.99" r="0.30" fill="#fff" fill-opacity="0.8"/>
<circle cx="297.51" cy="383.98" r="0.40" fill="#fff" fill-opacity="0.8"/>
<circle cx="323.05" cy="377.58" r="0.50" fill="#fff" fill-opacity="0.8"/>
<circle cx="309.63" cy="376.56" r="0.40" fill="#fff" fill-opacity="0.8"/>
<circle cx="301.02" cy="394.55" r="0.50" fill="#fff" fill-opacity="0.8"/>
<circle cx="295.36" cy="390.50" r="0.40" fill="#fff" fill-opacity="0.8"/>
<circle cx="295.82" cy="366.80" r="0.50" fill="#fff" fill-opacity="0.8"/>
<circle cx="309.21" cy="380.02" r="0.30" fill="#fff" fill-opacity="0.8"/>
<circle cx="316.66" cy="377.72" r="0.40" fill="#fff" fill-opacity="0.8"/>
<circle cx="306.40" cy="380.61" r="0.30" fill="#fff" fill-opacity="0.8"/>
<circle cx="325.25" cy="388.62" r="0.40" fill="#fff" fill-opacity="0.8"/>
<circle cx="302.03" cy="372.66" r="0.50" fill="#fff" fill-opacity="0.8"/>
<circle cx="310.31" cy="369.91" r="0.40" fill="#fff" fill-opacity="0.8"/>
<circle cx="293.84" cy="381.08" r="0.30" fill="#fff" fill-opacity="0.8"/>
<circle cx="292.12" cy="380.56" r="0.30" fill="#fff" fill-opacity="0.8"/>
<circle cx="306.31" cy="401.97" r="0.30" fill="#fff" fill-opacity="0.8"/>
<circle cx="325.14" cy="381.78" r="0.40" fill="#fff" fill-opacity="0.8"/>
<circle cx="314.80" cy="376.75" r="0.40" fill="#fff" fill-opacity="0.8"/>
<circle cx="300.48" cy="379.94" r="0.30" fill="#fff" fill-opacity="0.8"/>
<circle cx="294.05" cy="395.42" r="0.50" fill="#fff" fill-opacity="0.8"/>
<circle cx="324.55" cy="388.20" r="0.40" fill="#fff" fill-opacity="0.8"/>
<circle cx="321.24" cy="371.66" r="0.40" fill="#fff" fill-opacity="0.8"/>
<circle cx="299.80" cy="393.93" r="0.50" fill="#fff" fill-opacity="0.8"/>
<circle cx="303.01" cy="394.08" r="0.40" fill="#fff" fill-opacity="0.8"/>
<circle cx="315.01" cy="389.57" r="0.40" fill="#fff" fill-opacity="0.8"/>
<circle cx="303.08" cy="391.07" r="0.40" fill="#fff" fill-opacity="0.8"/>
<circle cx="320.07" cy="374.80" r="0.50" fill="#fff" fill-opacity="0.8"/>
<circle cx="315.78" cy="400.40" r="0.40" fill="#fff" fill-opacity="0.8"/>
<circle cx="313.39" cy="386.48" r="0.30" fill="#fff" fill-opacity="0.8"/>
<circle cx="307.07" cy="393.63" r="0.40" fill="#fff" fill-opacity="0.8"/>
<circle cx="314.18" cy="382.13" r="0.50" fill="#fff" fill-opacity="0.8"/>
<circle cx="313.31" cy="394.51" r="0.40" fill="#fff" fill-opacity="0.8"/>
<circle cx="299.86" cy="377.79" r="0.40" fill="#fff" fill-opacity="0.8"/>
<circle cx="302.60" cy="396.19" r="0.50" fill="#fff" fill-opacity="0.8"/>
<circle cx="306.19" cy="378.48" r="0.40" fill="#fff" fill-opacity="0.8"/>
<circle cx="308.65" cy="384.59" r="0.30" fill="#fff" fill-opacity="0.8"/>
<circle cx="297.15" cy="378.40" r="0.40" fill="#fff" fill-opacity="0.8"/>
<circle cx="300.18" cy="367.92" r="0.50" fill="#fff" fill-opacity="0.8"/>
<circle cx="316.29" cy="371.36" r="0.50" fill="#fff" fill-opacity="0.8"/>
<circle cx="308.59" cy="399.65" r="0.40" fill="#fff" fill-opacity="0.8"/>
<circle cx="285.85" cy="401.24" r="0.35" fill="#fff" fill-opacity="0.7"/>
<circle cx="286.10" cy="399.61" r="0.35" fill="#fff" fill-opacity="0.7"/>
<circle cx="274.52" cy="382.80" r="0.35" fill="#fff" fill-opacity="0.7"/>
<circle cx="282.38" cy="397.50" r="0.35" fill="#fff" fill-opacity="0.7"/>
<circle cx="278.16" cy="398.58" r="0.35" fill="#fff" fill-opacity="0.7"/>
<circle cx="285.99" cy="379.26" r="0.35" fill="#fff" fill-opacity="0.7"/>
<circle cx="282.96" cy="384.79" r="0.35" fill="#fff" fill-opacity="0.7"/>
<circle cx="275.03" cy="382.01" r="0.35" fill="#fff" fill-opacity="0.7"/>
<circle cx="280.03" cy="383.45" r="0.35" fill="#fff" fill-opacity="0.7"/>
<circle cx="277.67" cy="379.07" r="0.35" fill="#fff" fill-opacity="0.7"/>
<circle cx="282.84" cy="389.41" r="0.35" fill="#fff" fill-opacity="0.7"/>
<circle cx="285.62" cy="395.70" r="0.35" fill="#fff" fill-opacity="0.7"/>
<circle cx="278.52" cy="405.10" r="0.35" fill="#fff" fill-opacity="0.7"/>
<circle cx="274.01" cy="390.16" r="0.35" fill="#fff" fill-opacity="0.7"/>
<circle cx="279.29" cy="390.30" r="0.35" fill="#fff" fill-opacity="0.7"/>
<circle cx="276.19" cy="402.94" r="0.35" fill="#fff" fill-opacity="0.7"/>
<circle cx="281.10" cy="379.08" r="0.35" fill="#fff" fill-opacity="0.7"/>
<circle cx="285.66" cy="380.84" r="0.35" fill="#fff" fill-opacity="0.7"/>
<circle cx="284.36" cy="388.18" r="0.35" fill="#fff" fill-opacity="0.7"/>
<circle cx="285.04" cy="406.75" r="0.35" fill="#fff" fill-opacity="0.7"/>
<circle cx="289.55" cy="390.57" r="0.35" fill="#fff" fill-opacity="0.7"/>
<circle cx="289.45" cy="397.27" r="0.35" fill="#fff" fill-opacity="0.7"/>
<circle cx="281.02" cy="382.26" r="0.35" fill="#fff" fill-opacity="0.7"/>
<circle cx="285.32" cy="394.92" r="0.35" fill="#fff" fill-opacity="0.7"/>
<circle cx="292.19" cy="407.04" r="0.35" fill="#fff" fill-opacity="0.7"/>
<circle cx="285.56" cy="388.53" r="0.35" fill="#fff" fill-opacity="0.7"/>
<circle cx="290.98" cy="378.03" r="0.35" fill="#fff" fill-opacity="0.7"/>
<circle cx="276.05" cy="394.97" r="0.35" fill="#fff" fill-opacity="0.7"/>
<circle cx="285.69" cy="382.22" r="0.35" fill="#fff" fill-opacity="0.7"/>
<circle cx="285.96" cy="404.74" r="0.35" fill="#fff" fill-opacity="0.7"/>
<circle cx="281.14" cy="390.95" r="0.35" fill="#fff" fill-opacity="0.7"/>
<circle cx="278.30" cy="386.74" r="0.35" fill="#fff" fill-opacity="0.7"/>
<circle cx="292.48" cy="389.39" r="0.35" fill="#fff" fill-opacity="0.7"/>
<circle cx="292.26" cy="405.41" r="0.35" fill="#fff" fill-opacity="0.7"/>
<circle cx="285.32" cy="385.79" r="0.35" fill="#fff" fill-opacity="0.7"/>
<circle cx="318.71" cy="337.94" r="0.35" fill="#fff" fill-opacity="0.7"/>
<circle cx="310.23" cy="335.11" r="0.35" fill="#fff" fill-opacity="0.7"/>
<circle cx="318.76" cy="337.87" r="0.35" fill="#fff" fill-opacity="0.7"/>
<circle cx="308.30" cy="337.63" r="0.35" fill="#fff" fill-opacity="0.7"/>
<circle cx="305.83" cy="339.95" r="0.35" fill="#fff" fill-opacity="0.7"/>
<circle cx="310.65" cy="334.69" r="0.35" fill="#fff" fill-opacity="0.7"/>
<circle cx="315.73" cy="343.23" r="0.35" fill="#fff" fill-opacity="0.7"/>
<circle cx="304.20" cy="338.52" r="0.35" fill="#fff" fill-opacity="0.7"/>
<circle cx="308.11" cy="344.96" r="0.35" fill="#fff" fill-opacity="0.7"/>
<circle cx="315.73" cy="333.93" r="0.35" fill="#fff" fill-opacity="0.7"/>
<circle cx="308.02" cy="332.48" r="0.35" fill="#fff" fill-opacity="0.7"/>
<circle cx="318.83" cy="334.69" r="0.35" fill="#fff" fill-opacity="0.7"/>
<circle cx="313.12" cy="337.59" r="0.35" fill="#fff" fill-opacity="0.7"/>
<circle cx="313.67" cy="339.66" r="0.35" fill="#fff" fill-opacity="0.7"/>
<circle cx="315.15" cy="331.89" r="0.35" fill="#fff" fill-opacity="0.7"/>
<circle cx="315.41" cy="334.81" r="0.35" fill="#fff" fill-opacity="0.7"/>
<circle cx="312.00" cy="335.38" r="0.35" fill="#fff" fill-opacity="0.7"/>
<circle cx="308.45" cy="338.48" r="0.35" fill="#fff" fill-opacity="0.7"/>
<circle cx="310.97" cy="335.78" r="0.35" fill="#fff" fill-opacity="0.7"/>
<circle cx="315.18" cy="339.45" r="0.35" fill="#fff" fill-opacity="0.7"/>
<circle cx="304.55" cy="334.04" r="0.35" fill="#fff" fill-opacity="0.7"/>
<circle cx="310.83" cy="344.67" r="0.35" fill="#fff" fill-opacity="0.7"/>
<circle cx="317.32" cy="338.73" r="0.35" fill="#fff" fill-opacity="0.7"/>
<circle cx="304.22" cy="342.45" r="0.35" fill="#fff" fill-opacity="0.7"/>
<circle cx="310.42" cy="339.21" r="0.35" fill="#fff" fill-opacity="0.7"/>
<rect x="267.1" y="319.4" width="120.3" height="108.6" fill="none" stroke="#333" stroke-width="0.9"/>
<text x="0" y="0" font-size="7.45" stroke="#000" stroke-width="0.21" text-anchor="middle" transform="translate(258.6,375.5) rotate(-90)" dy="2.7">tSNE2</text>
<text x="328.90" y="436.88" font-size="7.45" text-anchor="middle" fill="#000" stroke="#000" stroke-width="0.23">tSNE1</text>
<circle cx="235.00" cy="446.40" r="1.50" fill="#5cc99a"/>
<text x="239.70" y="448.72" font-size="6.45" text-anchor="start" fill="#5cc99a" stroke="#5cc99a" stroke-width="0.12">Astrocyte (Ast)</text>
<circle cx="235.00" cy="453.60" r="1.50" fill="#ee7c55"/>
<text x="239.70" y="455.92" font-size="6.45" text-anchor="start" fill="#ee7c55" stroke="#ee7c55" stroke-width="0.12">Endothelial cell (End)</text>
<circle cx="235.00" cy="460.80" r="1.50" fill="#8090cc"/>
<text x="239.70" y="463.12" font-size="6.45" text-anchor="start" fill="#8090cc" stroke="#8090cc" stroke-width="0.12">Excitatory neuron (Ex)</text>
<circle cx="235.00" cy="468.00" r="1.50" fill="#dd6ec6"/>
<text x="239.70" y="470.32" font-size="6.45" text-anchor="start" fill="#dd6ec6" stroke="#dd6ec6" stroke-width="0.12">Inhibitory neuron (In)</text>
<circle cx="311.40" cy="446.40" r="1.50" fill="#8ed24c"/>
<text x="316.80" y="448.72" font-size="6.45" text-anchor="start" fill="#8ed24c" stroke="#8ed24c" stroke-width="0.12">Microglia (Mic)</text>
<circle cx="311.40" cy="453.60" r="1.50" fill="#d8c41c"/>
<text x="316.80" y="455.92" font-size="6.45" text-anchor="start" fill="#d8c41c" stroke="#d8c41c" stroke-width="0.12">Oligodendrocyte (Oli)</text>
<circle cx="311.40" cy="460.80" r="1.50" fill="#d2b07c"/>
<text x="316.80" y="463.12" font-size="6.45" text-anchor="start" fill="#d2b07c" stroke="#d2b07c" stroke-width="0.12">Oligodendrocyte precursor cell (Opc)</text>
<circle cx="311.40" cy="468.00" r="1.50" fill="#a8a8a8"/>
<text x="316.80" y="470.32" font-size="6.45" text-anchor="start" fill="#a8a8a8" stroke="#a8a8a8" stroke-width="0.12">Pericyte (Per)</text>
<rect x="278.9" y="477.7" width="109.6" height="35.7" fill="none" stroke="#333" stroke-width="0.9"/>
<text x="273.40" y="490.66" font-size="7.4" text-anchor="end" fill="#000" stroke="#000" stroke-width="0.22" font-style="italic">ESRRA</text>
<text x="273.40" y="505.86" font-size="7.4" text-anchor="end" fill="#000" stroke="#000" stroke-width="0.22" font-style="italic">PPARGC1A</text>
<circle cx="286.60" cy="488.10" r="1.30" fill="#4a38f0"/>
<circle cx="300.00" cy="488.10" r="0.50" fill="#a89cf0"/>
<circle cx="313.60" cy="488.10" r="1.90" fill="#9a80f0"/>
<circle cx="327.30" cy="488.10" r="2.10" fill="#3420ee"/>
<circle cx="340.90" cy="488.10" r="0.80" fill="#4030f0"/>
<circle cx="354.00" cy="488.10" r="0.40" fill="#c8c4f0"/>
<circle cx="367.70" cy="488.10" r="0.80" fill="#8070f0"/>
<circle cx="381.30" cy="488.10" r="0.40" fill="#c8c0f0"/>
<circle cx="286.60" cy="503.20" r="2.30" fill="#3a20f0"/>
<circle cx="300.00" cy="503.20" r="1.00" fill="#5040f0"/>
<circle cx="313.60" cy="503.20" r="3.30" fill="#aa92f2"/>
<circle cx="327.30" cy="503.20" r="3.00" fill="#3020ee"/>
<circle cx="340.90" cy="503.20" r="0.25" fill="#d8d8f0"/>
<circle cx="354.00" cy="503.20" r="0.25" fill="#d8d8f0"/>
<circle cx="367.70" cy="503.20" r="1.80" fill="#9272ee"/>
<circle cx="381.30" cy="503.20" r="1.00" fill="#7060f0"/>
<text x="286.60" y="522.96" font-size="7.4" text-anchor="middle" fill="#5cc99a" stroke="#5cc99a" stroke-width="0.22">Ast</text>
<text x="300.00" y="522.96" font-size="7.4" text-anchor="middle" fill="#ee7c55" stroke="#ee7c55" stroke-width="0.22">End</text>
<text x="313.60" y="522.96" font-size="7.4" text-anchor="middle" fill="#8090cc" stroke="#8090cc" stroke-width="0.22">Ex</text>
<text x="327.30" y="522.96" font-size="7.4" text-anchor="middle" fill="#dd6ec6" stroke="#dd6ec6" stroke-width="0.22">In</text>
<text x="340.90" y="522.96" font-size="7.4" text-anchor="middle" fill="#8ed24c" stroke="#8ed24c" stroke-width="0.22">Mic</text>
<text x="354.00" y="522.96" font-size="7.4" text-anchor="middle" fill="#d8c41c" stroke="#d8c41c" stroke-width="0.22">Oli</text>
<text x="367.70" y="522.96" font-size="7.4" text-anchor="middle" fill="#d2b07c" stroke="#d2b07c" stroke-width="0.22">Opc</text>
<text x="381.30" y="522.96" font-size="7.4" text-anchor="middle" fill="#a8a8a8" stroke="#a8a8a8" stroke-width="0.22">Per</text>
<text x="275.00" y="538.24" font-size="5.4" text-anchor="end" fill="#000">Average</text>
<text x="275.00" y="544.04" font-size="5.4" text-anchor="end" fill="#000">expression</text>
<rect x="282.00" y="535.50" width="34.00" height="7.00" fill="url(#expg)"/>
<text x="285.20" y="550.34" font-size="5.4" text-anchor="middle" fill="#000">-1.0</text>
<text x="299.00" y="550.34" font-size="5.4" text-anchor="middle" fill="#000">0.0</text>
<text x="310.50" y="550.34" font-size="5.4" text-anchor="middle" fill="#000">1.0</text>
<text x="361.50" y="538.24" font-size="5.4" text-anchor="end" fill="#000">Percent of cells</text>
<text x="361.50" y="544.04" font-size="5.4" text-anchor="end" fill="#000">expressed</text>
<circle cx="367.30" cy="539.00" r="0.60" fill="#000"/>
<circle cx="373.80" cy="539.00" r="1.20" fill="#000"/>
<circle cx="380.50" cy="539.00" r="1.90" fill="#000"/>
<circle cx="387.50" cy="539.00" r="2.60" fill="#000"/>
<text x="367.30" y="550.34" font-size="5.4" text-anchor="middle" fill="#000">5</text>
<text x="373.60" y="550.34" font-size="5.4" text-anchor="middle" fill="#000">10</text>
<text x="380.60" y="550.34" font-size="5.4" text-anchor="middle" fill="#000">15</text>
<text x="388.20" y="550.34" font-size="5.4" text-anchor="middle" fill="#000">20</text>
<text x="415.70" y="184.70" font-size="18" text-anchor="start" fill="#000" stroke="#000" stroke-width="0.30">f</text>
<text x="516.6" y="182.7" font-size="9.2" stroke-width="0.3"><tspan fill="#f02828" stroke="#f02828">MAP2</tspan><tspan fill="#333" stroke="#333">/</tspan><tspan fill="#2e9a2e" stroke="#2e9a2e">ERRα</tspan><tspan fill="#333" stroke="#333">/</tspan><tspan fill="#2828f0" stroke="#2828f0">DAPI</tspan></text>
<clipPath id="mc1"><rect x="440.60" y="186.30" width="98.60" height="97.90"/></clipPath>
<g clip-path="url(#mc1)"><g filter="url(#soft)">
<rect x="440.60" y="186.30" width="98.60" height="97.90" fill="#4a3c2c"/>
<rect x="440.6" y="186.3" width="98.6" height="97.9" filter="url(#nzG)" opacity="0.9"/>
<rect x="440.6" y="186.3" width="98.6" height="97.9" filter="url(#nzR)" opacity="0.8"/>
<rect x="440.6" y="186.3" width="98.6" height="97.9" filter="url(#nzD)" opacity="0.8"/>
<ellipse cx="440.6" cy="186.3" rx="0" ry="0"/>
<circle cx="525" cy="196" r="22" fill="#2a1c1c" opacity="0.7" filter="url(#b5)"/>
<circle cx="455" cy="222" r="24" fill="#4e5a34" opacity="0.6" filter="url(#b5)"/>
<ellipse cx="520" cy="250" rx="24" ry="38" fill="#6e3428" opacity="0.5" filter="url(#b5)"/>
<ellipse cx="470" cy="278" rx="30" ry="8" fill="#5a3428" opacity="0.4" filter="url(#b5)"/>
<path d="M474.2,242.6L477.8,243.1M475.4,246.5L477.2,248.1M529.3,255.1L526.3,256.2M495.7,253.5L496.4,255.2M528.7,201.8L530.5,202.2M457.6,212.5L458.8,215.0M534.4,241.4L536.1,242.3M533.4,282.5L537.2,285.1M501.6,200.6L503.0,202.6M524.2,249.0L519.4,249.4M447.0,188.1L447.7,191.5M537.1,204.3L541.4,205.4M449.2,202.0L446.1,205.7M461.2,201.6L459.9,203.3M467.1,237.1L464.8,237.4M451.5,218.3L450.2,220.3M530.8,209.1L528.8,209.9M514.8,279.7L514.8,281.4M492.8,269.1L491.9,271.3M476.7,228.9L474.7,229.3M490.5,265.0L494.2,266.2M453.6,261.2L452.4,265.8M466.4,246.4L465.1,249.0M504.2,221.8L506.4,223.1M456.6,250.9L453.6,251.0M464.6,264.4L463.4,266.6M494.3,201.2L491.0,203.8M499.9,248.5L496.1,251.3M485.5,251.6L482.1,253.2M493.7,224.9L489.6,227.3M465.2,197.1L466.8,197.4M530.5,271.7L534.3,272.3M503.3,199.3L505.3,201.6M464.9,204.1L466.6,206.1M459.2,263.3L461.0,264.4M534.2,205.8L532.1,207.0M499.5,186.4L499.8,189.3M491.0,274.0L488.6,274.5M491.4,259.4L491.2,261.7M464.2,258.1L465.4,259.5M471.3,252.8L470.2,254.9M453.5,273.6L454.1,277.4M489.7,260.9L491.1,262.1M508.7,236.3L506.3,238.3M521.4,270.8L520.4,273.0M516.1,283.3L513.5,283.5M466.5,255.5L470.8,256.7M461.9,253.7L463.5,254.2M457.2,188.6L454.4,191.6M514.2,188.0L514.4,189.9M488.9,219.4L485.2,222.1M448.6,247.7L446.7,250.7M471.2,237.5L472.7,240.7M456.0,236.7L454.1,237.9M477.2,277.9L472.6,279.3M516.2,205.0L516.5,206.9M441.7,262.5L441.2,266.8M525.1,263.0L528.2,263.2M464.8,264.8L466.6,264.8M453.9,223.3L457.9,223.8" stroke="#c84030" stroke-width="0.65" stroke-linecap="round" opacity="0.6"/>
<circle cx="442.1" cy="225.1" r="0.43" fill="#c84030" opacity="0.8"/>
<circle cx="534.4" cy="282.3" r="0.67" fill="#c84030" opacity="0.8"/>
<circle cx="475.9" cy="269.9" r="0.69" fill="#c84030" opacity="0.8"/>
<circle cx="473.9" cy="232.6" r="0.68" fill="#c84030" opacity="0.8"/>
<circle cx="528.2" cy="242.3" r="0.69" fill="#c84030" opacity="0.8"/>
<circle cx="539.1" cy="238.6" r="0.50" fill="#c84030" opacity="0.8"/>
<circle cx="460.6" cy="205.6" r="0.72" fill="#c84030" opacity="0.8"/>
<circle cx="471.9" cy="230.5" r="0.43" fill="#c84030" opacity="0.8"/>
<circle cx="462.9" cy="201.1" r="0.77" fill="#c84030" opacity="0.8"/>
<circle cx="536.5" cy="261.1" r="0.59" fill="#c84030" opacity="0.8"/>
<circle cx="508.9" cy="244.5" r="0.43" fill="#c84030" opacity="0.8"/>
<circle cx="515.6" cy="268.8" r="0.49" fill="#c84030" opacity="0.8"/>
<circle cx="450.3" cy="226.4" r="0.53" fill="#c84030" opacity="0.8"/>
<circle cx="513.3" cy="192.0" r="0.76" fill="#c84030" opacity="0.8"/>
<circle cx="526.1" cy="266.9" r="0.79" fill="#c84030" opacity="0.8"/>
<circle cx="521.2" cy="238.4" r="0.58" fill="#c84030" opacity="0.8"/>
<circle cx="522.2" cy="212.7" r="0.56" fill="#c84030" opacity="0.8"/>
<circle cx="538.4" cy="235.4" r="0.67" fill="#c84030" opacity="0.8"/>
<circle cx="454.2" cy="195.4" r="0.69" fill="#c84030" opacity="0.8"/>
<circle cx="466.0" cy="259.9" r="0.65" fill="#c84030" opacity="0.8"/>
<circle cx="453.5" cy="218.9" r="0.47" fill="#c84030" opacity="0.8"/>
<circle cx="509.2" cy="198.6" r="0.68" fill="#c84030" opacity="0.8"/>
<circle cx="445.8" cy="218.8" r="0.77" fill="#c84030" opacity="0.8"/>
<circle cx="452.9" cy="217.5" r="0.60" fill="#c84030" opacity="0.8"/>
<circle cx="467.8" cy="208.6" r="0.68" fill="#c84030" opacity="0.8"/>
<circle cx="501.2" cy="259.8" r="0.58" fill="#c84030" opacity="0.8"/>
<circle cx="534.5" cy="264.5" r="0.74" fill="#c84030" opacity="0.8"/>
<circle cx="468.2" cy="258.7" r="0.41" fill="#c84030" opacity="0.8"/>
<circle cx="453.3" cy="190.1" r="0.69" fill="#c84030" opacity="0.8"/>
<circle cx="452.7" cy="202.0" r="0.52" fill="#c84030" opacity="0.8"/>
<circle cx="504.7" cy="232.6" r="0.45" fill="#c84030" opacity="0.8"/>
<circle cx="442.8" cy="270.8" r="0.76" fill="#c84030" opacity="0.8"/>
<circle cx="526.4" cy="281.5" r="0.73" fill="#c84030" opacity="0.8"/>
<circle cx="509.0" cy="264.0" r="0.43" fill="#c84030" opacity="0.8"/>
<circle cx="517.7" cy="192.2" r="0.44" fill="#c84030" opacity="0.8"/>
<circle cx="510.3" cy="191.4" r="0.73" fill="#c84030" opacity="0.8"/>
<circle cx="476.2" cy="187.9" r="0.73" fill="#c84030" opacity="0.8"/>
<circle cx="466.8" cy="190.8" r="0.66" fill="#c84030" opacity="0.8"/>
<circle cx="465.3" cy="194.2" r="0.44" fill="#c84030" opacity="0.8"/>
<circle cx="505.6" cy="281.9" r="0.72" fill="#c84030" opacity="0.8"/>
<circle cx="448.9" cy="266.2" r="0.58" fill="#c84030" opacity="0.8"/>
<circle cx="523.7" cy="228.1" r="0.49" fill="#c84030" opacity="0.8"/>
<circle cx="461.2" cy="248.9" r="0.54" fill="#c84030" opacity="0.8"/>
<circle cx="532.4" cy="235.0" r="0.46" fill="#c84030" opacity="0.8"/>
<circle cx="461.1" cy="258.6" r="0.48" fill="#c84030" opacity="0.8"/>
<circle cx="477.7" cy="220.2" r="0.46" fill="#c84030" opacity="0.8"/>
<circle cx="443.9" cy="218.4" r="0.49" fill="#c84030" opacity="0.8"/>
<circle cx="454.2" cy="245.5" r="0.72" fill="#c84030" opacity="0.8"/>
<circle cx="536.3" cy="243.6" r="0.61" fill="#c84030" opacity="0.8"/>
<circle cx="470.2" cy="206.4" r="0.67" fill="#c84030" opacity="0.8"/>
<path d="M482.6,248.3 L488.6,260.3 L496.6,264.3 L504.6,264.3" fill="none" stroke="#d06030" stroke-width="1.4" stroke-linecap="round" filter="url(#b05)"/>
<path d="M500.6,219.3 L512.6,226.3 L525.6,234.3" fill="none" stroke="#c83a28" stroke-width="0.8" stroke-linecap="round" filter="url(#b05)"/>
<path d="M455.6,264.3 L465.6,268.3 L475.6,266.3" fill="none" stroke="#c04028" stroke-width="0.8" stroke-linecap="round" filter="url(#b05)"/>
<path d="M530.6,196.3 L535.6,216.3 L538.6,231.3" fill="none" stroke="#b83020" stroke-width="0.7" stroke-linecap="round" filter="url(#b05)"/>
<path d="M445.6,236.3 L452.6,241.3" fill="none" stroke="#c03828" stroke-width="0.7" stroke-linecap="round" filter="url(#b05)"/>
<ellipse cx="478.6" cy="203.3" rx="3.4" ry="4.1" fill="#c87a40" filter="url(#b15)" transform="rotate(0 478.6 203.3)" opacity="0.45"/>
<ellipse cx="478.6" cy="203.3" rx="2.5" ry="3.0" fill="#c87a40" filter="url(#b1)" transform="rotate(0 478.6 203.3)" opacity="0.9"/>
<ellipse cx="526.6" cy="238.3" rx="2.0" ry="8.1" fill="#b0a040" filter="url(#b15)" transform="rotate(-20 526.6 238.3)" opacity="0.45"/>
<ellipse cx="526.6" cy="238.3" rx="1.5" ry="6.0" fill="#b0a040" filter="url(#b1)" transform="rotate(-20 526.6 238.3)" opacity="0.9"/>
<ellipse cx="498.6" cy="273.3" rx="5.4" ry="4.7" fill="#608070" filter="url(#b15)" transform="rotate(0 498.6 273.3)" opacity="0.45"/>
<ellipse cx="498.6" cy="273.3" rx="4.0" ry="3.5" fill="#608070" filter="url(#b1)" transform="rotate(0 498.6 273.3)" opacity="0.9"/>
<ellipse cx="498.6" cy="273.3" rx="2.0" ry="1.8" fill="#5a6040" filter="url(#b1)" transform="rotate(0 498.6 273.3)" opacity="0.45"/>
<path d="M0,-8.64 C1.62,-2.88 3.60,-1.08 3.60,1.08 C3.60,3.42 1.80,4.32 0,4.32 C-1.80,4.32 -3.60,3.42 -3.60,1.08 C-3.60,-1.08 -1.62,-2.88 0,-8.64 Z" fill="#b0b848" opacity="0.45" filter="url(#b15)" transform="translate(491.6,200.3) rotate(0) scale(1.3)"/><path d="M0,-8.64 C1.62,-2.88 3.60,-1.08 3.60,1.08 C3.60,3.42 1.80,4.32 0,4.32 C-1.80,4.32 -3.60,3.42 -3.60,1.08 C-3.60,-1.08 -1.62,-2.88 0,-8.64 Z" fill="#b0b848" opacity="0.92" filter="url(#b1)" transform="translate(491.6,200.3) rotate(0)"/>
<path d="M0,-6.80 C1.80,-3.20 4.00,-1.20 4.00,1.20 C4.00,3.80 2.00,4.80 0,4.80 C-2.00,4.80 -4.00,3.80 -4.00,1.20 C-4.00,-1.20 -1.80,-3.20 0,-6.80 Z" fill="#d07038" opacity="0.45" filter="url(#b15)" transform="translate(464.6,201.3) rotate(10) scale(1.3)"/><path d="M0,-6.80 C1.80,-3.20 4.00,-1.20 4.00,1.20 C4.00,3.80 2.00,4.80 0,4.80 C-2.00,4.80 -4.00,3.80 -4.00,1.20 C-4.00,-1.20 -1.80,-3.20 0,-6.80 Z" fill="#c08040" opacity="0.92" filter="url(#b1)" transform="translate(464.6,201.3) rotate(10)"/><ellipse cx="464.6" cy="201.3" rx="2.0" ry="2.2" fill="#8a8a50" opacity="0.8" filter="url(#b1)"/>
<path d="M0,-6.80 C1.80,-3.20 4.00,-1.20 4.00,1.20 C4.00,3.80 2.00,4.80 0,4.80 C-2.00,4.80 -4.00,3.80 -4.00,1.20 C-4.00,-1.20 -1.80,-3.20 0,-6.80 Z" fill="#c87038" opacity="0.45" filter="url(#b15)" transform="translate(468.6,216.3) rotate(-10) scale(1.3)"/><path d="M0,-6.80 C1.80,-3.20 4.00,-1.20 4.00,1.20 C4.00,3.80 2.00,4.80 0,4.80 C-2.00,4.80 -4.00,3.80 -4.00,1.20 C-4.00,-1.20 -1.80,-3.20 0,-6.80 Z" fill="#a89048" opacity="0.92" filter="url(#b1)" transform="translate(468.6,216.3) rotate(-10)"/><ellipse cx="468.6" cy="216.3" rx="2.0" ry="2.2" fill="#7a8a58" opacity="0.8" filter="url(#b1)"/>
<path d="M0,-7.65 C2.02,-3.60 4.50,-1.35 4.50,1.35 C4.50,4.27 2.25,5.40 0,5.40 C-2.25,5.40 -4.50,4.27 -4.50,1.35 C-4.50,-1.35 -2.02,-3.60 0,-7.65 Z" fill="#d86a30" opacity="0.45" filter="url(#b15)" transform="translate(475.6,227.3) rotate(0) scale(1.3)"/><path d="M0,-7.65 C2.02,-3.60 4.50,-1.35 4.50,1.35 C4.50,4.27 2.25,5.40 0,5.40 C-2.25,5.40 -4.50,4.27 -4.50,1.35 C-4.50,-1.35 -2.02,-3.60 0,-7.65 Z" fill="#d08840" opacity="0.92" filter="url(#b1)" transform="translate(475.6,227.3) rotate(0)"/>
<path d="M0,-10.20 C2.70,-4.80 6.00,-1.80 6.00,1.80 C6.00,5.70 3.00,7.20 0,7.20 C-3.00,7.20 -6.00,5.70 -6.00,1.80 C-6.00,-1.80 -2.70,-4.80 0,-10.20 Z" fill="#c89038" opacity="0.45" filter="url(#b15)" transform="translate(519.6,224.3) rotate(180) scale(1.3)"/><path d="M0,-10.20 C2.70,-4.80 6.00,-1.80 6.00,1.80 C6.00,5.70 3.00,7.20 0,7.20 C-3.00,7.20 -6.00,5.70 -6.00,1.80 C-6.00,-1.80 -2.70,-4.80 0,-10.20 Z" fill="#b8c040" opacity="0.92" filter="url(#b1)" transform="translate(519.6,224.3) rotate(180)"/>
<path d="M0,-7.65 C2.02,-3.60 4.50,-1.35 4.50,1.35 C4.50,4.27 2.25,5.40 0,5.40 C-2.25,5.40 -4.50,4.27 -4.50,1.35 C-4.50,-1.35 -2.02,-3.60 0,-7.65 Z" fill="#c87838" opacity="0.45" filter="url(#b15)" transform="translate(508.6,248.3) rotate(0) scale(1.3)"/><path d="M0,-7.65 C2.02,-3.60 4.50,-1.35 4.50,1.35 C4.50,4.27 2.25,5.40 0,5.40 C-2.25,5.40 -4.50,4.27 -4.50,1.35 C-4.50,-1.35 -2.02,-3.60 0,-7.65 Z" fill="#a8a848" opacity="0.92" filter="url(#b1)" transform="translate(508.6,248.3) rotate(0)"/>
<path d="M0,-7.65 C2.02,-3.60 4.50,-1.35 4.50,1.35 C4.50,4.27 2.25,5.40 0,5.40 C-2.25,5.40 -4.50,4.27 -4.50,1.35 C-4.50,-1.35 -2.02,-3.60 0,-7.65 Z" fill="#c87838" opacity="0.45" filter="url(#b15)" transform="translate(517.6,260.3) rotate(10) scale(1.3)"/><path d="M0,-7.65 C2.02,-3.60 4.50,-1.35 4.50,1.35 C4.50,4.27 2.25,5.40 0,5.40 C-2.25,5.40 -4.50,4.27 -4.50,1.35 C-4.50,-1.35 -2.02,-3.60 0,-7.65 Z" fill="#b0b040" opacity="0.92" filter="url(#b1)" transform="translate(517.6,260.3) rotate(10)"/>
<path d="M0,-7.65 C2.02,-3.60 4.50,-1.35 4.50,1.35 C4.50,4.27 2.25,5.40 0,5.40 C-2.25,5.40 -4.50,4.27 -4.50,1.35 C-4.50,-1.35 -2.02,-3.60 0,-7.65 Z" fill="#c08040" opacity="0.45" filter="url(#b15)" transform="translate(527.6,264.3) rotate(0) scale(1.3)"/><path d="M0,-7.65 C2.02,-3.60 4.50,-1.35 4.50,1.35 C4.50,4.27 2.25,5.40 0,5.40 C-2.25,5.40 -4.50,4.27 -4.50,1.35 C-4.50,-1.35 -2.02,-3.60 0,-7.65 Z" fill="#98b850" opacity="0.92" filter="url(#b1)" transform="translate(527.6,264.3) rotate(0)"/>
<path d="M0,-7.65 C2.02,-3.60 4.50,-1.35 4.50,1.35 C4.50,4.27 2.25,5.40 0,5.40 C-2.25,5.40 -4.50,4.27 -4.50,1.35 C-4.50,-1.35 -2.02,-3.60 0,-7.65 Z" fill="#c87038" opacity="0.45" filter="url(#b15)" transform="translate(453.6,254.3) rotate(-30) scale(1.3)"/><path d="M0,-7.65 C2.02,-3.60 4.50,-1.35 4.50,1.35 C4.50,4.27 2.25,5.40 0,5.40 C-2.25,5.40 -4.50,4.27 -4.50,1.35 C-4.50,-1.35 -2.02,-3.60 0,-7.65 Z" fill="#b09048" opacity="0.92" filter="url(#b1)" transform="translate(453.6,254.3) rotate(-30)"/>
<ellipse cx="492.6" cy="189.3" rx="3.1" ry="2.0" fill="#3434ff" filter="url(#b07)"/>
<ellipse cx="447.6" cy="199.3" rx="1.8" ry="1.8" fill="#3434ff" filter="url(#b07)"/>
<ellipse cx="521.6" cy="212.3" rx="2.2" ry="2.0" fill="#3434ff" filter="url(#b07)"/>
<ellipse cx="493.1" cy="234.3" rx="1.8" ry="1.8" fill="#3434ff" filter="url(#b07)"/>
<ellipse cx="481.6" cy="226.3" rx="1.3" ry="2.5" fill="#3434ff" filter="url(#b07)"/>
<ellipse cx="481.6" cy="250.3" rx="2.1" ry="1.8" fill="#3434ff" filter="url(#b07)"/>
<ellipse cx="451.6" cy="272.3" rx="1.8" ry="1.8" fill="#3434ff" filter="url(#b07)"/>
<ellipse cx="515.6" cy="269.3" rx="1.8" ry="1.8" fill="#3434ff" filter="url(#b07)"/>
<ellipse cx="510.6" cy="234.3" rx="1.4" ry="1.4" fill="#3434ff" filter="url(#b07)"/>

</g></g>
<rect x="458.40" y="192.50" width="36.70" height="36.70" fill="none" stroke="#e8e8e8" stroke-width="0.9" stroke-dasharray="1.6,1.1"/>
<clipPath id="mc2"><rect x="571.20" y="186.20" width="99.90" height="98.00"/></clipPath>
<g clip-path="url(#mc2)"><g filter="url(#soft)">
<rect x="571.20" y="186.20" width="99.90" height="98.00" fill="#521c2c"/>
<rect x="571.2" y="186.2" width="99.9" height="98.0" filter="url(#nzR2)" opacity="1"/>
<rect x="571.2" y="186.2" width="99.9" height="98.0" filter="url(#nzP)" opacity="0.6"/>
<rect x="571.2" y="186.2" width="99.9" height="98.0" filter="url(#nzD)" opacity="0.35"/>
<ellipse cx="620" cy="208" rx="55" ry="26" fill="#7a2434" opacity="0.45" filter="url(#b5)"/>
<path d="M571,240 C590,244 610,250 640,252" stroke="#1a0a10" stroke-width="7" fill="none" opacity="0.55" filter="url(#b3)"/>
<ellipse cx="620" cy="265" rx="50" ry="18" fill="#2e1020" opacity="0.35" filter="url(#b5)"/>
<path d="M634.5,193.2L635.2,196.4M603.9,268.8L602.3,269.6M629.3,224.5L627.8,226.1M583.7,272.2L579.7,272.4M627.6,222.2L629.3,224.7M614.2,268.9L613.4,272.5M618.6,250.2L616.0,253.2M575.0,254.6L576.8,256.4M613.2,225.4L613.3,227.2M592.5,213.5L590.4,214.3M587.7,207.2L584.1,207.8M605.7,223.0L605.7,225.7M668.6,266.3L670.3,267.5M577.0,265.3L581.1,266.5M614.9,233.9L617.1,235.7M662.9,199.9L663.7,203.3M604.7,195.9L606.7,197.1M595.9,191.8L591.8,193.7M619.8,243.8L621.0,245.5M597.5,210.4L595.9,211.0M665.9,204.7L664.6,209.5M646.1,226.5L644.3,229.3M597.7,239.7L598.9,243.5M604.1,263.8L607.1,264.9M650.3,255.3L646.5,256.9M618.1,267.2L614.1,268.7M623.8,192.1L627.3,193.2M595.6,249.2L594.2,251.1M621.1,192.0L623.5,193.6M626.3,196.9L628.1,200.5M604.8,274.5L604.6,276.5M597.1,273.1L593.1,273.7M608.1,193.4L605.3,194.7M629.5,197.7L630.9,201.0M589.1,245.5L587.7,247.1M664.6,267.8L667.5,271.7M611.7,234.2L610.9,235.7M664.8,234.5L662.7,235.7M587.0,212.7L590.1,215.4M607.4,195.8L609.2,197.6M626.3,237.1L630.0,240.1M595.2,275.9L595.1,280.4M575.2,226.6L574.9,228.5M647.0,220.3L648.5,222.1M575.7,231.5L575.9,233.8M632.8,192.0L630.8,192.6M623.2,214.9L623.6,216.8M646.9,273.3L643.3,273.6M574.1,218.2L572.6,221.7M648.5,280.2L650.3,280.6M595.9,226.0L594.9,228.2M618.7,247.6L620.4,250.6M638.3,210.1L640.6,211.3M663.9,227.0L661.6,229.6M636.1,189.0L634.6,189.8M594.3,198.2L594.1,199.8M582.7,275.0L579.5,277.8M609.7,249.7L610.5,252.4M623.4,279.5L623.5,283.6M650.4,275.3L653.4,278.4M587.7,267.2L588.4,271.4M669.3,203.8L670.5,205.8M646.3,218.2L642.7,221.4M646.2,283.7L646.3,286.5M654.1,262.1L650.9,262.9M581.1,258.1L578.4,260.2M605.5,281.2L605.8,283.3M641.1,241.6L639.2,244.9M643.8,200.1L644.2,202.7M664.5,251.1L663.2,253.8M655.2,275.8L655.2,277.4M623.2,207.3L621.3,209.4M666.2,202.9L665.0,203.8M608.2,203.4L605.4,205.3M655.9,241.9L657.4,245.4M591.1,206.6L590.1,210.9M578.8,242.1L574.1,243.4M587.1,246.6L583.0,248.7M637.0,199.1L637.8,202.9M641.3,269.4L638.3,271.0" stroke="#e02830" stroke-width="0.65" stroke-linecap="round" opacity="0.6"/>
<circle cx="579.8" cy="225.4" r="0.43" fill="#e02830" opacity="0.8"/>
<circle cx="603.2" cy="283.1" r="0.78" fill="#e02830" opacity="0.8"/>
<circle cx="623.6" cy="255.2" r="0.64" fill="#e02830" opacity="0.8"/>
<circle cx="635.3" cy="198.9" r="0.42" fill="#e02830" opacity="0.8"/>
<circle cx="584.4" cy="239.5" r="0.78" fill="#e02830" opacity="0.8"/>
<circle cx="594.3" cy="201.5" r="0.65" fill="#e02830" opacity="0.8"/>
<circle cx="621.8" cy="281.2" r="0.53" fill="#e02830" opacity="0.8"/>
<circle cx="596.3" cy="235.2" r="0.66" fill="#e02830" opacity="0.8"/>
<circle cx="641.5" cy="230.6" r="0.55" fill="#e02830" opacity="0.8"/>
<circle cx="622.2" cy="205.1" r="0.59" fill="#e02830" opacity="0.8"/>
<circle cx="597.4" cy="224.7" r="0.57" fill="#e02830" opacity="0.8"/>
<circle cx="639.0" cy="195.7" r="0.71" fill="#e02830" opacity="0.8"/>
<circle cx="649.8" cy="190.3" r="0.70" fill="#e02830" opacity="0.8"/>
<circle cx="643.7" cy="207.6" r="0.69" fill="#e02830" opacity="0.8"/>
<circle cx="602.0" cy="189.4" r="0.71" fill="#e02830" opacity="0.8"/>
<circle cx="620.6" cy="206.9" r="0.50" fill="#e02830" opacity="0.8"/>
<circle cx="626.1" cy="238.5" r="0.42" fill="#e02830" opacity="0.8"/>
<circle cx="661.3" cy="275.1" r="0.63" fill="#e02830" opacity="0.8"/>
<circle cx="631.9" cy="188.1" r="0.64" fill="#e02830" opacity="0.8"/>
<circle cx="627.1" cy="242.0" r="0.45" fill="#e02830" opacity="0.8"/>
<circle cx="605.7" cy="197.0" r="0.58" fill="#e02830" opacity="0.8"/>
<circle cx="654.4" cy="189.4" r="0.71" fill="#e02830" opacity="0.8"/>
<circle cx="625.7" cy="279.7" r="0.58" fill="#e02830" opacity="0.8"/>
<circle cx="609.3" cy="216.2" r="0.41" fill="#e02830" opacity="0.8"/>
<circle cx="576.5" cy="234.5" r="0.56" fill="#e02830" opacity="0.8"/>
<circle cx="626.0" cy="239.3" r="0.45" fill="#e02830" opacity="0.8"/>
<circle cx="638.1" cy="199.7" r="0.66" fill="#e02830" opacity="0.8"/>
<circle cx="651.1" cy="225.3" r="0.57" fill="#e02830" opacity="0.8"/>
<circle cx="647.2" cy="277.0" r="0.70" fill="#e02830" opacity="0.8"/>
<circle cx="614.9" cy="263.7" r="0.52" fill="#e02830" opacity="0.8"/>
<circle cx="668.9" cy="279.0" r="0.70" fill="#e02830" opacity="0.8"/>
<circle cx="636.9" cy="190.4" r="0.56" fill="#e02830" opacity="0.8"/>
<circle cx="653.8" cy="199.4" r="0.51" fill="#e02830" opacity="0.8"/>
<circle cx="585.3" cy="238.9" r="0.76" fill="#e02830" opacity="0.8"/>
<circle cx="668.6" cy="250.3" r="0.53" fill="#e02830" opacity="0.8"/>
<circle cx="638.1" cy="192.6" r="0.55" fill="#e02830" opacity="0.8"/>
<circle cx="601.8" cy="219.0" r="0.59" fill="#e02830" opacity="0.8"/>
<circle cx="666.8" cy="230.1" r="0.74" fill="#e02830" opacity="0.8"/>
<circle cx="662.4" cy="263.9" r="0.41" fill="#e02830" opacity="0.8"/>
<circle cx="665.1" cy="262.6" r="0.66" fill="#e02830" opacity="0.8"/>
<circle cx="576.3" cy="231.6" r="0.72" fill="#e02830" opacity="0.8"/>
<circle cx="648.0" cy="281.6" r="0.45" fill="#e02830" opacity="0.8"/>
<circle cx="668.8" cy="209.1" r="0.56" fill="#e02830" opacity="0.8"/>
<circle cx="627.9" cy="242.0" r="0.41" fill="#e02830" opacity="0.8"/>
<circle cx="652.7" cy="270.8" r="0.52" fill="#e02830" opacity="0.8"/>
<circle cx="610.5" cy="201.9" r="0.72" fill="#e02830" opacity="0.8"/>
<circle cx="585.6" cy="210.7" r="0.51" fill="#e02830" opacity="0.8"/>
<circle cx="632.4" cy="243.1" r="0.74" fill="#e02830" opacity="0.8"/>
<circle cx="583.5" cy="220.5" r="0.53" fill="#e02830" opacity="0.8"/>
<circle cx="665.2" cy="259.6" r="0.75" fill="#e02830" opacity="0.8"/>
<circle cx="579.9" cy="217.0" r="0.58" fill="#e02830" opacity="0.8"/>
<circle cx="615.1" cy="229.4" r="0.67" fill="#e02830" opacity="0.8"/>
<circle cx="573.2" cy="213.4" r="0.65" fill="#e02830" opacity="0.8"/>
<circle cx="655.6" cy="213.4" r="0.49" fill="#e02830" opacity="0.8"/>
<circle cx="619.9" cy="284.1" r="0.72" fill="#e02830" opacity="0.8"/>
<circle cx="571.4" cy="277.4" r="0.42" fill="#e02830" opacity="0.8"/>
<circle cx="627.0" cy="230.4" r="0.61" fill="#e02830" opacity="0.8"/>
<circle cx="597.3" cy="245.0" r="0.61" fill="#e02830" opacity="0.8"/>
<circle cx="595.6" cy="203.6" r="0.47" fill="#e02830" opacity="0.8"/>
<circle cx="626.1" cy="280.4" r="0.74" fill="#e02830" opacity="0.8"/>
<circle cx="591.0" cy="275.8" r="0.66" fill="#e02830" opacity="0.8"/>
<circle cx="640.9" cy="283.5" r="0.65" fill="#e02830" opacity="0.8"/>
<circle cx="578.6" cy="256.3" r="0.48" fill="#e02830" opacity="0.8"/>
<circle cx="624.9" cy="229.7" r="0.79" fill="#e02830" opacity="0.8"/>
<circle cx="582.2" cy="197.2" r="0.61" fill="#e02830" opacity="0.8"/>
<circle cx="648.0" cy="266.4" r="0.60" fill="#e02830" opacity="0.8"/>
<circle cx="626.2" cy="243.1" r="0.44" fill="#e02830" opacity="0.8"/>
<circle cx="652.2" cy="201.1" r="0.41" fill="#e02830" opacity="0.8"/>
<circle cx="621.6" cy="199.5" r="0.53" fill="#e02830" opacity="0.8"/>
<circle cx="635.0" cy="195.5" r="0.78" fill="#e02830" opacity="0.8"/>
<path d="M601.2,191.2 L609.2,201.2" fill="none" stroke="#ff3030" stroke-width="1" stroke-linecap="round" filter="url(#b05)"/>
<path d="M599.2,226.2 L601.2,241.2" fill="none" stroke="#e83030" stroke-width="0.8" stroke-linecap="round" filter="url(#b05)"/>
<path d="M641.2,196.2 L643.2,191.2" fill="none" stroke="#e83030" stroke-width="0.8" stroke-linecap="round" filter="url(#b05)"/>
<path d="M609.2,261.2 L616.2,276.2" fill="none" stroke="#e83030" stroke-width="0.9" stroke-linecap="round" filter="url(#b05)"/>
<path d="M576.2,191.2 L576.2,196.2" fill="none" stroke="#ff3030" stroke-width="1.5" stroke-linecap="round" filter="url(#b05)"/>
<path d="M655.2,250.2 L663.2,266.2" fill="none" stroke="#e03030" stroke-width="0.9" stroke-linecap="round" filter="url(#b05)"/>
<ellipse cx="587.2" cy="198.2" rx="8.1" ry="8.1" fill="#e87040" filter="url(#b15)" transform="rotate(0 587.2 198.2)" opacity="0.45"/>
<ellipse cx="587.2" cy="198.2" rx="6.0" ry="6.0" fill="#e87040" filter="url(#b1)" transform="rotate(0 587.2 198.2)" opacity="0.9"/>
<ellipse cx="584.2" cy="213.2" rx="8.8" ry="8.1" fill="#9a5a58" filter="url(#b15)" transform="rotate(0 584.2 213.2)" opacity="0.45"/>
<ellipse cx="584.2" cy="213.2" rx="6.5" ry="6.0" fill="#9a5a58" filter="url(#b1)" transform="rotate(0 584.2 213.2)" opacity="0.9"/>
<ellipse cx="609.2" cy="208.2" rx="4.7" ry="4.7" fill="#ff3030" filter="url(#b15)" transform="rotate(0 609.2 208.2)" opacity="0.45"/>
<ellipse cx="609.2" cy="208.2" rx="3.5" ry="3.5" fill="#ff3030" filter="url(#b1)" transform="rotate(0 609.2 208.2)" opacity="0.9"/>
<ellipse cx="661.2" cy="230.2" rx="3.4" ry="13.5" fill="#e07040" filter="url(#b15)" transform="rotate(-25 661.2 230.2)" opacity="0.45"/>
<ellipse cx="661.2" cy="230.2" rx="2.5" ry="10.0" fill="#e07040" filter="url(#b1)" transform="rotate(-25 661.2 230.2)" opacity="0.9"/>
<ellipse cx="659.2" cy="246.2" rx="6.8" ry="6.1" fill="#e87040" filter="url(#b15)" transform="rotate(0 659.2 246.2)" opacity="0.45"/>
<ellipse cx="659.2" cy="246.2" rx="5.0" ry="4.5" fill="#e87040" filter="url(#b1)" transform="rotate(0 659.2 246.2)" opacity="0.9"/>
<ellipse cx="601.2" cy="259.2" rx="6.8" ry="6.8" fill="#e86040" filter="url(#b15)" transform="rotate(0 601.2 259.2)" opacity="0.45"/>
<ellipse cx="601.2" cy="259.2" rx="5.0" ry="5.0" fill="#e86040" filter="url(#b1)" transform="rotate(0 601.2 259.2)" opacity="0.9"/>
<ellipse cx="574.2" cy="271.2" rx="5.4" ry="8.1" fill="#e06040" filter="url(#b15)" transform="rotate(0 574.2 271.2)" opacity="0.45"/>
<ellipse cx="574.2" cy="271.2" rx="4.0" ry="6.0" fill="#e06040" filter="url(#b1)" transform="rotate(0 574.2 271.2)" opacity="0.9"/>
<ellipse cx="666.2" cy="279.2" rx="5.4" ry="5.4" fill="#7050a0" filter="url(#b15)" transform="rotate(0 666.2 279.2)" opacity="0.45"/>
<ellipse cx="666.2" cy="279.2" rx="4.0" ry="4.0" fill="#7050a0" filter="url(#b1)" transform="rotate(0 666.2 279.2)" opacity="0.9"/>
<ellipse cx="664.2" cy="255.2" rx="3.4" ry="3.4" fill="#ff3030" filter="url(#b15)" transform="rotate(0 664.2 255.2)" opacity="0.45"/>
<ellipse cx="664.2" cy="255.2" rx="2.5" ry="2.5" fill="#ff3030" filter="url(#b1)" transform="rotate(0 664.2 255.2)" opacity="0.9"/>
<ellipse cx="581.2" cy="236.2" rx="4.1" ry="4.1" fill="#d05040" filter="url(#b15)" transform="rotate(0 581.2 236.2)" opacity="0.45"/>
<ellipse cx="581.2" cy="236.2" rx="3.0" ry="3.0" fill="#d05040" filter="url(#b1)" transform="rotate(0 581.2 236.2)" opacity="0.9"/>
<path d="M0,-14.45 C3.83,-6.80 8.50,-2.55 8.50,2.55 C8.50,8.07 4.25,10.20 0,10.20 C-4.25,10.20 -8.50,8.07 -8.50,2.55 C-8.50,-2.55 -3.83,-6.80 0,-14.45 Z" fill="#f08040" opacity="0.45" filter="url(#b15)" transform="translate(650.2,213.2) rotate(150) scale(1.3)"/><path d="M0,-14.45 C3.83,-6.80 8.50,-2.55 8.50,2.55 C8.50,8.07 4.25,10.20 0,10.20 C-4.25,10.20 -8.50,8.07 -8.50,2.55 C-8.50,-2.55 -3.83,-6.80 0,-14.45 Z" fill="#f08040" opacity="0.92" filter="url(#b1)" transform="translate(650.2,213.2) rotate(150)"/><ellipse cx="650.2" cy="213.2" rx="4.2" ry="4.7" fill="#f0a070" opacity="0.8" filter="url(#b1)"/>
<path d="M0,-9.35 C2.48,-4.40 5.50,-1.65 5.50,1.65 C5.50,5.22 2.75,6.60 0,6.60 C-2.75,6.60 -5.50,5.22 -5.50,1.65 C-5.50,-1.65 -2.48,-4.40 0,-9.35 Z" fill="#f07a3c" opacity="0.45" filter="url(#b15)" transform="translate(633.2,232.2) rotate(20) scale(1.3)"/><path d="M0,-9.35 C2.48,-4.40 5.50,-1.65 5.50,1.65 C5.50,5.22 2.75,6.60 0,6.60 C-2.75,6.60 -5.50,5.22 -5.50,1.65 C-5.50,-1.65 -2.48,-4.40 0,-9.35 Z" fill="#f07a3c" opacity="0.92" filter="url(#b1)" transform="translate(633.2,232.2) rotate(20)"/>
<path d="M0,-12.75 C3.38,-6.00 7.50,-2.25 7.50,2.25 C7.50,7.12 3.75,9.00 0,9.00 C-3.75,9.00 -7.50,7.12 -7.50,2.25 C-7.50,-2.25 -3.38,-6.00 0,-12.75 Z" fill="#f07c42" opacity="0.45" filter="url(#b15)" transform="translate(610.2,219.2) rotate(-40) scale(1.3)"/><path d="M0,-12.75 C3.38,-6.00 7.50,-2.25 7.50,2.25 C7.50,7.12 3.75,9.00 0,9.00 C-3.75,9.00 -7.50,7.12 -7.50,2.25 C-7.50,-2.25 -3.38,-6.00 0,-12.75 Z" fill="#f07c42" opacity="0.92" filter="url(#b1)" transform="translate(610.2,219.2) rotate(-40)"/>
<ellipse cx="666.2" cy="194.2" rx="1.8" ry="1.8" fill="#3434ff" filter="url(#b07)"/>
<ellipse cx="588.2" cy="199.2" rx="1.8" ry="1.8" fill="#6060f0" filter="url(#b07)"/>
<ellipse cx="626.2" cy="203.2" rx="1.4" ry="1.4" fill="#3434ff" filter="url(#b07)"/>
<ellipse cx="612.2" cy="208.2" rx="2.2" ry="2.2" fill="#3434ff" filter="url(#b07)"/>
<ellipse cx="623.2" cy="216.2" rx="1.8" ry="1.8" fill="#3434ff" filter="url(#b07)"/>
<ellipse cx="623.2" cy="222.2" rx="2.2" ry="2.2" fill="#3434ff" filter="url(#b07)"/>
<ellipse cx="586.2" cy="216.2" rx="2.7" ry="2.7" fill="#3434ff" filter="url(#b07)"/>
<ellipse cx="583.2" cy="213.2" rx="2.2" ry="1.8" fill="#3434ff" filter="url(#b07)"/>
<ellipse cx="622.2" cy="247.2" rx="1.8" ry="1.8" fill="#3434ff" filter="url(#b07)"/>
<ellipse cx="598.2" cy="253.2" rx="1.8" ry="1.8" fill="#3434ff" filter="url(#b07)"/>
<ellipse cx="596.2" cy="259.2" rx="2.2" ry="2.2" fill="#3434ff" filter="url(#b07)"/>
<ellipse cx="600.2" cy="260.2" rx="1.8" ry="1.8" fill="#3434ff" filter="url(#b07)"/>
<ellipse cx="624.2" cy="257.2" rx="1.4" ry="1.4" fill="#3434ff" filter="url(#b07)"/>
<ellipse cx="664.2" cy="255.2" rx="1.8" ry="1.8" fill="#3434ff" filter="url(#b07)"/>
<ellipse cx="639.2" cy="266.2" rx="2.2" ry="2.2" fill="#3434ff" filter="url(#b07)"/>
<ellipse cx="659.2" cy="248.2" rx="2.2" ry="2.2" fill="#3434ff" filter="url(#b07)"/>
<ellipse cx="651.2" cy="216.2" rx="1.8" ry="1.8" fill="#6a8a9a" filter="url(#b07)"/>

</g></g>
<rect x="628.10" y="205.50" width="34.80" height="34.10" fill="none" stroke="#e8e8e8" stroke-width="0.9" stroke-dasharray="1.6,1.1"/>
<clipPath id="mc3"><rect x="441.30" y="330.60" width="99.40" height="98.80"/></clipPath>
<g clip-path="url(#mc3)"><g filter="url(#soft)">
<rect x="441.30" y="330.60" width="99.40" height="98.80" fill="#3c2420"/>
<rect x="441.3" y="330.6" width="99.4" height="98.8" filter="url(#nzR2)" opacity="0.9"/>
<rect x="441.3" y="330.6" width="99.4" height="98.8" filter="url(#nzG)" opacity="0.5"/>
<rect x="441.3" y="330.6" width="99.4" height="98.8" filter="url(#nzD)" opacity="0.9"/>
<rect x="441" y="412" width="100" height="20" fill="#4e6038" opacity="0.75" filter="url(#b3)"/>
<circle cx="450" cy="338" r="16" fill="#180c0c" opacity="0.6" filter="url(#b5)"/>
<path d="M452,370 C480,366 510,361 541,356" stroke="#140808" stroke-width="2.5" fill="none" opacity="0.8" filter="url(#b1)"/>
<ellipse cx="505" cy="385" rx="30" ry="18" fill="#4a4a30" opacity="0.5" filter="url(#b5)"/>
<path d="M470,370 L490,400 M500,352 L520,385 M515,345 L540,378 M458,385 L470,410 M478,345 L492,365" stroke="#d83020" stroke-width="0.9" opacity="0.8" filter="url(#b05)"/>
<path d="M441,398 C460,400 480,402 492,403" stroke="#140808" stroke-width="2" fill="none" opacity="0.7" filter="url(#b1)"/>
<path d="M464.5,424.8L466.0,425.6M462.4,335.6L461.6,337.0M480.1,372.2L477.7,375.7M464.0,333.1L465.9,334.1M470.4,373.5L470.5,376.3M468.6,363.7L471.7,366.5M448.7,374.3L444.8,374.4M519.3,425.1L518.9,426.8M501.6,370.3L505.5,371.8M540.4,425.4L542.2,428.2M489.7,341.9L489.9,344.4M535.1,399.5L535.1,401.6M530.4,409.3L532.7,410.6M502.8,370.8L507.3,372.5M514.5,341.6L512.3,343.6M444.8,355.0L444.6,356.8M446.5,383.5L449.1,385.4M462.6,336.3L460.6,337.1M537.1,405.7L533.8,407.7M511.6,342.7L509.7,343.2M451.7,396.0L450.4,400.5M480.8,408.5L485.3,409.3M481.6,395.3L484.0,398.6M480.8,394.9L483.9,395.6M528.3,391.6L528.4,393.3" stroke="#d83020" stroke-width="0.65" stroke-linecap="round" opacity="0.6"/>
<circle cx="539.0" cy="400.6" r="0.76" fill="#d83020" opacity="0.8"/>
<circle cx="475.7" cy="386.6" r="0.53" fill="#d83020" opacity="0.8"/>
<circle cx="528.7" cy="412.4" r="0.79" fill="#d83020" opacity="0.8"/>
<circle cx="498.0" cy="346.7" r="0.55" fill="#d83020" opacity="0.8"/>
<circle cx="447.6" cy="359.6" r="0.75" fill="#d83020" opacity="0.8"/>
<circle cx="474.4" cy="385.6" r="0.49" fill="#d83020" opacity="0.8"/>
<circle cx="465.2" cy="359.7" r="0.71" fill="#d83020" opacity="0.8"/>
<circle cx="456.9" cy="398.3" r="0.63" fill="#d83020" opacity="0.8"/>
<circle cx="539.4" cy="369.2" r="0.65" fill="#d83020" opacity="0.8"/>
<circle cx="496.8" cy="333.9" r="0.48" fill="#d83020" opacity="0.8"/>
<circle cx="490.3" cy="339.1" r="0.54" fill="#d83020" opacity="0.8"/>
<circle cx="518.4" cy="397.9" r="0.61" fill="#d83020" opacity="0.8"/>
<circle cx="449.4" cy="369.4" r="0.57" fill="#d83020" opacity="0.8"/>
<circle cx="451.8" cy="378.1" r="0.63" fill="#d83020" opacity="0.8"/>
<circle cx="468.9" cy="356.8" r="0.54" fill="#d83020" opacity="0.8"/>
<circle cx="522.1" cy="379.5" r="0.59" fill="#d83020" opacity="0.8"/>
<circle cx="455.5" cy="390.6" r="0.74" fill="#d83020" opacity="0.8"/>
<circle cx="490.7" cy="347.9" r="0.60" fill="#d83020" opacity="0.8"/>
<circle cx="506.0" cy="360.9" r="0.69" fill="#d83020" opacity="0.8"/>
<circle cx="482.7" cy="384.1" r="0.60" fill="#d83020" opacity="0.8"/>
<circle cx="516.6" cy="395.4" r="0.65" fill="#d83020" opacity="0.8"/>
<circle cx="469.8" cy="393.4" r="0.67" fill="#d83020" opacity="0.8"/>
<circle cx="478.3" cy="359.2" r="0.71" fill="#d83020" opacity="0.8"/>
<circle cx="538.3" cy="349.1" r="0.77" fill="#d83020" opacity="0.8"/>
<circle cx="464.7" cy="412.7" r="0.71" fill="#d83020" opacity="0.8"/>
<circle cx="461.5" cy="392.4" r="0.73" fill="#d83020" opacity="0.8"/>
<circle cx="446.2" cy="424.1" r="0.49" fill="#d83020" opacity="0.8"/>
<circle cx="476.5" cy="401.9" r="0.41" fill="#d83020" opacity="0.8"/>
<circle cx="468.4" cy="414.0" r="0.71" fill="#d83020" opacity="0.8"/>
<circle cx="456.1" cy="355.1" r="0.68" fill="#d83020" opacity="0.8"/>
<circle cx="477.8" cy="421.3" r="0.48" fill="#d83020" opacity="0.8"/>
<circle cx="485.5" cy="361.8" r="0.52" fill="#d83020" opacity="0.8"/>
<circle cx="502.0" cy="362.4" r="0.50" fill="#d83020" opacity="0.8"/>
<circle cx="536.7" cy="422.3" r="0.52" fill="#d83020" opacity="0.8"/>
<circle cx="484.3" cy="416.3" r="0.42" fill="#d83020" opacity="0.8"/>
<circle cx="487.6" cy="362.1" r="0.78" fill="#d83020" opacity="0.8"/>
<circle cx="498.6" cy="412.2" r="0.51" fill="#d83020" opacity="0.8"/>
<circle cx="539.8" cy="427.0" r="0.42" fill="#d83020" opacity="0.8"/>
<circle cx="487.5" cy="365.2" r="0.54" fill="#d83020" opacity="0.8"/>
<circle cx="445.4" cy="376.2" r="0.71" fill="#d83020" opacity="0.8"/>
<circle cx="520.4" cy="356.8" r="0.63" fill="#d83020" opacity="0.8"/>
<circle cx="495.3" cy="374.6" r="0.51" fill="#d83020" opacity="0.8"/>
<circle cx="448.3" cy="341.4" r="0.50" fill="#d83020" opacity="0.8"/>
<circle cx="499.5" cy="362.4" r="0.80" fill="#d83020" opacity="0.8"/>
<circle cx="478.6" cy="403.6" r="0.71" fill="#d83020" opacity="0.8"/>
<circle cx="444.3" cy="388.6" r="0.58" fill="#d83020" opacity="0.8"/>
<circle cx="494.4" cy="390.9" r="0.47" fill="#d83020" opacity="0.8"/>
<circle cx="527.7" cy="395.6" r="0.42" fill="#d83020" opacity="0.8"/>
<circle cx="529.0" cy="418.6" r="0.44" fill="#d83020" opacity="0.8"/>
<circle cx="517.5" cy="346.1" r="0.60" fill="#d83020" opacity="0.8"/>
<circle cx="520.1" cy="350.6" r="0.63" fill="#d83020" opacity="0.8"/>
<circle cx="489.8" cy="422.9" r="0.40" fill="#d83020" opacity="0.8"/>
<circle cx="478.2" cy="342.7" r="0.44" fill="#d83020" opacity="0.8"/>
<circle cx="491.1" cy="373.2" r="0.63" fill="#d83020" opacity="0.8"/>
<circle cx="476.1" cy="368.1" r="0.41" fill="#d83020" opacity="0.8"/>
<circle cx="503.4" cy="384.3" r="0.80" fill="#d83020" opacity="0.8"/>
<circle cx="499.8" cy="415.8" r="0.64" fill="#d83020" opacity="0.8"/>
<circle cx="466.0" cy="356.9" r="0.45" fill="#d83020" opacity="0.8"/>
<circle cx="524.5" cy="428.5" r="0.52" fill="#d83020" opacity="0.8"/>
<circle cx="465.1" cy="387.6" r="0.67" fill="#d83020" opacity="0.8"/>
<path d="M441.3,372.6 L451.3,388.6 L461.3,405.6 L469.3,418.6" fill="none" stroke="#f03020" stroke-width="1.6" stroke-linecap="round" filter="url(#b05)"/>
<path d="M453.3,355.6 L461.3,370.6" fill="none" stroke="#e83020" stroke-width="1" stroke-linecap="round" filter="url(#b05)"/>
<path d="M476.3,375.6 L483.3,385.6" fill="none" stroke="#e83020" stroke-width="1" stroke-linecap="round" filter="url(#b05)"/>
<path d="M516.3,385.6 L531.3,400.6" fill="none" stroke="#e03020" stroke-width="0.9" stroke-linecap="round" filter="url(#b05)"/>
<path d="M458.3,342.6 L463.3,352.6" fill="none" stroke="#e03020" stroke-width="0.9" stroke-linecap="round" filter="url(#b05)"/>
<path d="M486.3,400.6 L501.3,415.6" fill="none" stroke="#d83020" stroke-width="0.8" stroke-linecap="round" filter="url(#b05)"/>
<path d="M441.3,367.6 L481.3,366.6 L511.3,364.6 L541.3,366.6" fill="none" stroke="#140808" stroke-width="1.6" stroke-linecap="round" filter="url(#b1)"/>
<path d="M529.3,378.6 L537.3,386.6" fill="none" stroke="#e83020" stroke-width="0.9" stroke-linecap="round" filter="url(#b05)"/>
<path d="M465.3,376.6 L469.3,390.6" fill="none" stroke="#d03020" stroke-width="0.8" stroke-linecap="round" filter="url(#b05)"/>
<ellipse cx="468.3" cy="349.6" rx="6.1" ry="6.1" fill="#b07a50" filter="url(#b15)" transform="rotate(0 468.3 349.6)" opacity="0.45"/>
<ellipse cx="468.3" cy="349.6" rx="4.5" ry="4.5" fill="#b07a50" filter="url(#b1)" transform="rotate(0 468.3 349.6)" opacity="0.9"/>
<ellipse cx="468.3" cy="349.6" rx="3.4" ry="3.4" fill="#7a9a70" filter="url(#b15)" transform="rotate(0 468.3 349.6)" opacity="0.45"/>
<ellipse cx="468.3" cy="349.6" rx="2.5" ry="2.5" fill="#7a9a70" filter="url(#b1)" transform="rotate(0 468.3 349.6)" opacity="0.9"/>
<ellipse cx="497.3" cy="391.6" rx="8.1" ry="7.4" fill="#f09040" filter="url(#b15)" transform="rotate(0 497.3 391.6)" opacity="0.45"/>
<ellipse cx="497.3" cy="391.6" rx="6.0" ry="5.5" fill="#f09040" filter="url(#b1)" transform="rotate(0 497.3 391.6)" opacity="0.9"/>
<ellipse cx="534.3" cy="402.6" rx="8.1" ry="8.1" fill="#e89040" filter="url(#b15)" transform="rotate(0 534.3 402.6)" opacity="0.45"/>
<ellipse cx="534.3" cy="402.6" rx="6.0" ry="6.0" fill="#e89040" filter="url(#b1)" transform="rotate(0 534.3 402.6)" opacity="0.9"/>
<ellipse cx="450.3" cy="410.6" rx="5.4" ry="5.4" fill="#a08060" filter="url(#b15)" transform="rotate(0 450.3 410.6)" opacity="0.45"/>
<ellipse cx="450.3" cy="410.6" rx="4.0" ry="4.0" fill="#a08060" filter="url(#b1)" transform="rotate(0 450.3 410.6)" opacity="0.9"/>
<ellipse cx="449.3" cy="420.6" rx="8.1" ry="6.8" fill="#d09040" filter="url(#b15)" transform="rotate(0 449.3 420.6)" opacity="0.45"/>
<ellipse cx="449.3" cy="420.6" rx="6.0" ry="5.0" fill="#d09040" filter="url(#b1)" transform="rotate(0 449.3 420.6)" opacity="0.9"/>
<ellipse cx="505.3" cy="420.6" rx="6.8" ry="6.1" fill="#d8a050" filter="url(#b15)" transform="rotate(0 505.3 420.6)" opacity="0.45"/>
<ellipse cx="505.3" cy="420.6" rx="5.0" ry="4.5" fill="#d8a050" filter="url(#b1)" transform="rotate(0 505.3 420.6)" opacity="0.9"/>
<ellipse cx="482.3" cy="403.6" rx="4.1" ry="4.1" fill="#40c040" filter="url(#b15)" transform="rotate(0 482.3 403.6)" opacity="0.45"/>
<ellipse cx="482.3" cy="403.6" rx="3.0" ry="3.0" fill="#40c040" filter="url(#b05)" transform="rotate(0 482.3 403.6)" opacity="0.9"/>
<path d="M0,-10.20 C2.70,-4.80 6.00,-1.80 6.00,1.80 C6.00,5.70 3.00,7.20 0,7.20 C-3.00,7.20 -6.00,5.70 -6.00,1.80 C-6.00,-1.80 -2.70,-4.80 0,-10.20 Z" fill="#e84028" opacity="0.45" filter="url(#b15)" transform="translate(496.3,342.6) rotate(180) scale(1.3)"/><path d="M0,-10.20 C2.70,-4.80 6.00,-1.80 6.00,1.80 C6.00,5.70 3.00,7.20 0,7.20 C-3.00,7.20 -6.00,5.70 -6.00,1.80 C-6.00,-1.80 -2.70,-4.80 0,-10.20 Z" fill="#e84028" opacity="0.92" filter="url(#b1)" transform="translate(496.3,342.6) rotate(180)"/>
<ellipse cx="482.3" cy="354.6" rx="1.8" ry="1.8" fill="#3434ff" filter="url(#b07)"/>
<ellipse cx="522.3" cy="361.6" rx="1.4" ry="2.7" fill="#3434ff" filter="url(#b07)"/>
<ellipse cx="525.3" cy="375.6" rx="2.7" ry="2.7" fill="#3434ff" filter="url(#b07)"/>
<ellipse cx="510.3" cy="377.6" rx="1.8" ry="2.2" fill="#8060c0" filter="url(#b07)"/>
<ellipse cx="470.3" cy="395.6" rx="1.4" ry="1.4" fill="#3434ff" filter="url(#b07)"/>
<ellipse cx="506.3" cy="406.6" rx="1.8" ry="1.8" fill="#3434ff" filter="url(#b07)"/>
<ellipse cx="498.3" cy="415.6" rx="2.2" ry="2.2" fill="#3434ff" filter="url(#b07)"/>
<ellipse cx="467.3" cy="349.6" rx="1.8" ry="1.8" fill="#5070b0" filter="url(#b07)"/>

</g></g>
<rect x="487.30" y="386.30" width="36.30" height="35.70" fill="none" stroke="#e8e8e8" stroke-width="0.9" stroke-dasharray="1.6,1.1"/>
<clipPath id="mc4"><rect x="571.50" y="330.60" width="99.20" height="99.50"/></clipPath>
<g clip-path="url(#mc4)"><g filter="url(#soft)">
<rect x="571.50" y="330.60" width="99.20" height="99.50" fill="#372a1e"/>
<rect x="571.5" y="330.6" width="99.2" height="99.5" filter="url(#nzR2)" opacity="0.7"/>
<rect x="571.5" y="330.6" width="99.2" height="99.5" filter="url(#nzG)" opacity="0.8"/>
<rect x="571.5" y="330.6" width="99.2" height="99.5" filter="url(#nzD)" opacity="0.9"/>
<ellipse cx="576" cy="404" rx="14" ry="20" fill="#3a9a28" opacity="0.7" filter="url(#b5)"/>
<ellipse cx="575" cy="408" rx="8" ry="12" fill="#50d030" opacity="0.9" filter="url(#b3)"/>
<ellipse cx="595" cy="352" rx="25" ry="8" fill="#1a1410" opacity="0.5" filter="url(#b3)"/>
<path d="M664.2,417.6L662.5,420.9M621.2,392.2L625.2,393.8M644.2,340.1L645.9,342.7M651.9,418.7L652.7,422.4M582.3,371.2L578.6,372.1M642.2,404.3L638.3,404.5M624.8,343.2L623.9,347.5M611.3,423.2L612.8,425.8M631.4,410.1L633.4,412.5M662.8,405.1L663.5,407.7M626.7,397.2L630.2,399.1M636.3,426.9L636.5,431.1M607.9,386.9L609.2,387.7M587.5,389.1L586.2,390.7M648.5,403.8L646.0,408.1M618.4,408.7L615.3,411.1M637.2,399.6L639.2,403.8M589.5,387.7L590.9,389.4M633.1,421.9L634.7,422.3M581.0,416.9L583.7,418.5M654.1,383.0L650.4,385.3M670.2,391.8L672.1,391.8M665.9,384.2L667.8,388.1M655.4,397.7L657.6,401.2M603.9,373.2L608.2,374.5M660.1,380.0L659.4,383.6M608.0,424.8L609.7,428.3M581.2,367.3L584.6,368.1M661.7,340.1L660.7,344.7M623.5,347.1L619.6,348.1M651.0,338.6L652.5,341.3M629.3,429.8L626.3,433.5M581.7,391.5L580.6,393.1M661.0,410.8L658.4,414.6M630.5,413.0L631.9,417.0" stroke="#c03020" stroke-width="0.65" stroke-linecap="round" opacity="0.6"/>
<circle cx="613.7" cy="365.9" r="0.70" fill="#c03020" opacity="0.8"/>
<circle cx="663.6" cy="394.7" r="0.42" fill="#c03020" opacity="0.8"/>
<circle cx="595.6" cy="397.2" r="0.53" fill="#c03020" opacity="0.8"/>
<circle cx="626.6" cy="383.3" r="0.77" fill="#c03020" opacity="0.8"/>
<circle cx="625.9" cy="379.0" r="0.71" fill="#c03020" opacity="0.8"/>
<circle cx="657.0" cy="386.1" r="0.49" fill="#c03020" opacity="0.8"/>
<circle cx="605.8" cy="422.6" r="0.44" fill="#c03020" opacity="0.8"/>
<circle cx="586.1" cy="388.3" r="0.56" fill="#c03020" opacity="0.8"/>
<circle cx="571.5" cy="367.2" r="0.57" fill="#c03020" opacity="0.8"/>
<circle cx="615.9" cy="357.0" r="0.52" fill="#c03020" opacity="0.8"/>
<circle cx="615.4" cy="375.0" r="0.65" fill="#c03020" opacity="0.8"/>
<circle cx="628.3" cy="376.2" r="0.50" fill="#c03020" opacity="0.8"/>
<circle cx="606.3" cy="390.3" r="0.75" fill="#c03020" opacity="0.8"/>
<circle cx="641.4" cy="344.3" r="0.45" fill="#c03020" opacity="0.8"/>
<circle cx="611.4" cy="410.6" r="0.64" fill="#c03020" opacity="0.8"/>
<circle cx="578.3" cy="364.2" r="0.68" fill="#c03020" opacity="0.8"/>
<circle cx="622.3" cy="422.6" r="0.44" fill="#c03020" opacity="0.8"/>
<circle cx="620.8" cy="423.2" r="0.51" fill="#c03020" opacity="0.8"/>
<circle cx="588.5" cy="416.0" r="0.52" fill="#c03020" opacity="0.8"/>
<circle cx="595.1" cy="336.0" r="0.80" fill="#c03020" opacity="0.8"/>
<circle cx="639.6" cy="354.5" r="0.52" fill="#c03020" opacity="0.8"/>
<circle cx="667.8" cy="356.1" r="0.74" fill="#c03020" opacity="0.8"/>
<circle cx="651.8" cy="349.0" r="0.44" fill="#c03020" opacity="0.8"/>
<circle cx="650.4" cy="419.1" r="0.45" fill="#c03020" opacity="0.8"/>
<circle cx="663.6" cy="359.9" r="0.66" fill="#c03020" opacity="0.8"/>
<circle cx="645.7" cy="390.2" r="0.72" fill="#c03020" opacity="0.8"/>
<circle cx="602.5" cy="377.2" r="0.70" fill="#c03020" opacity="0.8"/>
<circle cx="588.1" cy="363.9" r="0.63" fill="#c03020" opacity="0.8"/>
<circle cx="666.4" cy="347.9" r="0.58" fill="#c03020" opacity="0.8"/>
<circle cx="633.0" cy="387.9" r="0.77" fill="#c03020" opacity="0.8"/>
<circle cx="606.8" cy="351.2" r="0.80" fill="#c03020" opacity="0.8"/>
<circle cx="590.9" cy="361.2" r="0.54" fill="#c03020" opacity="0.8"/>
<circle cx="616.6" cy="398.3" r="0.67" fill="#c03020" opacity="0.8"/>
<circle cx="594.7" cy="381.3" r="0.53" fill="#c03020" opacity="0.8"/>
<circle cx="655.7" cy="395.9" r="0.60" fill="#c03020" opacity="0.8"/>
<circle cx="594.7" cy="395.9" r="0.58" fill="#c03020" opacity="0.8"/>
<circle cx="664.0" cy="347.1" r="0.41" fill="#c03020" opacity="0.8"/>
<circle cx="595.9" cy="367.9" r="0.70" fill="#c03020" opacity="0.8"/>
<circle cx="655.6" cy="423.0" r="0.54" fill="#c03020" opacity="0.8"/>
<circle cx="645.0" cy="347.2" r="0.76" fill="#c03020" opacity="0.8"/>
<circle cx="627.2" cy="417.5" r="0.47" fill="#c03020" opacity="0.8"/>
<circle cx="610.2" cy="406.1" r="0.78" fill="#c03020" opacity="0.8"/>
<circle cx="614.0" cy="387.3" r="0.77" fill="#c03020" opacity="0.8"/>
<circle cx="642.3" cy="394.1" r="0.45" fill="#c03020" opacity="0.8"/>
<circle cx="617.6" cy="381.1" r="0.51" fill="#c03020" opacity="0.8"/>
<circle cx="587.7" cy="366.9" r="0.75" fill="#c03020" opacity="0.8"/>
<circle cx="631.5" cy="410.0" r="0.72" fill="#c03020" opacity="0.8"/>
<circle cx="580.4" cy="349.1" r="0.51" fill="#c03020" opacity="0.8"/>
<circle cx="624.6" cy="405.2" r="0.46" fill="#c03020" opacity="0.8"/>
<circle cx="604.0" cy="368.9" r="0.68" fill="#c03020" opacity="0.8"/>
<path d="M636.5,375.6 L643.5,392.6 L651.5,410.6" fill="none" stroke="#d03020" stroke-width="0.9" stroke-linecap="round" filter="url(#b05)"/>
<path d="M646.5,390.6 L656.5,408.6 L666.5,425.6" fill="none" stroke="#d03020" stroke-width="0.9" stroke-linecap="round" filter="url(#b05)"/>
<path d="M631.5,380.6 L639.5,400.6 L646.5,420.6" fill="none" stroke="#e08030" stroke-width="0.8" stroke-linecap="round" filter="url(#b05)"/>
<ellipse cx="660.5" cy="380.6" rx="8.1" ry="6.8" fill="#60e040" filter="url(#b15)" transform="rotate(0 660.5 380.6)" opacity="0.45"/>
<ellipse cx="660.5" cy="380.6" rx="6.0" ry="5.0" fill="#60e040" filter="url(#b1)" transform="rotate(0 660.5 380.6)" opacity="0.9"/>
<ellipse cx="575.5" cy="387.6" rx="8.1" ry="8.1" fill="#c0d040" filter="url(#b15)" transform="rotate(0 575.5 387.6)" opacity="0.45"/>
<ellipse cx="575.5" cy="387.6" rx="6.0" ry="6.0" fill="#c0d040" filter="url(#b1)" transform="rotate(0 575.5 387.6)" opacity="0.9"/>
<ellipse cx="617.5" cy="350.6" rx="8.1" ry="7.4" fill="#e88030" filter="url(#b15)" transform="rotate(0 617.5 350.6)" opacity="0.45"/>
<ellipse cx="617.5" cy="350.6" rx="6.0" ry="5.5" fill="#e88030" filter="url(#b1)" transform="rotate(0 617.5 350.6)" opacity="0.9"/>
<ellipse cx="579.5" cy="341.6" rx="4.1" ry="4.1" fill="#e07030" filter="url(#b15)" transform="rotate(0 579.5 341.6)" opacity="0.45"/>
<ellipse cx="579.5" cy="341.6" rx="3.0" ry="3.0" fill="#e07030" filter="url(#b1)" transform="rotate(0 579.5 341.6)" opacity="0.9"/>
<ellipse cx="604.5" cy="385.6" rx="8.1" ry="7.4" fill="#f09030" filter="url(#b15)" transform="rotate(0 604.5 385.6)" opacity="0.45"/>
<ellipse cx="604.5" cy="385.6" rx="6.0" ry="5.5" fill="#f09030" filter="url(#b1)" transform="rotate(0 604.5 385.6)" opacity="0.9"/>
<ellipse cx="614.5" cy="423.6" rx="8.1" ry="6.8" fill="#d09030" filter="url(#b15)" transform="rotate(0 614.5 423.6)" opacity="0.45"/>
<ellipse cx="614.5" cy="423.6" rx="6.0" ry="5.0" fill="#d09030" filter="url(#b1)" transform="rotate(0 614.5 423.6)" opacity="0.9"/>
<ellipse cx="593.5" cy="388.6" rx="4.1" ry="4.1" fill="#ff3030" filter="url(#b15)" transform="rotate(0 593.5 388.6)" opacity="0.45"/>
<ellipse cx="593.5" cy="388.6" rx="3.0" ry="3.0" fill="#ff3030" filter="url(#b1)" transform="rotate(0 593.5 388.6)" opacity="0.9"/>
<ellipse cx="577.5" cy="410.6" rx="6.8" ry="10.8" fill="#58d838" filter="url(#b15)" transform="rotate(0 577.5 410.6)" opacity="0.45"/>
<ellipse cx="577.5" cy="410.6" rx="5.0" ry="8.0" fill="#58d838" filter="url(#b2)" transform="rotate(0 577.5 410.6)" opacity="0.9"/>
<path d="M0,-11.90 C3.15,-5.60 7.00,-2.10 7.00,2.10 C7.00,6.65 3.50,8.40 0,8.40 C-3.50,8.40 -7.00,6.65 -7.00,2.10 C-7.00,-2.10 -3.15,-5.60 0,-11.90 Z" fill="#f08a30" opacity="0.45" filter="url(#b15)" transform="translate(650.5,340.6) rotate(160) scale(1.3)"/><path d="M0,-11.90 C3.15,-5.60 7.00,-2.10 7.00,2.10 C7.00,6.65 3.50,8.40 0,8.40 C-3.50,8.40 -7.00,6.65 -7.00,2.10 C-7.00,-2.10 -3.15,-5.60 0,-11.90 Z" fill="#f08a30" opacity="0.92" filter="url(#b1)" transform="translate(650.5,340.6) rotate(160)"/>
<path d="M0,-10.80 C2.02,-3.60 4.50,-1.35 4.50,1.35 C4.50,4.27 2.25,5.40 0,5.40 C-2.25,5.40 -4.50,4.27 -4.50,1.35 C-4.50,-1.35 -2.02,-3.60 0,-10.80 Z" fill="#b07058" opacity="0.45" filter="url(#b15)" transform="translate(624.5,378.6) rotate(170) scale(1.3)"/><path d="M0,-10.80 C2.02,-3.60 4.50,-1.35 4.50,1.35 C4.50,4.27 2.25,5.40 0,5.40 C-2.25,5.40 -4.50,4.27 -4.50,1.35 C-4.50,-1.35 -2.02,-3.60 0,-10.80 Z" fill="#b07058" opacity="0.92" filter="url(#b1)" transform="translate(624.5,378.6) rotate(170)"/>
<ellipse cx="581.5" cy="331.6" rx="2.2" ry="1.8" fill="#3434ff" filter="url(#b07)"/>
<ellipse cx="575.5" cy="339.6" rx="1.8" ry="1.8" fill="#3434ff" filter="url(#b07)"/>
<ellipse cx="580.5" cy="347.6" rx="2.2" ry="2.2" fill="#3434ff" filter="url(#b07)"/>
<ellipse cx="621.5" cy="353.6" rx="2.2" ry="2.2" fill="#3434ff" filter="url(#b07)"/>
<ellipse cx="600.5" cy="371.6" rx="2.2" ry="2.2" fill="#3434ff" filter="url(#b07)"/>
<ellipse cx="603.5" cy="377.6" rx="2.2" ry="1.8" fill="#3434ff" filter="url(#b07)"/>
<ellipse cx="615.5" cy="369.6" rx="1.8" ry="1.8" fill="#3434ff" filter="url(#b07)"/>
<ellipse cx="591.5" cy="408.6" rx="2.2" ry="1.8" fill="#3434ff" filter="url(#b07)"/>
<ellipse cx="589.5" cy="416.6" rx="2.2" ry="2.2" fill="#3434ff" filter="url(#b07)"/>
<ellipse cx="605.5" cy="404.6" rx="1.8" ry="1.8" fill="#3434ff" filter="url(#b07)"/>
<ellipse cx="641.5" cy="412.6" rx="1.8" ry="1.8" fill="#3434ff" filter="url(#b07)"/>
<ellipse cx="643.5" cy="427.6" rx="2.2" ry="1.8" fill="#3434ff" filter="url(#b07)"/>
<ellipse cx="664.5" cy="382.6" rx="1.8" ry="1.8" fill="#3434ff" filter="url(#b07)"/>
<ellipse cx="624.5" cy="376.6" rx="2.2" ry="2.7" fill="#6050c0" filter="url(#b07)"/>

</g></g>
<rect x="598.10" y="362.90" width="32.60" height="32.30" fill="none" stroke="#e8e8e8" stroke-width="0.9" stroke-dasharray="1.6,1.1"/>
<text x="647.20" y="420.61" font-size="9.2" text-anchor="middle" fill="#f4f4f4" stroke="#f4f4f4" stroke-width="0.30">100 µm</text>
<rect x="630.10" y="422.70" width="34.30" height="1.60" fill="#e0e0e0"/>
<clipPath id="tc5"><rect x="429.20" y="286.10" width="38.90" height="38.20"/></clipPath>
<g clip-path="url(#tc5)">
<rect x="429.20" y="286.10" width="38.90" height="38.20" fill="#383838"/>
<rect x="429.20" y="286.10" width="38.90" height="38.20" filter="url(#nzW)" opacity="0.85"/>
<path d="M430.2,300.1 L434.2,295.1 L439.2,292.1 L444.2,294.1" fill="none" stroke="#9a9a9a" stroke-width="1.17" stroke-linejoin="round" filter="url(#b07)" opacity="0.8"/>
<path d="M455.2,290.1 L457.2,300.1 L458.2,310.1 L460.2,320.1" fill="none" stroke="#8a8a8a" stroke-width="1.17" stroke-linejoin="round" filter="url(#b07)" opacity="0.8"/>
<path d="M432.2,316.1 L437.2,312.1 L443.2,313.1" fill="none" stroke="#7a7a7a" stroke-width="1.04" stroke-linejoin="round" filter="url(#b07)" opacity="0.8"/>
<path d="M446.2,304.1 L450.2,312.1 L454.2,318.1" fill="none" stroke="#7a7a7a" stroke-width="1.04" stroke-linejoin="round" filter="url(#b07)" opacity="0.8"/>
<ellipse cx="433.2" cy="291.1" rx="4.0" ry="4.0" fill="#7a7a7a" filter="url(#b1)" transform="rotate(0 433.2 291.1)"/>
<ellipse cx="462.2" cy="295.1" rx="3.3" ry="7.6" fill="#a8a8a8" filter="url(#b1)" transform="rotate(0 462.2 295.1)"/>
<ellipse cx="449.2" cy="295.1" rx="2.0" ry="3.5" fill="#909090" filter="url(#b1)" transform="rotate(0 449.2 295.1)"/>
<ellipse cx="439.2" cy="306.1" rx="3.5" ry="4.5" fill="#808080" filter="url(#b1)" transform="rotate(0 439.2 306.1)"/>
<ellipse cx="445.2" cy="319.1" rx="2.5" ry="3.5" fill="#b0b0b0" filter="url(#b1)" transform="rotate(0 445.2 319.1)"/>
<ellipse cx="457.2" cy="308.1" rx="1.2" ry="9.0" fill="#707070" filter="url(#b1)" transform="rotate(-15 457.2 308.1)"/>
<ellipse cx="451.2" cy="301.1" rx="1.0" ry="7.0" fill="#6a6a6a" filter="url(#b1)" transform="rotate(40 451.2 301.1)"/>
</g>
<text x="466.30" y="322.08" font-size="6.6" text-anchor="end" fill="#f8f8f8" stroke="#f8f8f8" stroke-width="0.14">MAP2</text>
<clipPath id="tc6"><rect x="469.20" y="286.10" width="37.80" height="38.20"/></clipPath>
<g clip-path="url(#tc6)">
<rect x="469.20" y="286.10" width="37.80" height="38.20" fill="#383838"/>
<rect x="469.20" y="286.10" width="37.80" height="38.20" filter="url(#nzW)" opacity="0.85"/>
<ellipse cx="502.2" cy="293.6" rx="3.5" ry="7.0" fill="#e0e0e0" filter="url(#b1)" transform="rotate(8 502.2 293.6)"/>
<ellipse cx="476.2" cy="291.1" rx="3.8" ry="4.5" fill="#8e8e8e" filter="url(#b1)" transform="rotate(0 476.2 291.1)"/>
<ellipse cx="487.7" cy="295.1" rx="2.3" ry="2.8" fill="#888888" filter="url(#b1)" transform="rotate(0 487.7 295.1)"/>
<ellipse cx="497.7" cy="300.6" rx="2.5" ry="2.8" fill="#888888" filter="url(#b1)" transform="rotate(0 497.7 300.6)"/>
<ellipse cx="480.2" cy="308.1" rx="4.0" ry="5.5" fill="#767676" filter="url(#b1)" transform="rotate(0 480.2 308.1)"/>
<ellipse cx="486.2" cy="319.1" rx="3.0" ry="3.0" fill="#a8a8a8" filter="url(#b1)" transform="rotate(0 486.2 319.1)"/>
</g>
<text x="505.20" y="322.08" font-size="6.6" text-anchor="end" fill="#f8f8f8" stroke="#f8f8f8" stroke-width="0.14">ERRα</text>
<clipPath id="tc7"><rect x="508.10" y="286.10" width="38.70" height="38.20"/></clipPath>
<g clip-path="url(#tc7)">
<rect x="508.10" y="286.10" width="38.70" height="38.20" fill="#2e2e2e"/>
<rect x="508.10" y="286.10" width="38.70" height="38.20" filter="url(#nzW)" opacity="0.85"/>
<ellipse cx="516.7" cy="294.7" rx="3.3" ry="3.8" fill="#727272" filter="url(#b1)" transform="rotate(0 516.7 294.7)"/>
<ellipse cx="543.7" cy="292.6" rx="2.8" ry="4.8" fill="#828282" filter="url(#b1)" transform="rotate(0 543.7 292.6)"/>
<ellipse cx="538.5" cy="302.1" rx="2.5" ry="3.0" fill="#808080" filter="url(#b1)" transform="rotate(0 538.5 302.1)"/>
<ellipse cx="522.1" cy="311.9" rx="3.0" ry="3.3" fill="#707070" filter="url(#b1)" transform="rotate(0 522.1 311.9)"/>
<ellipse cx="527.6" cy="320.1" rx="3.0" ry="3.0" fill="#8a8a8a" filter="url(#b1)" transform="rotate(0 527.6 320.1)"/>
</g>
<text x="545.00" y="322.08" font-size="6.6" text-anchor="end" fill="#f8f8f8" stroke="#f8f8f8" stroke-width="0.14">DAPI</text>
<clipPath id="tc8"><rect x="560.10" y="285.70" width="38.90" height="38.90"/></clipPath>
<g clip-path="url(#tc8)">
<rect x="560.10" y="285.70" width="38.90" height="38.90" fill="#404040"/>
<rect x="560.10" y="285.70" width="38.90" height="38.90" filter="url(#nzW)" opacity="0.85"/>
<path d="M562.1,305.7 L566.1,301.7 L574.1,303.7 L580.1,309.7" fill="none" stroke="#8a8a8a" stroke-width="1.17" stroke-linejoin="round" filter="url(#b07)" opacity="0.8"/>
<path d="M578.1,315.7 L584.1,321.7" fill="none" stroke="#8a8a8a" stroke-width="1.04" stroke-linejoin="round" filter="url(#b07)" opacity="0.8"/>
<ellipse cx="586.1" cy="295.7" rx="8.5" ry="6.5" fill="#e0e0e0" filter="url(#b1)" transform="rotate(0 586.1 295.7)"/>
<ellipse cx="583.1" cy="297.7" rx="3.0" ry="2.5" fill="#707070" filter="url(#b1)" transform="rotate(0 583.1 297.7)"/>
<ellipse cx="593.1" cy="309.7" rx="2.5" ry="10.0" fill="#a0a0a0" filter="url(#b1)" transform="rotate(-25 593.1 309.7)"/>
<ellipse cx="570.1" cy="309.7" rx="5.0" ry="5.0" fill="#d0d0d0" filter="url(#b1)" transform="rotate(0 570.1 309.7)"/>
<ellipse cx="563.1" cy="299.7" rx="2.5" ry="3.0" fill="#b0b0b0" filter="url(#b1)" transform="rotate(0 563.1 299.7)"/>
<ellipse cx="572.1" cy="315.7" rx="6.0" ry="4.0" fill="#6a6a6a" filter="url(#b1)" transform="rotate(0 572.1 315.7)"/>
</g>
<text x="597.20" y="322.38" font-size="6.6" text-anchor="end" fill="#f8f8f8" stroke="#f8f8f8" stroke-width="0.14">MAP2</text>
<clipPath id="tc9"><rect x="600.00" y="285.70" width="38.50" height="38.90"/></clipPath>
<g clip-path="url(#tc9)">
<rect x="600.00" y="285.70" width="38.50" height="38.90" fill="#363636"/>
<rect x="600.00" y="285.70" width="38.50" height="38.90" filter="url(#nzW)" opacity="0.85"/>
<ellipse cx="626.0" cy="296.2" rx="8.5" ry="8.0" fill="#c0c0c0" filter="url(#b1)" transform="rotate(0 626.0 296.2)"/>
<ellipse cx="610.0" cy="313.2" rx="6.0" ry="8.5" fill="#8a8a8a" filter="url(#b1)" transform="rotate(0 610.0 313.2)"/>
<ellipse cx="633.0" cy="309.7" rx="2.0" ry="8.0" fill="#5a5a5a" filter="url(#b1)" transform="rotate(-30 633.0 309.7)"/>
</g>
<text x="636.70" y="322.38" font-size="6.6" text-anchor="end" fill="#f8f8f8" stroke="#f8f8f8" stroke-width="0.14">ERRα</text>
<clipPath id="tc10"><rect x="639.80" y="285.70" width="38.90" height="38.90"/></clipPath>
<g clip-path="url(#tc10)">
<rect x="639.80" y="285.70" width="38.90" height="38.90" fill="#383838"/>
<rect x="639.80" y="285.70" width="38.90" height="38.90" filter="url(#nzW)" opacity="0.85"/>
<ellipse cx="665.8" cy="298.7" rx="4.7" ry="4.3" fill="#c8c8c8" filter="url(#b1)" transform="rotate(0 665.8 298.7)"/>
<ellipse cx="647.8" cy="315.7" rx="4.0" ry="5.0" fill="#a0a0a0" filter="url(#b1)" transform="rotate(0 647.8 315.7)"/>
<ellipse cx="640.8" cy="310.7" rx="2.0" ry="3.0" fill="#8a8a8a" filter="url(#b1)" transform="rotate(0 640.8 310.7)"/>
</g>
<text x="676.90" y="322.38" font-size="6.6" text-anchor="end" fill="#f8f8f8" stroke="#f8f8f8" stroke-width="0.14">DAPI</text>
<clipPath id="tc11"><rect x="429.30" y="431.40" width="39.10" height="39.20"/></clipPath>
<g clip-path="url(#tc11)">
<rect x="429.30" y="431.40" width="39.10" height="39.20" fill="#3c3c3c"/>
<rect x="429.30" y="431.40" width="39.10" height="39.20" filter="url(#nzW)" opacity="0.85"/>
<path d="M431.3,451.4 L439.3,449.4 L447.3,453.4" fill="none" stroke="#808080" stroke-width="1.04" stroke-linejoin="round" filter="url(#b07)" opacity="0.8"/>
<path d="M453.3,433.4 L459.3,439.4 L465.3,445.4" fill="none" stroke="#9a9a9a" stroke-width="1.04" stroke-linejoin="round" filter="url(#b07)" opacity="0.8"/>
<path d="M432.3,467.4 L437.3,461.4" fill="none" stroke="#8a8a8a" stroke-width="1.04" stroke-linejoin="round" filter="url(#b07)" opacity="0.8"/>
<ellipse cx="439.3" cy="436.9" rx="5.7" ry="5.3" fill="#d8d8d8" filter="url(#b1)" transform="rotate(0 439.3 436.9)"/>
<ellipse cx="442.8" cy="461.4" rx="2.5" ry="4.0" fill="#e0e0e0" filter="url(#b1)" transform="rotate(0 442.8 461.4)"/>
<ellipse cx="447.8" cy="465.4" rx="2.5" ry="3.3" fill="#b0b0b0" filter="url(#b1)" transform="rotate(0 447.8 465.4)"/>
<ellipse cx="463.3" cy="439.4" rx="1.0" ry="8.0" fill="#909090" filter="url(#b1)" transform="rotate(-35 463.3 439.4)"/>
<ellipse cx="457.3" cy="453.4" rx="3.0" ry="3.0" fill="#6a6a6a" filter="url(#b1)" transform="rotate(0 457.3 453.4)"/>
<ellipse cx="449.3" cy="443.4" rx="18.0" ry="1.0" fill="#2a2a2a" filter="url(#b1)" transform="rotate(0 449.3 443.4)"/>
</g>
<text x="466.60" y="468.38" font-size="6.6" text-anchor="end" fill="#f8f8f8" stroke="#f8f8f8" stroke-width="0.14">MAP2</text>
<clipPath id="tc12"><rect x="469.90" y="431.40" width="38.80" height="39.20"/></clipPath>
<g clip-path="url(#tc12)">
<rect x="469.90" y="431.40" width="38.80" height="39.20" fill="#3a3a3a"/>
<rect x="469.90" y="431.40" width="38.80" height="39.20" filter="url(#nzW)" opacity="0.85"/>
<ellipse cx="478.6" cy="437.4" rx="5.2" ry="4.8" fill="#b8b8b8" filter="url(#b1)" transform="rotate(0 478.6 437.4)"/>
<ellipse cx="481.9" cy="461.4" rx="3.8" ry="4.3" fill="#b0b0b0" filter="url(#b1)" transform="rotate(0 481.9 461.4)"/>
<ellipse cx="486.9" cy="465.9" rx="3.3" ry="2.8" fill="#c8c8c8" filter="url(#b1)" transform="rotate(0 486.9 465.9)"/>
<ellipse cx="497.9" cy="458.9" rx="2.8" ry="2.5" fill="#707070" filter="url(#b1)" transform="rotate(0 497.9 458.9)"/>
<ellipse cx="489.9" cy="443.4" rx="18.0" ry="1.0" fill="#2a2a2a" filter="url(#b1)" transform="rotate(0 489.9 443.4)"/>
</g>
<text x="506.90" y="468.38" font-size="6.6" text-anchor="end" fill="#f8f8f8" stroke="#f8f8f8" stroke-width="0.14">ERRα</text>
<clipPath id="tc13"><rect x="510.10" y="431.40" width="39.80" height="39.20"/></clipPath>
<g clip-path="url(#tc13)">
<rect x="510.10" y="431.40" width="39.80" height="39.20" fill="#383838"/>
<rect x="510.10" y="431.40" width="39.80" height="39.20" filter="url(#nzW)" opacity="0.85"/>
<ellipse cx="530.1" cy="451.4" rx="2.0" ry="2.0" fill="#f4f4f4" filter="url(#b05)" transform="rotate(0 530.1 451.4)"/>
<ellipse cx="521.8" cy="461.4" rx="2.0" ry="3.3" fill="#f4f4f4" filter="url(#b05)" transform="rotate(0 521.8 461.4)"/>
<ellipse cx="529.1" cy="467.4" rx="3.0" ry="2.4" fill="#b0b0b0" filter="url(#b1)" transform="rotate(0 529.1 467.4)"/>
<ellipse cx="521.1" cy="434.9" rx="2.3" ry="2.4" fill="#8a8a8a" filter="url(#b1)" transform="rotate(0 521.1 434.9)"/>
<ellipse cx="541.7" cy="458.9" rx="2.0" ry="2.5" fill="#666666" filter="url(#b1)" transform="rotate(0 541.7 458.9)"/>
</g>
<text x="548.10" y="468.38" font-size="6.6" text-anchor="end" fill="#f8f8f8" stroke="#f8f8f8" stroke-width="0.14">DAPI</text>
<clipPath id="tc14"><rect x="560.00" y="431.60" width="38.60" height="38.60"/></clipPath>
<g clip-path="url(#tc14)">
<rect x="560.00" y="431.60" width="38.60" height="38.60" fill="#454545"/>
<rect x="560.00" y="431.60" width="38.60" height="38.60" filter="url(#nzW)" opacity="0.85"/>
<path d="M562.0,437.6 L570.0,434.6 L578.0,437.6" fill="none" stroke="#9a9a9a" stroke-width="1.04" stroke-linejoin="round" filter="url(#b07)" opacity="0.8"/>
<path d="M580.0,445.6 L586.0,455.6 L590.0,465.6" fill="none" stroke="#8a8a8a" stroke-width="1.17" stroke-linejoin="round" filter="url(#b07)" opacity="0.8"/>
<path d="M564.0,447.6 L572.0,445.6" fill="none" stroke="#8a8a8a" stroke-width="1.04" stroke-linejoin="round" filter="url(#b07)" opacity="0.8"/>
<ellipse cx="570.0" cy="455.6" rx="7.0" ry="6.6" fill="#d0d0d0" filter="url(#b1)" transform="rotate(0 570.0 455.6)"/>
<ellipse cx="584.0" cy="439.6" rx="4.0" ry="3.0" fill="#a8a8a8" filter="url(#b1)" transform="rotate(0 584.0 439.6)"/>
<ellipse cx="590.0" cy="453.6" rx="6.0" ry="12.0" fill="#6e6e6e" filter="url(#b1)" transform="rotate(0 590.0 453.6)"/>
<ellipse cx="562.0" cy="465.6" rx="2.5" ry="3.0" fill="#c8c8c8" filter="url(#b1)" transform="rotate(0 562.0 465.6)"/>
<ellipse cx="570.0" cy="439.6" rx="6.0" ry="4.0" fill="#5e5e5e" filter="url(#b1)" transform="rotate(0 570.0 439.6)"/>
</g>
<text x="596.80" y="467.98" font-size="6.6" text-anchor="end" fill="#f8f8f8" stroke="#f8f8f8" stroke-width="0.14">MAP2</text>
<clipPath id="tc15"><rect x="600.00" y="431.60" width="38.70" height="38.60"/></clipPath>
<g clip-path="url(#tc15)">
<rect x="600.00" y="431.60" width="38.70" height="38.60" fill="#424242"/>
<rect x="600.00" y="431.60" width="38.70" height="38.60" filter="url(#nzW)" opacity="0.85"/>
<ellipse cx="608.5" cy="455.6" rx="7.0" ry="6.3" fill="#b8b8b8" filter="url(#b1)" transform="rotate(0 608.5 455.6)"/>
<ellipse cx="624.0" cy="439.6" rx="4.0" ry="3.0" fill="#909090" filter="url(#b1)" transform="rotate(0 624.0 439.6)"/>
<ellipse cx="630.0" cy="453.6" rx="6.0" ry="12.0" fill="#666666" filter="url(#b1)" transform="rotate(0 630.0 453.6)"/>
<ellipse cx="610.0" cy="439.6" rx="6.0" ry="4.0" fill="#585858" filter="url(#b1)" transform="rotate(0 610.0 439.6)"/>
</g>
<text x="636.90" y="467.98" font-size="6.6" text-anchor="end" fill="#f8f8f8" stroke="#f8f8f8" stroke-width="0.14">ERRα</text>
<clipPath id="tc16"><rect x="640.10" y="431.60" width="38.60" height="38.60"/></clipPath>
<g clip-path="url(#tc16)">
<rect x="640.10" y="431.60" width="38.60" height="38.60" fill="#333333"/>
<rect x="640.10" y="431.60" width="38.60" height="38.60" filter="url(#nzW)" opacity="0.85"/>
<ellipse cx="645.6" cy="441.3" rx="3.3" ry="2.9" fill="#f0f0f0" filter="url(#b05)" transform="rotate(0 645.6 441.3)"/>
<ellipse cx="662.1" cy="437.8" rx="2.0" ry="2.0" fill="#d8d8d8" filter="url(#b05)" transform="rotate(0 662.1 437.8)"/>
<ellipse cx="649.4" cy="448.1" rx="2.3" ry="2.2" fill="#f0f0f0" filter="url(#b05)" transform="rotate(0 649.4 448.1)"/>
<ellipse cx="670.8" cy="447.4" rx="4.7" ry="5.2" fill="#8a8a8a" filter="url(#b1)" transform="rotate(0 670.8 447.4)"/>
<ellipse cx="649.9" cy="455.9" rx="3.8" ry="4.3" fill="#707070" filter="url(#b1)" transform="rotate(0 649.9 455.9)"/>
</g>
<text x="676.90" y="467.98" font-size="6.6" text-anchor="end" fill="#f8f8f8" stroke="#f8f8f8" stroke-width="0.14">DAPI</text>
<text x="0" y="0" font-size="7.4" stroke="#000" stroke-width="0.2" text-anchor="middle" transform="translate(433.60,236.80) rotate(-90)" dy="2.6">Male, Non-dementia</text>
<text x="0" y="0" font-size="7.4" stroke="#000" stroke-width="0.2" text-anchor="middle" transform="translate(563.80,237.30) rotate(-90)" dy="2.6">Male, LOAD</text>
<text x="0" y="0" font-size="7.4" stroke="#000" stroke-width="0.2" text-anchor="middle" transform="translate(433.60,380.00) rotate(-90)" dy="2.6">Female, Non-dementia</text>
<text x="0" y="0" font-size="7.4" stroke="#000" stroke-width="0.2" text-anchor="middle" transform="translate(562.90,383.60) rotate(-90)" dy="2.6">Female, LOAD</text>
<rect x="502.70" y="484.20" width="50.00" height="11.70" fill="#ff2222" stroke="#8a8a8a" stroke-width="0.8"/>
<text x="497.40" y="492.71" font-size="7.4" text-anchor="end" fill="#222" stroke="#222" stroke-width="0.22">Male, Non-dementia</text>
<rect x="502.70" y="497.30" width="41.67" height="11.60" fill="#2222ff" stroke="#8a8a8a" stroke-width="0.8"/>
<text x="497.40" y="505.76" font-size="7.4" text-anchor="end" fill="#222" stroke="#222" stroke-width="0.22">Male, LOAD</text>
<rect x="502.70" y="510.30" width="41.67" height="11.50" fill="#2a8a2a" stroke="#8a8a8a" stroke-width="0.8"/>
<text x="497.40" y="518.71" font-size="7.4" text-anchor="end" fill="#222" stroke="#222" stroke-width="0.22">Female, Non-dementia</text>
<rect x="502.70" y="523.20" width="27.16" height="11.10" fill="#d4d4d4" stroke="#8a8a8a" stroke-width="0.8"/>
<text x="497.40" y="531.41" font-size="7.4" text-anchor="end" fill="#222" stroke="#222" stroke-width="0.22">Female, LOAD</text>
<circle cx="542.00" cy="488.94" r="0.85" fill="#111"/>
<circle cx="553.07" cy="486.36" r="0.85" fill="#111"/>
<circle cx="535.20" cy="488.00" r="0.85" fill="#111"/>
<circle cx="541.89" cy="489.80" r="0.85" fill="#111"/>
<circle cx="560.10" cy="491.23" r="0.85" fill="#111"/>
<circle cx="539.36" cy="493.18" r="0.85" fill="#111"/>
<circle cx="550.62" cy="491.51" r="0.85" fill="#111"/>
<circle cx="536.74" cy="490.82" r="0.85" fill="#111"/>
<circle cx="548.31" cy="493.16" r="0.85" fill="#111"/>
<circle cx="549.10" cy="493.27" r="0.85" fill="#111"/>
<circle cx="556.40" cy="489.16" r="0.85" fill="#111"/>
<circle cx="559.03" cy="493.75" r="0.85" fill="#111"/>
<circle cx="557.04" cy="486.96" r="0.85" fill="#111"/>
<circle cx="541.36" cy="489.51" r="0.85" fill="#111"/>
<circle cx="553.75" cy="490.11" r="0.85" fill="#111"/>
<circle cx="546.47" cy="490.77" r="0.85" fill="#111"/>
<circle cx="552.47" cy="491.60" r="0.85" fill="#111"/>
<circle cx="562.90" cy="494.22" r="0.85" fill="#111"/>
<circle cx="555.10" cy="493.12" r="0.85" fill="#111"/>
<circle cx="563.98" cy="490.64" r="0.85" fill="#111"/>
<circle cx="556.39" cy="492.87" r="0.85" fill="#111"/>
<circle cx="552.15" cy="486.34" r="0.85" fill="#111"/>
<circle cx="560.63" cy="486.55" r="0.85" fill="#111"/>
<circle cx="559.02" cy="487.08" r="0.85" fill="#111"/>
<circle cx="543.69" cy="493.22" r="0.85" fill="#111"/>
<circle cx="536.14" cy="486.18" r="0.85" fill="#111"/>
<circle cx="556.53" cy="493.29" r="0.85" fill="#111"/>
<circle cx="564.46" cy="494.29" r="0.85" fill="#111"/>
<circle cx="548.43" cy="490.90" r="0.85" fill="#111"/>
<circle cx="544.23" cy="489.27" r="0.85" fill="#111"/>
<circle cx="553.26" cy="486.16" r="0.85" fill="#111"/>
<circle cx="556.87" cy="493.95" r="0.85" fill="#111"/>
<circle cx="557.31" cy="489.71" r="0.85" fill="#111"/>
<circle cx="550.53" cy="490.86" r="0.85" fill="#111"/>
<circle cx="551.72" cy="493.80" r="0.85" fill="#111"/>
<circle cx="550.14" cy="491.92" r="0.85" fill="#111"/>
<circle cx="547.34" cy="494.11" r="0.85" fill="#111"/>
<circle cx="550.56" cy="485.90" r="0.85" fill="#111"/>
<circle cx="547.36" cy="485.97" r="0.85" fill="#111"/>
<circle cx="553.43" cy="486.31" r="0.85" fill="#111"/>
<circle cx="553.78" cy="491.57" r="0.85" fill="#111"/>
<circle cx="545.46" cy="492.07" r="0.85" fill="#111"/>
<circle cx="544.09" cy="491.55" r="0.85" fill="#111"/>
<circle cx="558.32" cy="489.68" r="0.85" fill="#111"/>
<circle cx="552.73" cy="488.89" r="0.85" fill="#111"/>
<circle cx="538.58" cy="503.90" r="0.85" fill="#f08a20"/>
<circle cx="538.48" cy="505.39" r="0.85" fill="#f08a20"/>
<circle cx="527.86" cy="505.08" r="0.85" fill="#f08a20"/>
<circle cx="538.56" cy="505.65" r="0.85" fill="#f08a20"/>
<circle cx="537.94" cy="502.56" r="0.85" fill="#f08a20"/>
<circle cx="539.46" cy="501.60" r="0.85" fill="#f08a20"/>
<circle cx="533.16" cy="502.58" r="0.85" fill="#f08a20"/>
<circle cx="542.18" cy="501.73" r="0.85" fill="#f08a20"/>
<circle cx="538.63" cy="502.69" r="0.85" fill="#f08a20"/>
<circle cx="537.82" cy="503.35" r="0.85" fill="#f08a20"/>
<circle cx="530.69" cy="505.94" r="0.85" fill="#f08a20"/>
<circle cx="537.47" cy="505.68" r="0.85" fill="#f08a20"/>
<circle cx="538.49" cy="501.80" r="0.85" fill="#f08a20"/>
<circle cx="537.00" cy="505.57" r="0.85" fill="#f08a20"/>
<circle cx="538.22" cy="502.40" r="0.85" fill="#f08a20"/>
<circle cx="539.51" cy="506.63" r="0.85" fill="#f08a20"/>
<circle cx="537.23" cy="506.82" r="0.85" fill="#f08a20"/>
<circle cx="542.60" cy="502.55" r="0.85" fill="#f08a20"/>
<circle cx="543.81" cy="500.77" r="0.85" fill="#f08a20"/>
<circle cx="540.28" cy="504.47" r="0.85" fill="#f08a20"/>
<circle cx="540.37" cy="501.76" r="0.85" fill="#f08a20"/>
<circle cx="537.85" cy="503.84" r="0.85" fill="#f08a20"/>
<circle cx="532.35" cy="499.28" r="0.85" fill="#f08a20"/>
<circle cx="543.01" cy="506.66" r="0.85" fill="#f08a20"/>
<circle cx="542.89" cy="503.75" r="0.85" fill="#f08a20"/>
<circle cx="527.62" cy="500.34" r="0.85" fill="#f08a20"/>
<circle cx="549.06" cy="503.31" r="0.85" fill="#111"/>
<circle cx="551.66" cy="504.04" r="0.85" fill="#111"/>
<circle cx="550.00" cy="506.14" r="0.85" fill="#111"/>
<circle cx="553.11" cy="501.86" r="0.85" fill="#111"/>
<circle cx="546.71" cy="505.76" r="0.85" fill="#111"/>
<circle cx="546.12" cy="506.64" r="0.85" fill="#111"/>
<circle cx="560.62" cy="498.96" r="0.85" fill="#111"/>
<circle cx="556.56" cy="499.32" r="0.85" fill="#111"/>
<circle cx="548.41" cy="503.33" r="0.85" fill="#111"/>
<circle cx="548.12" cy="505.42" r="0.85" fill="#111"/>
<circle cx="542.25" cy="499.97" r="0.85" fill="#111"/>
<circle cx="545.05" cy="507.09" r="0.85" fill="#111"/>
<circle cx="553.05" cy="503.12" r="0.85" fill="#111"/>
<circle cx="549.42" cy="501.85" r="0.85" fill="#111"/>
<circle cx="556.98" cy="501.93" r="0.85" fill="#111"/>
<circle cx="546.57" cy="499.94" r="0.85" fill="#111"/>
<circle cx="554.90" cy="502.09" r="0.85" fill="#111"/>
<circle cx="544.03" cy="502.04" r="0.85" fill="#111"/>
<circle cx="556.01" cy="502.09" r="0.85" fill="#111"/>
<circle cx="560.51" cy="502.53" r="0.85" fill="#111"/>
<circle cx="541.38" cy="517.73" r="0.85" fill="#111"/>
<circle cx="542.39" cy="515.72" r="0.85" fill="#111"/>
<circle cx="538.71" cy="517.67" r="0.85" fill="#111"/>
<circle cx="539.72" cy="515.43" r="0.85" fill="#111"/>
<circle cx="552.03" cy="515.01" r="0.85" fill="#111"/>
<circle cx="552.41" cy="514.08" r="0.85" fill="#111"/>
<circle cx="543.31" cy="518.65" r="0.85" fill="#111"/>
<circle cx="547.47" cy="518.48" r="0.85" fill="#111"/>
<circle cx="547.58" cy="516.58" r="0.85" fill="#111"/>
<circle cx="535.73" cy="511.94" r="0.85" fill="#111"/>
<circle cx="536.58" cy="512.27" r="0.85" fill="#111"/>
<circle cx="539.93" cy="519.21" r="0.85" fill="#111"/>
<circle cx="537.33" cy="518.88" r="0.85" fill="#111"/>
<circle cx="536.11" cy="517.49" r="0.85" fill="#111"/>
<circle cx="551.11" cy="516.71" r="0.85" fill="#111"/>
<circle cx="550.33" cy="518.27" r="0.85" fill="#111"/>
<circle cx="544.30" cy="512.79" r="0.85" fill="#111"/>
<circle cx="549.28" cy="512.41" r="0.85" fill="#111"/>
<circle cx="540.37" cy="518.77" r="0.85" fill="#111"/>
<circle cx="538.65" cy="513.97" r="0.85" fill="#111"/>
<circle cx="546.49" cy="515.17" r="0.85" fill="#111"/>
<circle cx="541.28" cy="514.81" r="0.85" fill="#111"/>
<circle cx="542.34" cy="516.05" r="0.85" fill="#111"/>
<circle cx="549.18" cy="518.10" r="0.85" fill="#111"/>
<circle cx="536.94" cy="518.18" r="0.85" fill="#111"/>
<circle cx="547.71" cy="515.91" r="0.85" fill="#111"/>
<circle cx="547.06" cy="513.14" r="0.85" fill="#111"/>
<circle cx="535.58" cy="519.51" r="0.85" fill="#111"/>
<circle cx="544.42" cy="517.87" r="0.85" fill="#111"/>
<circle cx="537.47" cy="513.55" r="0.85" fill="#111"/>
<circle cx="541.52" cy="513.83" r="0.85" fill="#f08a20"/>
<circle cx="542.95" cy="514.36" r="0.85" fill="#f08a20"/>
<circle cx="543.14" cy="518.99" r="0.85" fill="#f08a20"/>
<circle cx="541.50" cy="513.71" r="0.85" fill="#f08a20"/>
<circle cx="539.12" cy="515.08" r="0.85" fill="#f08a20"/>
<circle cx="540.14" cy="514.57" r="0.85" fill="#f08a20"/>
<circle cx="544.08" cy="520.13" r="0.85" fill="#f08a20"/>
<circle cx="540.08" cy="515.78" r="0.85" fill="#f08a20"/>
<circle cx="544.90" cy="516.52" r="0.85" fill="#f08a20"/>
<circle cx="540.10" cy="519.01" r="0.85" fill="#f08a20"/>
<circle cx="539.00" cy="519.87" r="0.85" fill="#f08a20"/>
<circle cx="539.91" cy="513.85" r="0.85" fill="#f08a20"/>
<circle cx="543.31" cy="519.86" r="0.85" fill="#f08a20"/>
<circle cx="545.16" cy="513.47" r="0.85" fill="#f08a20"/>
<circle cx="537.08" cy="517.75" r="0.85" fill="#f08a20"/>
<circle cx="545.23" cy="514.02" r="0.85" fill="#f08a20"/>
<circle cx="534.57" cy="528.14" r="0.85" fill="#8a2aa8"/>
<circle cx="532.47" cy="525.53" r="0.85" fill="#8a2aa8"/>
<circle cx="534.09" cy="527.62" r="0.85" fill="#8a2aa8"/>
<circle cx="530.17" cy="524.85" r="0.85" fill="#8a2aa8"/>
<circle cx="526.39" cy="528.64" r="0.85" fill="#8a2aa8"/>
<circle cx="524.46" cy="532.35" r="0.85" fill="#8a2aa8"/>
<circle cx="527.25" cy="525.74" r="0.85" fill="#8a2aa8"/>
<circle cx="525.46" cy="525.69" r="0.85" fill="#8a2aa8"/>
<circle cx="534.91" cy="525.57" r="0.85" fill="#8a2aa8"/>
<circle cx="535.75" cy="530.90" r="0.85" fill="#8a2aa8"/>
<circle cx="532.91" cy="530.14" r="0.85" fill="#8a2aa8"/>
<circle cx="531.31" cy="526.90" r="0.85" fill="#8a2aa8"/>
<circle cx="532.86" cy="530.12" r="0.85" fill="#8a2aa8"/>
<circle cx="529.49" cy="528.70" r="0.85" fill="#8a2aa8"/>
<circle cx="526.65" cy="530.16" r="0.85" fill="#8a2aa8"/>
<circle cx="529.96" cy="529.90" r="0.85" fill="#8a2aa8"/>
<circle cx="532.12" cy="531.83" r="0.85" fill="#f08a20"/>
<circle cx="532.83" cy="532.16" r="0.85" fill="#f08a20"/>
<circle cx="523.89" cy="530.49" r="0.85" fill="#f08a20"/>
<circle cx="531.14" cy="529.92" r="0.85" fill="#f08a20"/>
<circle cx="527.09" cy="526.19" r="0.85" fill="#f08a20"/>
<circle cx="515.80" cy="530.76" r="0.85" fill="#f08a20"/>
<circle cx="529.57" cy="527.64" r="0.85" fill="#f08a20"/>
<circle cx="525.69" cy="531.69" r="0.85" fill="#f08a20"/>
<circle cx="515.03" cy="526.75" r="0.85" fill="#f08a20"/>
<circle cx="536.12" cy="527.43" r="0.85" fill="#f08a20"/>
<circle cx="525.51" cy="530.90" r="0.85" fill="#f08a20"/>
<circle cx="524.05" cy="525.69" r="0.85" fill="#f08a20"/>
<circle cx="525.76" cy="525.69" r="0.85" fill="#f08a20"/>
<circle cx="536.41" cy="526.26" r="0.85" fill="#f08a20"/>
<circle cx="524.58" cy="530.67" r="0.85" fill="#f08a20"/>
<circle cx="539.98" cy="529.48" r="0.85" fill="#111"/>
<circle cx="529.65" cy="526.33" r="0.85" fill="#111"/>
<circle cx="535.53" cy="526.40" r="0.85" fill="#111"/>
<circle cx="531.25" cy="525.04" r="0.85" fill="#111"/>
<circle cx="539.79" cy="532.30" r="0.85" fill="#111"/>
<circle cx="533.30" cy="529.41" r="0.85" fill="#111"/>
<circle cx="537.17" cy="530.22" r="0.85" fill="#111"/>
<circle cx="532.01" cy="528.62" r="0.85" fill="#111"/>
<circle cx="536.67" cy="524.82" r="0.85" fill="#111"/>
<circle cx="539.28" cy="528.69" r="0.85" fill="#111"/>
<circle cx="535.47" cy="526.33" r="0.85" fill="#111"/>
<circle cx="535.56" cy="528.75" r="0.85" fill="#111"/>
<line x1="502.70" y1="481.50" x2="502.70" y2="536.60" stroke="#222" stroke-width="0.8"/>
<line x1="500.70" y1="490.05" x2="502.70" y2="490.05" stroke="#222" stroke-width="0.7"/>
<line x1="500.70" y1="503.10" x2="502.70" y2="503.10" stroke="#222" stroke-width="0.7"/>
<line x1="500.70" y1="516.05" x2="502.70" y2="516.05" stroke="#222" stroke-width="0.7"/>
<line x1="500.70" y1="528.75" x2="502.70" y2="528.75" stroke="#222" stroke-width="0.7"/>
<line x1="502.70" y1="536.60" x2="595.29" y2="536.60" stroke="#222" stroke-width="0.8"/>
<line x1="502.70" y1="536.60" x2="502.70" y2="538.60" stroke="#222" stroke-width="0.8"/>
<text x="502.70" y="546.56" font-size="7.4" text-anchor="middle" fill="#222" stroke="#222" stroke-width="0.22">0</text>
<line x1="533.56" y1="536.60" x2="533.56" y2="538.60" stroke="#222" stroke-width="0.8"/>
<text x="533.56" y="546.56" font-size="7.4" text-anchor="middle" fill="#222" stroke="#222" stroke-width="0.22">50</text>
<line x1="564.43" y1="536.60" x2="564.43" y2="538.60" stroke="#222" stroke-width="0.8"/>
<text x="564.43" y="546.56" font-size="7.4" text-anchor="middle" fill="#222" stroke="#222" stroke-width="0.22">100</text>
<line x1="595.29" y1="536.60" x2="595.29" y2="538.60" stroke="#222" stroke-width="0.8"/>
<text x="595.29" y="546.56" font-size="7.4" text-anchor="middle" fill="#222" stroke="#222" stroke-width="0.22">150</text>
<text x="555.20" y="556.75" font-size="7.35" text-anchor="middle" fill="#222" stroke="#222" stroke-width="0.21">MAP2+ Nuclear ERRα+/ Total MAP2+ (%)</text>
<text x="577.70" y="489.50" font-size="5.55" text-anchor="start" fill="#222" font-style="italic">LOAD vs. Non-dementia</text>
<text x="577.70" y="496.40" font-size="5.55" text-anchor="start" fill="#222" font-style="italic">Male, p = 0.00397</text>
<text x="577.70" y="503.40" font-size="5.55" text-anchor="start" fill="#222" font-style="italic">Female, p = 3.00E-8</text>
<text x="577.70" y="515.80" font-size="5.55" text-anchor="start" fill="#222" font-style="italic">Female ND vs. Male ND, p = 0.0067</text>
<text x="577.70" y="522.20" font-size="5.55" text-anchor="start" fill="#222" font-style="italic">Female LOAD vs. Male LOAD, p = 1.11E-7</text>
<circle cx="643.40" cy="536.60" r="1.60" fill="#111"/>
<text x="648.30" y="538.60" font-size="5.55" text-anchor="start" fill="#222" font-style="italic">APOE3/3</text>
<circle cx="643.40" cy="543.00" r="1.60" fill="#f08a20"/>
<text x="648.30" y="545.00" font-size="5.55" text-anchor="start" fill="#222" font-style="italic">APOE3/4</text>
<circle cx="643.40" cy="549.30" r="1.60" fill="#8a2aa8"/>
<text x="648.30" y="551.30" font-size="5.55" text-anchor="start" fill="#222" font-style="italic">APOE4/4</text>
</svg></body></html>
